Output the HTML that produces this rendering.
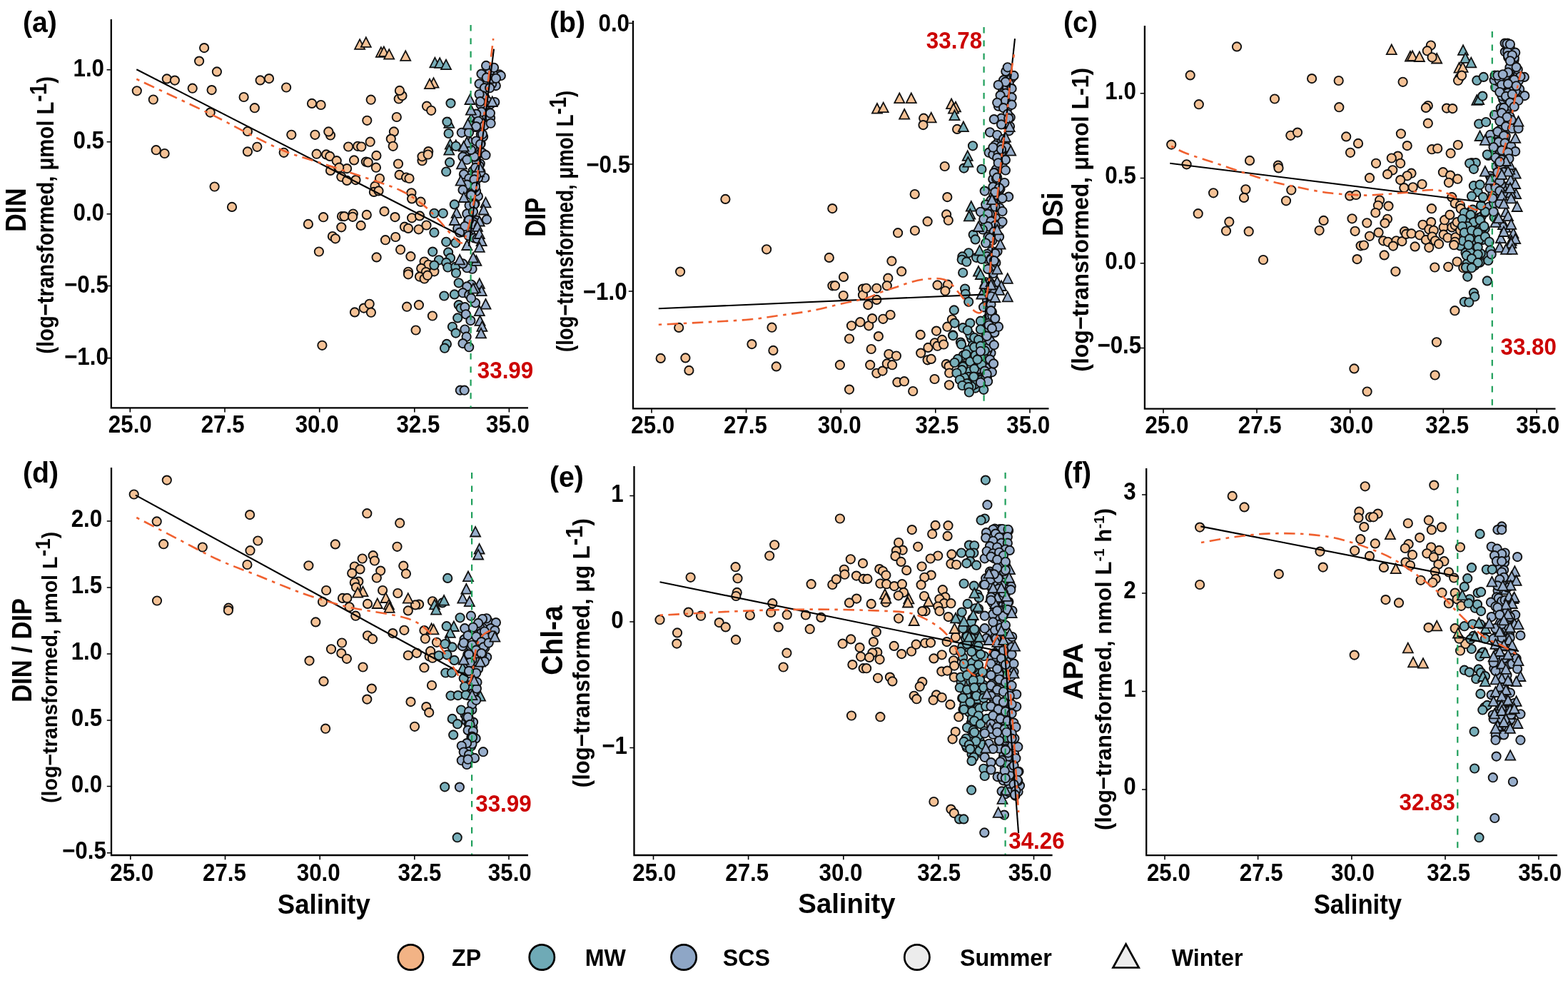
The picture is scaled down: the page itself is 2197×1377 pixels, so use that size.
<!DOCTYPE html>
<html lang="en"><head><meta charset="utf-8"><title>Nutrients versus salinity</title>
<style>
html,body{margin:0;padding:0;background:#fff;}
body{width:2197px;height:1377px;overflow:hidden;}
svg{display:block;font-family:"Liberation Sans", Arial, Helvetica, sans-serif;font-weight:bold;}
</style></head><body>
<svg xmlns="http://www.w3.org/2000/svg" width="2197" height="1377" viewBox="0 0 2197 1377">
<rect width="2197" height="1377" fill="#fff"/>
<g id="panel-a">
<path d="M155.8 27V571.4H740" fill="none" stroke="#000" stroke-width="2.3" stroke-linejoin="miter"/>
<path d="M182.3 571.4v6.2M315 571.4v6.2M447.7 571.4v6.2M580.8 571.4v6.2M713.4 571.4v6.2M155.8 97.7h-6.2M155.8 198.8h-6.2M155.8 299.7h-6.2M155.8 400.5h-6.2M155.8 501.6h-6.2" fill="none" stroke="#000" stroke-width="1.6"/>
<text transform="translate(182.3 606.0) scale(0.908 1)" font-size="34.5" text-anchor="middle" fill="#000">25.0</text>
<text transform="translate(312.1 606.0) scale(0.908 1)" font-size="34.5" text-anchor="middle" fill="#000">27.5</text>
<text transform="translate(444.1 606.0) scale(0.908 1)" font-size="34.5" text-anchor="middle" fill="#000">30.0</text>
<text transform="translate(585.9 606.0) scale(0.908 1)" font-size="34.5" text-anchor="middle" fill="#000">32.5</text>
<text transform="translate(711.5 606.0) scale(0.908 1)" font-size="34.5" text-anchor="middle" fill="#000">35.0</text>
<text transform="translate(146.0 107.0) scale(0.908 1)" font-size="34.5" text-anchor="end" fill="#000">1.0</text>
<text transform="translate(146.0 208.1) scale(0.908 1)" font-size="34.5" text-anchor="end" fill="#000">0.5</text>
<text transform="translate(146.0 309.0) scale(0.908 1)" font-size="34.5" text-anchor="end" fill="#000">0.0</text>
<text transform="translate(151.9 409.8) scale(0.908 1)" font-size="34.5" text-anchor="end" fill="#000">−0.5</text>
<text transform="translate(151.9 510.9) scale(0.908 1)" font-size="34.5" text-anchor="end" fill="#000">−1.0</text>
<text transform="translate(36.0 294.2) rotate(-90) scale(0.8712 1)" font-size="41" text-anchor="middle" fill="#000">DIN</text>
<text transform="translate(75.0 301.4) rotate(-90) scale(0.8596 1)" font-size="34" text-anchor="middle" fill="#000">(log−transformed, μmol L<tspan dy="-10">-1</tspan><tspan dy="10">)</tspan></text>
<text transform="translate(32.0 45.0) scale(0.98 1)" font-size="40" text-anchor="start" fill="#000">(a)</text>
<circle cx="665.4" cy="276.8" r="6.15" fill="#98AECB" stroke="#111" stroke-width="1.9"/>
<circle cx="699.9" cy="104.4" r="6.15" fill="#98AECB" stroke="#111" stroke-width="1.9"/>
<circle cx="679.1" cy="249.0" r="6.15" fill="#98AECB" stroke="#111" stroke-width="1.9"/>
<circle cx="679.3" cy="136.4" r="6.15" fill="#98AECB" stroke="#111" stroke-width="1.9"/>
<circle cx="672.7" cy="229.3" r="6.15" fill="#98AECB" stroke="#111" stroke-width="1.9"/>
<circle cx="669.9" cy="249.4" r="6.15" fill="#98AECB" stroke="#111" stroke-width="1.9"/>
<circle cx="660.5" cy="203.8" r="6.15" fill="#98AECB" stroke="#111" stroke-width="1.9"/>
<circle cx="658.8" cy="324.9" r="6.15" fill="#98AECB" stroke="#111" stroke-width="1.9"/>
<circle cx="677.6" cy="138.5" r="6.15" fill="#98AECB" stroke="#111" stroke-width="1.9"/>
<circle cx="661.7" cy="260.8" r="6.15" fill="#98AECB" stroke="#111" stroke-width="1.9"/>
<circle cx="661.1" cy="214.4" r="6.15" fill="#98AECB" stroke="#111" stroke-width="1.9"/>
<circle cx="669.9" cy="274.9" r="6.15" fill="#98AECB" stroke="#111" stroke-width="1.9"/>
<circle cx="671.3" cy="232.3" r="6.15" fill="#98AECB" stroke="#111" stroke-width="1.9"/>
<polygon points="659.0,190.7 652.0,204.3 666.0,204.3" fill="#98AECB" stroke="#111" stroke-width="1.8" stroke-linejoin="miter"/>
<circle cx="667.6" cy="226.1" r="6.15" fill="#98AECB" stroke="#111" stroke-width="1.9"/>
<circle cx="665.5" cy="219.7" r="6.15" fill="#98AECB" stroke="#111" stroke-width="1.9"/>
<circle cx="662.2" cy="264.8" r="6.15" fill="#98AECB" stroke="#111" stroke-width="1.9"/>
<circle cx="672.1" cy="210.6" r="6.15" fill="#98AECB" stroke="#111" stroke-width="1.9"/>
<circle cx="673.8" cy="188.5" r="6.15" fill="#98AECB" stroke="#111" stroke-width="1.9"/>
<circle cx="661.6" cy="302.9" r="6.15" fill="#98AECB" stroke="#111" stroke-width="1.9"/>
<circle cx="664.3" cy="206.9" r="6.15" fill="#98AECB" stroke="#111" stroke-width="1.9"/>
<circle cx="676.3" cy="174.4" r="6.15" fill="#98AECB" stroke="#111" stroke-width="1.9"/>
<polygon points="670.8,233.8 663.8,247.4 677.8,247.4" fill="#98AECB" stroke="#111" stroke-width="1.8" stroke-linejoin="miter"/>
<circle cx="694.8" cy="120.1" r="6.15" fill="#98AECB" stroke="#111" stroke-width="1.9"/>
<circle cx="687.2" cy="146.1" r="6.15" fill="#98AECB" stroke="#111" stroke-width="1.9"/>
<circle cx="667.9" cy="308.8" r="6.15" fill="#98AECB" stroke="#111" stroke-width="1.9"/>
<circle cx="651.6" cy="325.2" r="6.15" fill="#98AECB" stroke="#111" stroke-width="1.9"/>
<circle cx="662.7" cy="239.3" r="6.15" fill="#98AECB" stroke="#111" stroke-width="1.9"/>
<circle cx="679.1" cy="116.8" r="6.15" fill="#98AECB" stroke="#111" stroke-width="1.9"/>
<circle cx="682.5" cy="117.5" r="6.15" fill="#98AECB" stroke="#111" stroke-width="1.9"/>
<circle cx="667.1" cy="267.8" r="6.15" fill="#98AECB" stroke="#111" stroke-width="1.9"/>
<polygon points="666.3,170.6 659.3,184.2 673.3,184.2" fill="#98AECB" stroke="#111" stroke-width="1.8" stroke-linejoin="miter"/>
<circle cx="656.5" cy="312.3" r="6.15" fill="#98AECB" stroke="#111" stroke-width="1.9"/>
<polygon points="660.9,157.7 653.9,171.3 667.9,171.3" fill="#98AECB" stroke="#111" stroke-width="1.8" stroke-linejoin="miter"/>
<circle cx="673.5" cy="241.1" r="6.15" fill="#98AECB" stroke="#111" stroke-width="1.9"/>
<circle cx="661.3" cy="313.0" r="6.15" fill="#98AECB" stroke="#111" stroke-width="1.9"/>
<polygon points="668.5,157.5 661.5,171.1 675.5,171.1" fill="#98AECB" stroke="#111" stroke-width="1.8" stroke-linejoin="miter"/>
<circle cx="684.6" cy="157.0" r="6.15" fill="#98AECB" stroke="#111" stroke-width="1.9"/>
<circle cx="656.6" cy="330.3" r="6.15" fill="#98AECB" stroke="#111" stroke-width="1.9"/>
<circle cx="682.8" cy="141.4" r="6.15" fill="#98AECB" stroke="#111" stroke-width="1.9"/>
<circle cx="673.7" cy="200.9" r="6.15" fill="#98AECB" stroke="#111" stroke-width="1.9"/>
<circle cx="675.2" cy="140.1" r="6.15" fill="#98AECB" stroke="#111" stroke-width="1.9"/>
<circle cx="654.5" cy="314.6" r="6.15" fill="#98AECB" stroke="#111" stroke-width="1.9"/>
<circle cx="657.0" cy="247.6" r="6.15" fill="#98AECB" stroke="#111" stroke-width="1.9"/>
<circle cx="680.0" cy="146.8" r="6.15" fill="#98AECB" stroke="#111" stroke-width="1.9"/>
<circle cx="679.5" cy="172.0" r="6.15" fill="#98AECB" stroke="#111" stroke-width="1.9"/>
<circle cx="660.8" cy="245.0" r="6.15" fill="#98AECB" stroke="#111" stroke-width="1.9"/>
<circle cx="664.6" cy="333.4" r="6.15" fill="#98AECB" stroke="#111" stroke-width="1.9"/>
<circle cx="666.1" cy="238.1" r="6.15" fill="#98AECB" stroke="#111" stroke-width="1.9"/>
<polygon points="655.9,203.3 648.9,216.9 662.9,216.9" fill="#98AECB" stroke="#111" stroke-width="1.8" stroke-linejoin="miter"/>
<circle cx="682.2" cy="162.8" r="6.15" fill="#98AECB" stroke="#111" stroke-width="1.9"/>
<circle cx="687.1" cy="164.9" r="6.15" fill="#98AECB" stroke="#111" stroke-width="1.9"/>
<circle cx="666.2" cy="234.9" r="6.15" fill="#98AECB" stroke="#111" stroke-width="1.9"/>
<circle cx="691.7" cy="105.2" r="6.15" fill="#98AECB" stroke="#111" stroke-width="1.9"/>
<circle cx="663.7" cy="311.1" r="6.15" fill="#98AECB" stroke="#111" stroke-width="1.9"/>
<circle cx="665.5" cy="285.2" r="6.15" fill="#98AECB" stroke="#111" stroke-width="1.9"/>
<circle cx="665.7" cy="257.7" r="6.15" fill="#98AECB" stroke="#111" stroke-width="1.9"/>
<circle cx="693.3" cy="143.0" r="6.15" fill="#98AECB" stroke="#111" stroke-width="1.9"/>
<circle cx="701.8" cy="106.0" r="6.15" fill="#98AECB" stroke="#111" stroke-width="1.9"/>
<circle cx="677.1" cy="191.4" r="6.15" fill="#98AECB" stroke="#111" stroke-width="1.9"/>
<circle cx="663.5" cy="314.4" r="6.15" fill="#98AECB" stroke="#111" stroke-width="1.9"/>
<circle cx="657.6" cy="287.7" r="6.15" fill="#98AECB" stroke="#111" stroke-width="1.9"/>
<circle cx="673.4" cy="143.4" r="6.15" fill="#98AECB" stroke="#111" stroke-width="1.9"/>
<circle cx="660.8" cy="253.9" r="6.15" fill="#98AECB" stroke="#111" stroke-width="1.9"/>
<circle cx="689.1" cy="117.7" r="6.15" fill="#98AECB" stroke="#111" stroke-width="1.9"/>
<circle cx="673.4" cy="146.3" r="6.15" fill="#98AECB" stroke="#111" stroke-width="1.9"/>
<circle cx="656.1" cy="309.0" r="6.15" fill="#98AECB" stroke="#111" stroke-width="1.9"/>
<circle cx="686.6" cy="99.6" r="6.15" fill="#98AECB" stroke="#111" stroke-width="1.9"/>
<circle cx="665.1" cy="263.2" r="6.15" fill="#98AECB" stroke="#111" stroke-width="1.9"/>
<circle cx="668.6" cy="334.4" r="6.15" fill="#98AECB" stroke="#111" stroke-width="1.9"/>
<circle cx="676.0" cy="214.3" r="6.15" fill="#98AECB" stroke="#111" stroke-width="1.9"/>
<circle cx="661.8" cy="206.5" r="6.15" fill="#98AECB" stroke="#111" stroke-width="1.9"/>
<circle cx="663.0" cy="251.9" r="6.15" fill="#98AECB" stroke="#111" stroke-width="1.9"/>
<circle cx="660.2" cy="271.8" r="6.15" fill="#98AECB" stroke="#111" stroke-width="1.9"/>
<circle cx="666.9" cy="246.0" r="6.15" fill="#98AECB" stroke="#111" stroke-width="1.9"/>
<circle cx="689.4" cy="110.4" r="6.15" fill="#98AECB" stroke="#111" stroke-width="1.9"/>
<circle cx="191.8" cy="127.3" r="6.15" fill="#F5C296" stroke="#111" stroke-width="1.9"/>
<circle cx="214.8" cy="139.5" r="6.15" fill="#F5C296" stroke="#111" stroke-width="1.9"/>
<circle cx="233.8" cy="110.4" r="6.15" fill="#F5C296" stroke="#111" stroke-width="1.9"/>
<circle cx="244.9" cy="112.6" r="6.15" fill="#F5C296" stroke="#111" stroke-width="1.9"/>
<circle cx="286.1" cy="67.1" r="6.15" fill="#F5C296" stroke="#111" stroke-width="1.9"/>
<circle cx="279.1" cy="85.6" r="6.15" fill="#F5C296" stroke="#111" stroke-width="1.9"/>
<circle cx="303.9" cy="100.4" r="6.15" fill="#F5C296" stroke="#111" stroke-width="1.9"/>
<circle cx="269.7" cy="123.7" r="6.15" fill="#F5C296" stroke="#111" stroke-width="1.9"/>
<circle cx="296.6" cy="126.1" r="6.15" fill="#F5C296" stroke="#111" stroke-width="1.9"/>
<circle cx="294.7" cy="157.6" r="6.15" fill="#F5C296" stroke="#111" stroke-width="1.9"/>
<circle cx="341.6" cy="136.0" r="6.15" fill="#F5C296" stroke="#111" stroke-width="1.9"/>
<circle cx="356.8" cy="151.2" r="6.15" fill="#F5C296" stroke="#111" stroke-width="1.9"/>
<circle cx="364.6" cy="112.4" r="6.15" fill="#F5C296" stroke="#111" stroke-width="1.9"/>
<circle cx="377.0" cy="110.1" r="6.15" fill="#F5C296" stroke="#111" stroke-width="1.9"/>
<circle cx="401.1" cy="122.5" r="6.15" fill="#F5C296" stroke="#111" stroke-width="1.9"/>
<circle cx="346.9" cy="184.0" r="6.15" fill="#F5C296" stroke="#111" stroke-width="1.9"/>
<circle cx="360.3" cy="205.8" r="6.15" fill="#F5C296" stroke="#111" stroke-width="1.9"/>
<circle cx="346.9" cy="212.4" r="6.15" fill="#F5C296" stroke="#111" stroke-width="1.9"/>
<circle cx="408.3" cy="188.8" r="6.15" fill="#F5C296" stroke="#111" stroke-width="1.9"/>
<circle cx="397.7" cy="213.8" r="6.15" fill="#F5C296" stroke="#111" stroke-width="1.9"/>
<circle cx="437.0" cy="144.9" r="6.15" fill="#F5C296" stroke="#111" stroke-width="1.9"/>
<circle cx="449.6" cy="147.0" r="6.15" fill="#F5C296" stroke="#111" stroke-width="1.9"/>
<circle cx="441.4" cy="188.8" r="6.15" fill="#F5C296" stroke="#111" stroke-width="1.9"/>
<circle cx="463.0" cy="189.5" r="6.15" fill="#F5C296" stroke="#111" stroke-width="1.9"/>
<circle cx="460.3" cy="184.4" r="6.15" fill="#F5C296" stroke="#111" stroke-width="1.9"/>
<circle cx="443.6" cy="215.7" r="6.15" fill="#F5C296" stroke="#111" stroke-width="1.9"/>
<circle cx="457.1" cy="216.4" r="6.15" fill="#F5C296" stroke="#111" stroke-width="1.9"/>
<circle cx="462.2" cy="218.9" r="6.15" fill="#F5C296" stroke="#111" stroke-width="1.9"/>
<circle cx="471.7" cy="225.2" r="6.15" fill="#F5C296" stroke="#111" stroke-width="1.9"/>
<circle cx="218.7" cy="210.2" r="6.15" fill="#F5C296" stroke="#111" stroke-width="1.9"/>
<circle cx="230.6" cy="215.0" r="6.15" fill="#F5C296" stroke="#111" stroke-width="1.9"/>
<polygon points="504.1,55.2 497.1,68.8 511.1,68.8" fill="#F5C296" stroke="#111" stroke-width="1.8" stroke-linejoin="miter"/>
<polygon points="512.8,52.3 505.8,65.9 519.8,65.9" fill="#F5C296" stroke="#111" stroke-width="1.8" stroke-linejoin="miter"/>
<polygon points="533.9,66.2 526.9,79.8 540.9,79.8" fill="#F5C296" stroke="#111" stroke-width="1.8" stroke-linejoin="miter"/>
<polygon points="537.9,65.4 530.9,79.0 544.9,79.0" fill="#F5C296" stroke="#111" stroke-width="1.8" stroke-linejoin="miter"/>
<polygon points="545.2,69.1 538.2,82.7 552.2,82.7" fill="#F5C296" stroke="#111" stroke-width="1.8" stroke-linejoin="miter"/>
<polygon points="568.2,71.3 561.2,84.9 575.2,84.9" fill="#F5C296" stroke="#111" stroke-width="1.8" stroke-linejoin="miter"/>
<polygon points="607.5,109.1 600.5,122.7 614.5,122.7" fill="#F5C296" stroke="#111" stroke-width="1.8" stroke-linejoin="miter"/>
<polygon points="602.0,110.6 595.0,124.2 609.0,124.2" fill="#F5C296" stroke="#111" stroke-width="1.8" stroke-linejoin="miter"/>
<polygon points="609.4,80.7 602.4,94.3 616.4,94.3" fill="#78AFBA" stroke="#111" stroke-width="1.8" stroke-linejoin="miter"/>
<polygon points="616.2,81.2 609.2,94.8 623.2,94.8" fill="#78AFBA" stroke="#111" stroke-width="1.8" stroke-linejoin="miter"/>
<polygon points="625.0,83.6 618.0,97.2 632.0,97.2" fill="#78AFBA" stroke="#111" stroke-width="1.8" stroke-linejoin="miter"/>
<polygon points="629.3,165.2 622.3,178.8 636.3,178.8" fill="#78AFBA" stroke="#111" stroke-width="1.8" stroke-linejoin="miter"/>
<polygon points="630.8,195.1 623.8,208.7 637.8,208.7" fill="#78AFBA" stroke="#111" stroke-width="1.8" stroke-linejoin="miter"/>
<polygon points="629.3,203.1 622.3,216.7 636.3,216.7" fill="#78AFBA" stroke="#111" stroke-width="1.8" stroke-linejoin="miter"/>
<polygon points="638.8,196.5 631.8,210.1 645.8,210.1" fill="#78AFBA" stroke="#111" stroke-width="1.8" stroke-linejoin="miter"/>
<circle cx="519.7" cy="139.7" r="6.15" fill="#F5C296" stroke="#111" stroke-width="1.9"/>
<circle cx="558.7" cy="138.5" r="6.15" fill="#F5C296" stroke="#111" stroke-width="1.9"/>
<circle cx="563.5" cy="134.1" r="6.15" fill="#F5C296" stroke="#111" stroke-width="1.9"/>
<circle cx="559.9" cy="126.9" r="6.15" fill="#F5C296" stroke="#111" stroke-width="1.9"/>
<circle cx="598.0" cy="148.7" r="6.15" fill="#F5C296" stroke="#111" stroke-width="1.9"/>
<circle cx="604.2" cy="154.8" r="6.15" fill="#F5C296" stroke="#111" stroke-width="1.9"/>
<circle cx="555.8" cy="164.0" r="6.15" fill="#F5C296" stroke="#111" stroke-width="1.9"/>
<circle cx="514.3" cy="168.8" r="6.15" fill="#F5C296" stroke="#111" stroke-width="1.9"/>
<circle cx="551.9" cy="184.4" r="6.15" fill="#F5C296" stroke="#111" stroke-width="1.9"/>
<circle cx="547.8" cy="194.6" r="6.15" fill="#F5C296" stroke="#111" stroke-width="1.9"/>
<circle cx="550.7" cy="204.8" r="6.15" fill="#F5C296" stroke="#111" stroke-width="1.9"/>
<circle cx="518.7" cy="198.7" r="6.15" fill="#F5C296" stroke="#111" stroke-width="1.9"/>
<circle cx="488.1" cy="205.5" r="6.15" fill="#F5C296" stroke="#111" stroke-width="1.9"/>
<circle cx="501.2" cy="204.8" r="6.15" fill="#F5C296" stroke="#111" stroke-width="1.9"/>
<circle cx="506.3" cy="205.5" r="6.15" fill="#F5C296" stroke="#111" stroke-width="1.9"/>
<circle cx="496.1" cy="224.4" r="6.15" fill="#F5C296" stroke="#111" stroke-width="1.9"/>
<circle cx="512.8" cy="226.6" r="6.15" fill="#F5C296" stroke="#111" stroke-width="1.9"/>
<circle cx="515.7" cy="227.4" r="6.15" fill="#F5C296" stroke="#111" stroke-width="1.9"/>
<circle cx="527.4" cy="217.9" r="6.15" fill="#F5C296" stroke="#111" stroke-width="1.9"/>
<circle cx="558.0" cy="229.5" r="6.15" fill="#F5C296" stroke="#111" stroke-width="1.9"/>
<circle cx="591.5" cy="225.2" r="6.15" fill="#F5C296" stroke="#111" stroke-width="1.9"/>
<circle cx="591.5" cy="219.3" r="6.15" fill="#F5C296" stroke="#111" stroke-width="1.9"/>
<circle cx="600.2" cy="212.1" r="6.15" fill="#F5C296" stroke="#111" stroke-width="1.9"/>
<circle cx="631.5" cy="144.6" r="6.15" fill="#78AFBA" stroke="#111" stroke-width="1.9"/>
<circle cx="626.4" cy="170.6" r="6.15" fill="#78AFBA" stroke="#111" stroke-width="1.9"/>
<circle cx="628.6" cy="187.0" r="6.15" fill="#78AFBA" stroke="#111" stroke-width="1.9"/>
<circle cx="638.8" cy="204.8" r="6.15" fill="#78AFBA" stroke="#111" stroke-width="1.9"/>
<circle cx="630.1" cy="227.4" r="6.15" fill="#78AFBA" stroke="#111" stroke-width="1.9"/>
<circle cx="300.6" cy="261.5" r="6.15" fill="#F5C296" stroke="#111" stroke-width="1.9"/>
<circle cx="325.0" cy="289.9" r="6.15" fill="#F5C296" stroke="#111" stroke-width="1.9"/>
<circle cx="431.9" cy="313.9" r="6.15" fill="#F5C296" stroke="#111" stroke-width="1.9"/>
<circle cx="453.1" cy="304.2" r="6.15" fill="#F5C296" stroke="#111" stroke-width="1.9"/>
<circle cx="465.9" cy="331.0" r="6.15" fill="#F5C296" stroke="#111" stroke-width="1.9"/>
<circle cx="469.9" cy="334.3" r="6.15" fill="#F5C296" stroke="#111" stroke-width="1.9"/>
<circle cx="446.9" cy="352.5" r="6.15" fill="#F5C296" stroke="#111" stroke-width="1.9"/>
<circle cx="463.0" cy="238.9" r="6.15" fill="#F5C296" stroke="#111" stroke-width="1.9"/>
<circle cx="478.3" cy="247.7" r="6.15" fill="#F5C296" stroke="#111" stroke-width="1.9"/>
<circle cx="479.0" cy="303.0" r="6.15" fill="#F5C296" stroke="#111" stroke-width="1.9"/>
<circle cx="478.3" cy="318.3" r="6.15" fill="#F5C296" stroke="#111" stroke-width="1.9"/>
<circle cx="526.9" cy="234.7" r="6.15" fill="#F5C296" stroke="#111" stroke-width="1.9"/>
<circle cx="486.1" cy="236.1" r="6.15" fill="#F5C296" stroke="#111" stroke-width="1.9"/>
<circle cx="475.2" cy="234.7" r="6.15" fill="#F5C296" stroke="#111" stroke-width="1.9"/>
<circle cx="486.1" cy="252.9" r="6.15" fill="#F5C296" stroke="#111" stroke-width="1.9"/>
<circle cx="498.5" cy="252.1" r="6.15" fill="#F5C296" stroke="#111" stroke-width="1.9"/>
<circle cx="532.0" cy="250.0" r="6.15" fill="#F5C296" stroke="#111" stroke-width="1.9"/>
<circle cx="525.4" cy="260.9" r="6.15" fill="#F5C296" stroke="#111" stroke-width="1.9"/>
<circle cx="523.9" cy="268.9" r="6.15" fill="#F5C296" stroke="#111" stroke-width="1.9"/>
<circle cx="530.5" cy="267.4" r="6.15" fill="#F5C296" stroke="#111" stroke-width="1.9"/>
<circle cx="559.6" cy="244.9" r="6.15" fill="#F5C296" stroke="#111" stroke-width="1.9"/>
<circle cx="569.1" cy="248.5" r="6.15" fill="#F5C296" stroke="#111" stroke-width="1.9"/>
<circle cx="573.5" cy="250.0" r="6.15" fill="#F5C296" stroke="#111" stroke-width="1.9"/>
<circle cx="599.7" cy="216.5" r="6.15" fill="#F5C296" stroke="#111" stroke-width="1.9"/>
<circle cx="576.4" cy="270.3" r="6.15" fill="#F5C296" stroke="#111" stroke-width="1.9"/>
<circle cx="577.1" cy="278.4" r="6.15" fill="#F5C296" stroke="#111" stroke-width="1.9"/>
<circle cx="589.5" cy="282.7" r="6.15" fill="#F5C296" stroke="#111" stroke-width="1.9"/>
<circle cx="482.4" cy="303.1" r="6.15" fill="#F5C296" stroke="#111" stroke-width="1.9"/>
<circle cx="494.8" cy="299.5" r="6.15" fill="#F5C296" stroke="#111" stroke-width="1.9"/>
<circle cx="494.1" cy="303.8" r="6.15" fill="#F5C296" stroke="#111" stroke-width="1.9"/>
<circle cx="505.7" cy="315.9" r="6.15" fill="#F5C296" stroke="#111" stroke-width="1.9"/>
<circle cx="513.8" cy="300.9" r="6.15" fill="#F5C296" stroke="#111" stroke-width="1.9"/>
<circle cx="538.5" cy="296.1" r="6.15" fill="#F5C296" stroke="#111" stroke-width="1.9"/>
<circle cx="553.5" cy="304.1" r="6.15" fill="#F5C296" stroke="#111" stroke-width="1.9"/>
<circle cx="577.1" cy="305.3" r="6.15" fill="#F5C296" stroke="#111" stroke-width="1.9"/>
<circle cx="588.0" cy="302.4" r="6.15" fill="#F5C296" stroke="#111" stroke-width="1.9"/>
<circle cx="566.9" cy="317.7" r="6.15" fill="#F5C296" stroke="#111" stroke-width="1.9"/>
<circle cx="572.0" cy="319.9" r="6.15" fill="#F5C296" stroke="#111" stroke-width="1.9"/>
<circle cx="586.6" cy="321.3" r="6.15" fill="#F5C296" stroke="#111" stroke-width="1.9"/>
<circle cx="597.5" cy="315.5" r="6.15" fill="#F5C296" stroke="#111" stroke-width="1.9"/>
<circle cx="540.0" cy="336.2" r="6.15" fill="#F5C296" stroke="#111" stroke-width="1.9"/>
<circle cx="554.2" cy="332.0" r="6.15" fill="#F5C296" stroke="#111" stroke-width="1.9"/>
<circle cx="527.6" cy="360.4" r="6.15" fill="#F5C296" stroke="#111" stroke-width="1.9"/>
<circle cx="561.1" cy="349.7" r="6.15" fill="#F5C296" stroke="#111" stroke-width="1.9"/>
<circle cx="575.4" cy="359.2" r="6.15" fill="#F5C296" stroke="#111" stroke-width="1.9"/>
<circle cx="594.6" cy="366.5" r="6.15" fill="#F5C296" stroke="#111" stroke-width="1.9"/>
<circle cx="600.4" cy="370.8" r="6.15" fill="#F5C296" stroke="#111" stroke-width="1.9"/>
<circle cx="590.2" cy="375.9" r="6.15" fill="#F5C296" stroke="#111" stroke-width="1.9"/>
<circle cx="572.0" cy="380.8" r="6.15" fill="#F5C296" stroke="#111" stroke-width="1.9"/>
<circle cx="596.8" cy="381.0" r="6.15" fill="#F5C296" stroke="#111" stroke-width="1.9"/>
<circle cx="608.4" cy="380.3" r="6.15" fill="#F5C296" stroke="#111" stroke-width="1.9"/>
<circle cx="588.0" cy="387.6" r="6.15" fill="#F5C296" stroke="#111" stroke-width="1.9"/>
<circle cx="594.6" cy="390.5" r="6.15" fill="#F5C296" stroke="#111" stroke-width="1.9"/>
<circle cx="625.2" cy="240.5" r="6.15" fill="#78AFBA" stroke="#111" stroke-width="1.9"/>
<circle cx="608.4" cy="298.8" r="6.15" fill="#78AFBA" stroke="#111" stroke-width="1.9"/>
<circle cx="620.8" cy="298.8" r="6.15" fill="#78AFBA" stroke="#111" stroke-width="1.9"/>
<circle cx="608.4" cy="325.7" r="6.15" fill="#78AFBA" stroke="#111" stroke-width="1.9"/>
<circle cx="625.2" cy="338.8" r="6.15" fill="#78AFBA" stroke="#111" stroke-width="1.9"/>
<circle cx="638.3" cy="340.3" r="6.15" fill="#78AFBA" stroke="#111" stroke-width="1.9"/>
<circle cx="606.2" cy="352.6" r="6.15" fill="#78AFBA" stroke="#111" stroke-width="1.9"/>
<circle cx="628.1" cy="353.4" r="6.15" fill="#78AFBA" stroke="#111" stroke-width="1.9"/>
<circle cx="631.0" cy="361.4" r="6.15" fill="#78AFBA" stroke="#111" stroke-width="1.9"/>
<circle cx="615.0" cy="364.3" r="6.15" fill="#78AFBA" stroke="#111" stroke-width="1.9"/>
<circle cx="608.4" cy="371.6" r="6.15" fill="#78AFBA" stroke="#111" stroke-width="1.9"/>
<circle cx="625.2" cy="367.9" r="6.15" fill="#78AFBA" stroke="#111" stroke-width="1.9"/>
<circle cx="627.4" cy="374.5" r="6.15" fill="#78AFBA" stroke="#111" stroke-width="1.9"/>
<circle cx="638.3" cy="373.8" r="6.15" fill="#78AFBA" stroke="#111" stroke-width="1.9"/>
<circle cx="639.0" cy="382.5" r="6.15" fill="#78AFBA" stroke="#111" stroke-width="1.9"/>
<circle cx="642.7" cy="396.3" r="6.15" fill="#78AFBA" stroke="#111" stroke-width="1.9"/>
<circle cx="622.3" cy="414.5" r="6.15" fill="#78AFBA" stroke="#111" stroke-width="1.9"/>
<circle cx="636.8" cy="412.4" r="6.15" fill="#78AFBA" stroke="#111" stroke-width="1.9"/>
<circle cx="636.8" cy="286.4" r="6.15" fill="#78AFBA" stroke="#111" stroke-width="1.9"/>
<circle cx="680.5" cy="217.2" r="6.15" fill="#98AECB" stroke="#111" stroke-width="1.9"/>
<circle cx="664.5" cy="219.4" r="6.15" fill="#98AECB" stroke="#111" stroke-width="1.9"/>
<circle cx="648.5" cy="219.4" r="6.15" fill="#98AECB" stroke="#111" stroke-width="1.9"/>
<circle cx="654.3" cy="223.7" r="6.15" fill="#98AECB" stroke="#111" stroke-width="1.9"/>
<circle cx="649.9" cy="244.1" r="6.15" fill="#98AECB" stroke="#111" stroke-width="1.9"/>
<circle cx="657.2" cy="250.0" r="6.15" fill="#98AECB" stroke="#111" stroke-width="1.9"/>
<circle cx="664.5" cy="251.4" r="6.15" fill="#98AECB" stroke="#111" stroke-width="1.9"/>
<circle cx="654.3" cy="258.7" r="6.15" fill="#98AECB" stroke="#111" stroke-width="1.9"/>
<circle cx="666.0" cy="261.6" r="6.15" fill="#98AECB" stroke="#111" stroke-width="1.9"/>
<circle cx="648.5" cy="266.0" r="6.15" fill="#98AECB" stroke="#111" stroke-width="1.9"/>
<circle cx="660.1" cy="273.3" r="6.15" fill="#98AECB" stroke="#111" stroke-width="1.9"/>
<circle cx="664.5" cy="286.4" r="6.15" fill="#98AECB" stroke="#111" stroke-width="1.9"/>
<circle cx="654.3" cy="299.5" r="6.15" fill="#98AECB" stroke="#111" stroke-width="1.9"/>
<circle cx="663.0" cy="296.6" r="6.15" fill="#98AECB" stroke="#111" stroke-width="1.9"/>
<circle cx="682.0" cy="307.5" r="6.15" fill="#98AECB" stroke="#111" stroke-width="1.9"/>
<circle cx="657.2" cy="308.2" r="6.15" fill="#98AECB" stroke="#111" stroke-width="1.9"/>
<circle cx="641.2" cy="319.9" r="6.15" fill="#98AECB" stroke="#111" stroke-width="1.9"/>
<circle cx="651.4" cy="317.0" r="6.15" fill="#98AECB" stroke="#111" stroke-width="1.9"/>
<circle cx="644.1" cy="325.7" r="6.15" fill="#98AECB" stroke="#111" stroke-width="1.9"/>
<circle cx="661.6" cy="376.7" r="6.15" fill="#98AECB" stroke="#111" stroke-width="1.9"/>
<circle cx="654.3" cy="375.2" r="6.15" fill="#98AECB" stroke="#111" stroke-width="1.9"/>
<circle cx="648.5" cy="369.4" r="6.15" fill="#98AECB" stroke="#111" stroke-width="1.9"/>
<circle cx="660.1" cy="398.5" r="6.15" fill="#98AECB" stroke="#111" stroke-width="1.9"/>
<circle cx="654.3" cy="401.4" r="6.15" fill="#98AECB" stroke="#111" stroke-width="1.9"/>
<circle cx="648.5" cy="410.2" r="6.15" fill="#98AECB" stroke="#111" stroke-width="1.9"/>
<circle cx="657.2" cy="413.1" r="6.15" fill="#98AECB" stroke="#111" stroke-width="1.9"/>
<polygon points="647.0,222.8 640.0,236.4 654.0,236.4" fill="#98AECB" stroke="#111" stroke-width="1.8" stroke-linejoin="miter"/>
<polygon points="671.8,227.1 664.8,240.7 678.8,240.7" fill="#98AECB" stroke="#111" stroke-width="1.8" stroke-linejoin="miter"/>
<polygon points="645.6,246.1 638.6,259.7 652.6,259.7" fill="#98AECB" stroke="#111" stroke-width="1.8" stroke-linejoin="miter"/>
<polygon points="649.9,269.4 642.9,283.0 656.9,283.0" fill="#98AECB" stroke="#111" stroke-width="1.8" stroke-linejoin="miter"/>
<polygon points="680.5,276.7 673.5,290.3 687.5,290.3" fill="#98AECB" stroke="#111" stroke-width="1.8" stroke-linejoin="miter"/>
<polygon points="677.6,286.9 670.6,300.5 684.6,300.5" fill="#98AECB" stroke="#111" stroke-width="1.8" stroke-linejoin="miter"/>
<polygon points="639.7,291.2 632.7,304.8 646.7,304.8" fill="#98AECB" stroke="#111" stroke-width="1.8" stroke-linejoin="miter"/>
<polygon points="671.8,302.9 664.8,316.5 678.8,316.5" fill="#98AECB" stroke="#111" stroke-width="1.8" stroke-linejoin="miter"/>
<polygon points="668.9,310.2 661.9,323.8 675.9,323.8" fill="#98AECB" stroke="#111" stroke-width="1.8" stroke-linejoin="miter"/>
<polygon points="636.8,301.4 629.8,315.0 643.8,315.0" fill="#98AECB" stroke="#111" stroke-width="1.8" stroke-linejoin="miter"/>
<polygon points="671.8,320.4 664.8,334.0 678.8,334.0" fill="#98AECB" stroke="#111" stroke-width="1.8" stroke-linejoin="miter"/>
<polygon points="674.7,330.5 667.7,344.1 681.7,344.1" fill="#98AECB" stroke="#111" stroke-width="1.8" stroke-linejoin="miter"/>
<polygon points="654.3,336.4 647.3,350.0 661.3,350.0" fill="#98AECB" stroke="#111" stroke-width="1.8" stroke-linejoin="miter"/>
<polygon points="671.8,339.3 664.8,352.9 678.8,352.9" fill="#98AECB" stroke="#111" stroke-width="1.8" stroke-linejoin="miter"/>
<polygon points="644.1,356.8 637.1,370.4 651.1,370.4" fill="#98AECB" stroke="#111" stroke-width="1.8" stroke-linejoin="miter"/>
<polygon points="667.4,358.2 660.4,371.8 674.4,371.8" fill="#98AECB" stroke="#111" stroke-width="1.8" stroke-linejoin="miter"/>
<polygon points="663.0,353.9 656.0,367.5 670.0,367.5" fill="#98AECB" stroke="#111" stroke-width="1.8" stroke-linejoin="miter"/>
<polygon points="671.8,390.3 664.8,403.9 678.8,403.9" fill="#98AECB" stroke="#111" stroke-width="1.8" stroke-linejoin="miter"/>
<polygon points="674.7,400.5 667.7,414.1 681.7,414.1" fill="#98AECB" stroke="#111" stroke-width="1.8" stroke-linejoin="miter"/>
<polygon points="666.0,396.1 659.0,409.7 673.0,409.7" fill="#98AECB" stroke="#111" stroke-width="1.8" stroke-linejoin="miter"/>
<circle cx="681.1" cy="91.9" r="6.15" fill="#98AECB" stroke="#111" stroke-width="1.9"/>
<circle cx="692.0" cy="94.8" r="6.15" fill="#98AECB" stroke="#111" stroke-width="1.9"/>
<circle cx="674.5" cy="103.6" r="6.15" fill="#98AECB" stroke="#111" stroke-width="1.9"/>
<circle cx="681.8" cy="108.7" r="6.15" fill="#98AECB" stroke="#111" stroke-width="1.9"/>
<circle cx="694.9" cy="109.8" r="6.15" fill="#98AECB" stroke="#111" stroke-width="1.9"/>
<circle cx="671.6" cy="117.4" r="6.15" fill="#98AECB" stroke="#111" stroke-width="1.9"/>
<circle cx="678.9" cy="123.2" r="6.15" fill="#98AECB" stroke="#111" stroke-width="1.9"/>
<circle cx="686.2" cy="123.2" r="6.15" fill="#98AECB" stroke="#111" stroke-width="1.9"/>
<circle cx="676.0" cy="134.1" r="6.15" fill="#98AECB" stroke="#111" stroke-width="1.9"/>
<circle cx="671.6" cy="132.0" r="6.15" fill="#98AECB" stroke="#111" stroke-width="1.9"/>
<circle cx="673.0" cy="142.2" r="6.15" fill="#98AECB" stroke="#111" stroke-width="1.9"/>
<circle cx="674.5" cy="156.7" r="6.15" fill="#98AECB" stroke="#111" stroke-width="1.9"/>
<circle cx="686.9" cy="158.5" r="6.15" fill="#98AECB" stroke="#111" stroke-width="1.9"/>
<circle cx="667.2" cy="159.6" r="6.15" fill="#98AECB" stroke="#111" stroke-width="1.9"/>
<circle cx="670.1" cy="169.8" r="6.15" fill="#98AECB" stroke="#111" stroke-width="1.9"/>
<circle cx="678.9" cy="175.7" r="6.15" fill="#98AECB" stroke="#111" stroke-width="1.9"/>
<circle cx="687.6" cy="172.7" r="6.15" fill="#98AECB" stroke="#111" stroke-width="1.9"/>
<circle cx="658.5" cy="175.7" r="6.15" fill="#98AECB" stroke="#111" stroke-width="1.9"/>
<circle cx="646.8" cy="185.8" r="6.15" fill="#98AECB" stroke="#111" stroke-width="1.9"/>
<circle cx="657.0" cy="185.8" r="6.15" fill="#98AECB" stroke="#111" stroke-width="1.9"/>
<circle cx="667.2" cy="177.1" r="6.15" fill="#98AECB" stroke="#111" stroke-width="1.9"/>
<circle cx="676.0" cy="188.0" r="6.15" fill="#98AECB" stroke="#111" stroke-width="1.9"/>
<circle cx="667.2" cy="197.5" r="6.15" fill="#98AECB" stroke="#111" stroke-width="1.9"/>
<circle cx="651.2" cy="207.7" r="6.15" fill="#98AECB" stroke="#111" stroke-width="1.9"/>
<circle cx="659.9" cy="209.9" r="6.15" fill="#98AECB" stroke="#111" stroke-width="1.9"/>
<circle cx="673.0" cy="201.9" r="6.15" fill="#98AECB" stroke="#111" stroke-width="1.9"/>
<polygon points="689.8,135.4 682.8,149.0 696.8,149.0" fill="#98AECB" stroke="#111" stroke-width="1.8" stroke-linejoin="miter"/>
<polygon points="658.5,132.4 651.5,146.0 665.5,146.0" fill="#98AECB" stroke="#111" stroke-width="1.8" stroke-linejoin="miter"/>
<polygon points="659.9,147.0 652.9,160.6 666.9,160.6" fill="#98AECB" stroke="#111" stroke-width="1.8" stroke-linejoin="miter"/>
<polygon points="655.6,166.7 648.6,180.3 662.6,180.3" fill="#98AECB" stroke="#111" stroke-width="1.8" stroke-linejoin="miter"/>
<polygon points="654.1,192.2 647.1,205.8 661.1,205.8" fill="#98AECB" stroke="#111" stroke-width="1.8" stroke-linejoin="miter"/>
<polygon points="649.7,198.0 642.7,211.6 656.7,211.6" fill="#98AECB" stroke="#111" stroke-width="1.8" stroke-linejoin="miter"/>
<circle cx="451.4" cy="483.8" r="6.15" fill="#F5C296" stroke="#111" stroke-width="1.9"/>
<circle cx="497.0" cy="437.4" r="6.15" fill="#F5C296" stroke="#111" stroke-width="1.9"/>
<circle cx="509.8" cy="431.6" r="6.15" fill="#F5C296" stroke="#111" stroke-width="1.9"/>
<circle cx="517.7" cy="425.8" r="6.15" fill="#F5C296" stroke="#111" stroke-width="1.9"/>
<circle cx="519.9" cy="437.7" r="6.15" fill="#F5C296" stroke="#111" stroke-width="1.9"/>
<circle cx="570.1" cy="429.7" r="6.15" fill="#F5C296" stroke="#111" stroke-width="1.9"/>
<circle cx="586.9" cy="427.2" r="6.15" fill="#F5C296" stroke="#111" stroke-width="1.9"/>
<circle cx="605.9" cy="442.5" r="6.15" fill="#F5C296" stroke="#111" stroke-width="1.9"/>
<circle cx="582.6" cy="462.5" r="6.15" fill="#F5C296" stroke="#111" stroke-width="1.9"/>
<circle cx="572.0" cy="384.3" r="6.15" fill="#F5C296" stroke="#111" stroke-width="1.9"/>
<circle cx="599.0" cy="385.7" r="6.15" fill="#F5C296" stroke="#111" stroke-width="1.9"/>
<circle cx="642.7" cy="427.2" r="6.15" fill="#78AFBA" stroke="#111" stroke-width="1.9"/>
<circle cx="641.2" cy="445.4" r="6.15" fill="#78AFBA" stroke="#111" stroke-width="1.9"/>
<circle cx="633.9" cy="457.8" r="6.15" fill="#78AFBA" stroke="#111" stroke-width="1.9"/>
<circle cx="638.6" cy="466.6" r="6.15" fill="#78AFBA" stroke="#111" stroke-width="1.9"/>
<circle cx="625.9" cy="481.9" r="6.15" fill="#78AFBA" stroke="#111" stroke-width="1.9"/>
<circle cx="623.0" cy="487.7" r="6.15" fill="#78AFBA" stroke="#111" stroke-width="1.9"/>
<circle cx="645.6" cy="431.6" r="6.15" fill="#78AFBA" stroke="#111" stroke-width="1.9"/>
<circle cx="651.4" cy="430.2" r="6.15" fill="#98AECB" stroke="#111" stroke-width="1.9"/>
<circle cx="652.8" cy="440.3" r="6.15" fill="#98AECB" stroke="#111" stroke-width="1.9"/>
<circle cx="659.4" cy="449.1" r="6.15" fill="#98AECB" stroke="#111" stroke-width="1.9"/>
<circle cx="651.4" cy="461.5" r="6.15" fill="#98AECB" stroke="#111" stroke-width="1.9"/>
<circle cx="653.6" cy="471.7" r="6.15" fill="#98AECB" stroke="#111" stroke-width="1.9"/>
<circle cx="648.5" cy="481.1" r="6.15" fill="#98AECB" stroke="#111" stroke-width="1.9"/>
<circle cx="657.2" cy="486.2" r="6.15" fill="#98AECB" stroke="#111" stroke-width="1.9"/>
<circle cx="644.8" cy="546.7" r="6.15" fill="#98AECB" stroke="#111" stroke-width="1.9"/>
<circle cx="650.7" cy="546.7" r="6.15" fill="#98AECB" stroke="#111" stroke-width="1.9"/>
<circle cx="666.0" cy="424.3" r="6.15" fill="#98AECB" stroke="#111" stroke-width="1.9"/>
<circle cx="660.1" cy="417.8" r="6.15" fill="#98AECB" stroke="#111" stroke-width="1.9"/>
<polygon points="680.5,419.0 673.5,432.6 687.5,432.6" fill="#98AECB" stroke="#111" stroke-width="1.8" stroke-linejoin="miter"/>
<polygon points="671.8,428.5 664.8,442.1 678.8,442.1" fill="#98AECB" stroke="#111" stroke-width="1.8" stroke-linejoin="miter"/>
<polygon points="672.5,442.3 665.5,455.9 679.5,455.9" fill="#98AECB" stroke="#111" stroke-width="1.8" stroke-linejoin="miter"/>
<polygon points="675.4,450.3 668.4,463.9 682.4,463.9" fill="#98AECB" stroke="#111" stroke-width="1.8" stroke-linejoin="miter"/>
<polygon points="674.0,459.8 667.0,473.4 681.0,473.4" fill="#98AECB" stroke="#111" stroke-width="1.8" stroke-linejoin="miter"/>
<polygon points="663.0,397.1 656.0,410.7 670.0,410.7" fill="#98AECB" stroke="#111" stroke-width="1.8" stroke-linejoin="miter"/>
<line x1="659.6" y1="35" x2="659.6" y2="571" stroke="#1E9F5A" stroke-width="2.2" stroke-dasharray="8.6 9.8"/>
<path d="M191.3 97.3 L648.5 331.5" fill="none" stroke="#000" stroke-width="2.1"/>
<path d="M657.0 345.0 L692.0 68.6" fill="none" stroke="#000" stroke-width="2.1"/>
<path d="M191.3 110.8 C208.5 118.9 268.8 147.0 294.7 159.6 C320.6 172.2 329.7 178.0 346.9 186.6 C364.1 195.2 381.5 204.6 397.7 211.3 C413.9 218.0 424.1 220.0 444.0 226.6 C463.9 233.2 497.9 244.0 517.4 250.7 C536.9 257.4 549.0 261.0 561.1 266.7 C573.2 272.4 581.7 278.5 590.2 284.9 C598.7 291.3 604.8 297.8 612.1 305.3 C619.4 312.8 628.1 324.3 633.9 330.1 C639.7 335.9 643.6 341.0 647.0 340.3 C650.4 339.6 651.6 334.4 654.3 325.7 C657.0 316.9 660.6 300.2 663.0 287.8 C665.4 275.4 667.4 263.5 668.9 251.4 C670.4 239.3 668.1 247.9 671.8 215.0 C675.5 182.1 688.0 80.8 691.2 54.0" fill="none" stroke="#F0602F" stroke-width="2.6" stroke-dasharray="4.5 7.5 15.5 7.5"/>
<text transform="translate(668.8 529.8) scale(0.95 1)" font-size="33" text-anchor="start" fill="#CC0000">33.99</text>
</g>
<g id="panel-b">
<path d="M887 29V572.4H1469.5" fill="none" stroke="#000" stroke-width="2.3" stroke-linejoin="miter"/>
<path d="M913 572.4v6.2M1045.5 572.4v6.2M1178.2 572.4v6.2M1310.8 572.4v6.2M1443 572.4v6.2M887 32.5h-6.2M887 230h-6.2M887 408h-6.2" fill="none" stroke="#000" stroke-width="1.6"/>
<text transform="translate(914.7 607.0) scale(0.908 1)" font-size="34.5" text-anchor="middle" fill="#000">25.0</text>
<text transform="translate(1044.5 607.0) scale(0.908 1)" font-size="34.5" text-anchor="middle" fill="#000">27.5</text>
<text transform="translate(1176.2 607.0) scale(0.908 1)" font-size="34.5" text-anchor="middle" fill="#000">30.0</text>
<text transform="translate(1312.9 607.0) scale(0.908 1)" font-size="34.5" text-anchor="middle" fill="#000">32.5</text>
<text transform="translate(1440.8 607.0) scale(0.908 1)" font-size="34.5" text-anchor="middle" fill="#000">35.0</text>
<text transform="translate(882.0 44.1) scale(0.908 1)" font-size="34.5" text-anchor="end" fill="#000">0.0</text>
<text transform="translate(883.1 241.6) scale(0.908 1)" font-size="34.5" text-anchor="end" fill="#000">−0.5</text>
<text transform="translate(878.6 419.6) scale(0.908 1)" font-size="34.5" text-anchor="end" fill="#000">−1.0</text>
<text transform="translate(763.6 304.3) rotate(-90) scale(0.8238 1)" font-size="40" text-anchor="middle" fill="#000">DIP</text>
<text transform="translate(802.6 309.9) rotate(-90) scale(0.8342 1)" font-size="33" text-anchor="middle" fill="#000">(log−transformed, μmol L<tspan dy="-10">-1</tspan><tspan dy="10">)</tspan></text>
<text transform="translate(770.0 45.0) scale(0.98 1)" font-size="40" text-anchor="start" fill="#000">(b)</text>
<circle cx="1401.5" cy="229.6" r="6.15" fill="#98AECB" stroke="#111" stroke-width="1.9"/>
<circle cx="1411.4" cy="102.7" r="6.15" fill="#98AECB" stroke="#111" stroke-width="1.9"/>
<circle cx="1386.5" cy="520.5" r="6.15" fill="#78AFBA" stroke="#111" stroke-width="1.9"/>
<circle cx="1413.9" cy="183.3" r="6.15" fill="#98AECB" stroke="#111" stroke-width="1.9"/>
<circle cx="1392.7" cy="216.8" r="6.15" fill="#98AECB" stroke="#111" stroke-width="1.9"/>
<circle cx="1381.5" cy="395.3" r="6.15" fill="#98AECB" stroke="#111" stroke-width="1.9"/>
<circle cx="1381.9" cy="488.4" r="6.15" fill="#98AECB" stroke="#111" stroke-width="1.9"/>
<circle cx="1380.6" cy="316.0" r="6.15" fill="#98AECB" stroke="#111" stroke-width="1.9"/>
<circle cx="1411.8" cy="166.1" r="6.15" fill="#98AECB" stroke="#111" stroke-width="1.9"/>
<circle cx="1410.6" cy="142.2" r="6.15" fill="#98AECB" stroke="#111" stroke-width="1.9"/>
<circle cx="1407.5" cy="136.5" r="6.15" fill="#98AECB" stroke="#111" stroke-width="1.9"/>
<circle cx="1401.5" cy="216.1" r="6.15" fill="#98AECB" stroke="#111" stroke-width="1.9"/>
<circle cx="1366.0" cy="526.5" r="6.15" fill="#78AFBA" stroke="#111" stroke-width="1.9"/>
<circle cx="1385.5" cy="516.8" r="6.15" fill="#98AECB" stroke="#111" stroke-width="1.9"/>
<circle cx="1382.6" cy="446.8" r="6.15" fill="#98AECB" stroke="#111" stroke-width="1.9"/>
<circle cx="1398.1" cy="222.2" r="6.15" fill="#98AECB" stroke="#111" stroke-width="1.9"/>
<circle cx="1406.3" cy="214.6" r="6.15" fill="#98AECB" stroke="#111" stroke-width="1.9"/>
<circle cx="1404.4" cy="171.4" r="6.15" fill="#98AECB" stroke="#111" stroke-width="1.9"/>
<circle cx="1394.9" cy="305.4" r="6.15" fill="#98AECB" stroke="#111" stroke-width="1.9"/>
<circle cx="1384.6" cy="361.5" r="6.15" fill="#98AECB" stroke="#111" stroke-width="1.9"/>
<circle cx="1387.9" cy="463.1" r="6.15" fill="#98AECB" stroke="#111" stroke-width="1.9"/>
<circle cx="1406.1" cy="112.2" r="6.15" fill="#98AECB" stroke="#111" stroke-width="1.9"/>
<circle cx="1412.0" cy="97.8" r="6.15" fill="#98AECB" stroke="#111" stroke-width="1.9"/>
<circle cx="1384.3" cy="407.0" r="6.15" fill="#98AECB" stroke="#111" stroke-width="1.9"/>
<circle cx="1357.7" cy="520.5" r="6.15" fill="#78AFBA" stroke="#111" stroke-width="1.9"/>
<circle cx="1403.6" cy="167.4" r="6.15" fill="#98AECB" stroke="#111" stroke-width="1.9"/>
<circle cx="1357.4" cy="527.9" r="6.15" fill="#78AFBA" stroke="#111" stroke-width="1.9"/>
<circle cx="1389.2" cy="351.7" r="6.15" fill="#98AECB" stroke="#111" stroke-width="1.9"/>
<circle cx="1403.4" cy="218.2" r="6.15" fill="#98AECB" stroke="#111" stroke-width="1.9"/>
<circle cx="1389.4" cy="289.4" r="6.15" fill="#98AECB" stroke="#111" stroke-width="1.9"/>
<circle cx="1390.4" cy="319.8" r="6.15" fill="#98AECB" stroke="#111" stroke-width="1.9"/>
<circle cx="1351.2" cy="529.0" r="6.15" fill="#78AFBA" stroke="#111" stroke-width="1.9"/>
<circle cx="1419.3" cy="106.8" r="6.15" fill="#98AECB" stroke="#111" stroke-width="1.9"/>
<circle cx="1408.0" cy="198.6" r="6.15" fill="#98AECB" stroke="#111" stroke-width="1.9"/>
<circle cx="1395.7" cy="237.4" r="6.15" fill="#98AECB" stroke="#111" stroke-width="1.9"/>
<circle cx="1361.3" cy="474.4" r="6.15" fill="#78AFBA" stroke="#111" stroke-width="1.9"/>
<circle cx="1415.7" cy="164.4" r="6.15" fill="#98AECB" stroke="#111" stroke-width="1.9"/>
<circle cx="1383.6" cy="414.9" r="6.15" fill="#98AECB" stroke="#111" stroke-width="1.9"/>
<circle cx="1375.6" cy="521.1" r="6.15" fill="#78AFBA" stroke="#111" stroke-width="1.9"/>
<circle cx="1374.5" cy="518.0" r="6.15" fill="#98AECB" stroke="#111" stroke-width="1.9"/>
<circle cx="1353.8" cy="496.5" r="6.15" fill="#78AFBA" stroke="#111" stroke-width="1.9"/>
<circle cx="1391.8" cy="407.4" r="6.15" fill="#98AECB" stroke="#111" stroke-width="1.9"/>
<circle cx="1391.3" cy="250.9" r="6.15" fill="#98AECB" stroke="#111" stroke-width="1.9"/>
<circle cx="1382.1" cy="362.5" r="6.15" fill="#98AECB" stroke="#111" stroke-width="1.9"/>
<circle cx="1400.2" cy="266.8" r="6.15" fill="#98AECB" stroke="#111" stroke-width="1.9"/>
<circle cx="1377.2" cy="531.8" r="6.15" fill="#98AECB" stroke="#111" stroke-width="1.9"/>
<circle cx="1383.0" cy="527.7" r="6.15" fill="#98AECB" stroke="#111" stroke-width="1.9"/>
<circle cx="1405.0" cy="125.5" r="6.15" fill="#98AECB" stroke="#111" stroke-width="1.9"/>
<circle cx="1416.4" cy="123.0" r="6.15" fill="#98AECB" stroke="#111" stroke-width="1.9"/>
<circle cx="1387.3" cy="396.2" r="6.15" fill="#98AECB" stroke="#111" stroke-width="1.9"/>
<circle cx="1378.7" cy="450.2" r="6.15" fill="#98AECB" stroke="#111" stroke-width="1.9"/>
<circle cx="1396.1" cy="271.3" r="6.15" fill="#98AECB" stroke="#111" stroke-width="1.9"/>
<circle cx="1406.3" cy="129.9" r="6.15" fill="#98AECB" stroke="#111" stroke-width="1.9"/>
<circle cx="1349.5" cy="511.9" r="6.15" fill="#78AFBA" stroke="#111" stroke-width="1.9"/>
<circle cx="1390.5" cy="336.8" r="6.15" fill="#98AECB" stroke="#111" stroke-width="1.9"/>
<circle cx="1391.6" cy="383.0" r="6.15" fill="#98AECB" stroke="#111" stroke-width="1.9"/>
<circle cx="1398.8" cy="198.8" r="6.15" fill="#98AECB" stroke="#111" stroke-width="1.9"/>
<circle cx="1409.3" cy="99.9" r="6.15" fill="#98AECB" stroke="#111" stroke-width="1.9"/>
<circle cx="1385.5" cy="449.1" r="6.15" fill="#98AECB" stroke="#111" stroke-width="1.9"/>
<circle cx="1391.7" cy="404.7" r="6.15" fill="#98AECB" stroke="#111" stroke-width="1.9"/>
<circle cx="1397.5" cy="352.2" r="6.15" fill="#98AECB" stroke="#111" stroke-width="1.9"/>
<circle cx="1394.9" cy="285.5" r="6.15" fill="#98AECB" stroke="#111" stroke-width="1.9"/>
<circle cx="1395.9" cy="250.0" r="6.15" fill="#98AECB" stroke="#111" stroke-width="1.9"/>
<circle cx="1404.5" cy="138.2" r="6.15" fill="#98AECB" stroke="#111" stroke-width="1.9"/>
<circle cx="1383.1" cy="355.8" r="6.15" fill="#98AECB" stroke="#111" stroke-width="1.9"/>
<circle cx="1383.1" cy="421.3" r="6.15" fill="#98AECB" stroke="#111" stroke-width="1.9"/>
<circle cx="1393.4" cy="465.9" r="6.15" fill="#98AECB" stroke="#111" stroke-width="1.9"/>
<circle cx="1413.0" cy="149.8" r="6.15" fill="#98AECB" stroke="#111" stroke-width="1.9"/>
<circle cx="1387.1" cy="300.1" r="6.15" fill="#98AECB" stroke="#111" stroke-width="1.9"/>
<circle cx="1387.5" cy="443.1" r="6.15" fill="#98AECB" stroke="#111" stroke-width="1.9"/>
<circle cx="1384.8" cy="480.3" r="6.15" fill="#98AECB" stroke="#111" stroke-width="1.9"/>
<circle cx="1335.2" cy="469.4" r="6.15" fill="#78AFBA" stroke="#111" stroke-width="1.9"/>
<circle cx="1410.4" cy="136.6" r="6.15" fill="#98AECB" stroke="#111" stroke-width="1.9"/>
<circle cx="1389.7" cy="417.9" r="6.15" fill="#98AECB" stroke="#111" stroke-width="1.9"/>
<circle cx="1379.6" cy="402.4" r="6.15" fill="#98AECB" stroke="#111" stroke-width="1.9"/>
<circle cx="1381.8" cy="468.5" r="6.15" fill="#98AECB" stroke="#111" stroke-width="1.9"/>
<circle cx="1373.9" cy="506.5" r="6.15" fill="#78AFBA" stroke="#111" stroke-width="1.9"/>
<circle cx="1390.0" cy="372.6" r="6.15" fill="#98AECB" stroke="#111" stroke-width="1.9"/>
<circle cx="1395.4" cy="368.0" r="6.15" fill="#98AECB" stroke="#111" stroke-width="1.9"/>
<circle cx="1385.3" cy="452.8" r="6.15" fill="#98AECB" stroke="#111" stroke-width="1.9"/>
<circle cx="1382.3" cy="515.6" r="6.15" fill="#98AECB" stroke="#111" stroke-width="1.9"/>
<circle cx="1388.5" cy="494.6" r="6.15" fill="#98AECB" stroke="#111" stroke-width="1.9"/>
<circle cx="1366.8" cy="543.6" r="6.15" fill="#78AFBA" stroke="#111" stroke-width="1.9"/>
<circle cx="1367.9" cy="515.4" r="6.15" fill="#78AFBA" stroke="#111" stroke-width="1.9"/>
<circle cx="1363.6" cy="532.1" r="6.15" fill="#78AFBA" stroke="#111" stroke-width="1.9"/>
<circle cx="1345.9" cy="479.6" r="6.15" fill="#78AFBA" stroke="#111" stroke-width="1.9"/>
<circle cx="1400.6" cy="291.2" r="6.15" fill="#98AECB" stroke="#111" stroke-width="1.9"/>
<circle cx="1349.8" cy="497.7" r="6.15" fill="#78AFBA" stroke="#111" stroke-width="1.9"/>
<circle cx="1406.3" cy="209.5" r="6.15" fill="#98AECB" stroke="#111" stroke-width="1.9"/>
<circle cx="1383.5" cy="490.7" r="6.15" fill="#98AECB" stroke="#111" stroke-width="1.9"/>
<circle cx="1382.1" cy="493.7" r="6.15" fill="#98AECB" stroke="#111" stroke-width="1.9"/>
<circle cx="1389.8" cy="521.2" r="6.15" fill="#98AECB" stroke="#111" stroke-width="1.9"/>
<circle cx="1407.8" cy="174.3" r="6.15" fill="#98AECB" stroke="#111" stroke-width="1.9"/>
<circle cx="1416.7" cy="110.1" r="6.15" fill="#98AECB" stroke="#111" stroke-width="1.9"/>
<circle cx="1384.5" cy="331.6" r="6.15" fill="#98AECB" stroke="#111" stroke-width="1.9"/>
<circle cx="1383.0" cy="359.2" r="6.15" fill="#98AECB" stroke="#111" stroke-width="1.9"/>
<circle cx="1390.0" cy="436.9" r="6.15" fill="#98AECB" stroke="#111" stroke-width="1.9"/>
<circle cx="1365.9" cy="538.4" r="6.15" fill="#78AFBA" stroke="#111" stroke-width="1.9"/>
<circle cx="1385.1" cy="305.7" r="6.15" fill="#98AECB" stroke="#111" stroke-width="1.9"/>
<circle cx="1374.7" cy="532.1" r="6.15" fill="#78AFBA" stroke="#111" stroke-width="1.9"/>
<circle cx="1357.2" cy="498.6" r="6.15" fill="#78AFBA" stroke="#111" stroke-width="1.9"/>
<circle cx="1408.3" cy="205.7" r="6.15" fill="#98AECB" stroke="#111" stroke-width="1.9"/>
<circle cx="1392.0" cy="274.8" r="6.15" fill="#98AECB" stroke="#111" stroke-width="1.9"/>
<circle cx="1380.3" cy="428.5" r="6.15" fill="#98AECB" stroke="#111" stroke-width="1.9"/>
<circle cx="1403.5" cy="196.9" r="6.15" fill="#98AECB" stroke="#111" stroke-width="1.9"/>
<circle cx="1388.5" cy="482.8" r="6.15" fill="#98AECB" stroke="#111" stroke-width="1.9"/>
<circle cx="1382.3" cy="533.9" r="6.15" fill="#98AECB" stroke="#111" stroke-width="1.9"/>
<circle cx="1408.2" cy="167.9" r="6.15" fill="#98AECB" stroke="#111" stroke-width="1.9"/>
<circle cx="1391.6" cy="509.3" r="6.15" fill="#98AECB" stroke="#111" stroke-width="1.9"/>
<circle cx="1378.4" cy="498.2" r="6.15" fill="#98AECB" stroke="#111" stroke-width="1.9"/>
<circle cx="1362.9" cy="484.0" r="6.15" fill="#78AFBA" stroke="#111" stroke-width="1.9"/>
<circle cx="1399.0" cy="457.7" r="6.15" fill="#98AECB" stroke="#111" stroke-width="1.9"/>
<circle cx="1389.0" cy="361.8" r="6.15" fill="#98AECB" stroke="#111" stroke-width="1.9"/>
<circle cx="1394.0" cy="242.2" r="6.15" fill="#98AECB" stroke="#111" stroke-width="1.9"/>
<circle cx="1370.7" cy="516.6" r="6.15" fill="#98AECB" stroke="#111" stroke-width="1.9"/>
<circle cx="1398.9" cy="148.7" r="6.15" fill="#98AECB" stroke="#111" stroke-width="1.9"/>
<circle cx="1384.4" cy="402.2" r="6.15" fill="#98AECB" stroke="#111" stroke-width="1.9"/>
<circle cx="1384.6" cy="458.8" r="6.15" fill="#98AECB" stroke="#111" stroke-width="1.9"/>
<circle cx="1392.8" cy="365.6" r="6.15" fill="#98AECB" stroke="#111" stroke-width="1.9"/>
<circle cx="1361.2" cy="541.3" r="6.15" fill="#78AFBA" stroke="#111" stroke-width="1.9"/>
<circle cx="1385.0" cy="486.7" r="6.15" fill="#98AECB" stroke="#111" stroke-width="1.9"/>
<circle cx="1359.3" cy="469.1" r="6.15" fill="#78AFBA" stroke="#111" stroke-width="1.9"/>
<circle cx="1389.9" cy="310.6" r="6.15" fill="#98AECB" stroke="#111" stroke-width="1.9"/>
<circle cx="1401.6" cy="313.5" r="6.15" fill="#98AECB" stroke="#111" stroke-width="1.9"/>
<circle cx="1390.4" cy="442.7" r="6.15" fill="#98AECB" stroke="#111" stroke-width="1.9"/>
<circle cx="1404.5" cy="232.7" r="6.15" fill="#98AECB" stroke="#111" stroke-width="1.9"/>
<circle cx="1387.3" cy="337.5" r="6.15" fill="#98AECB" stroke="#111" stroke-width="1.9"/>
<circle cx="1402.5" cy="256.8" r="6.15" fill="#98AECB" stroke="#111" stroke-width="1.9"/>
<circle cx="1411.2" cy="122.9" r="6.15" fill="#98AECB" stroke="#111" stroke-width="1.9"/>
<circle cx="1378.1" cy="430.3" r="6.15" fill="#98AECB" stroke="#111" stroke-width="1.9"/>
<circle cx="1413.6" cy="116.6" r="6.15" fill="#98AECB" stroke="#111" stroke-width="1.9"/>
<circle cx="1379.6" cy="502.8" r="6.15" fill="#98AECB" stroke="#111" stroke-width="1.9"/>
<circle cx="1401.5" cy="264.4" r="6.15" fill="#98AECB" stroke="#111" stroke-width="1.9"/>
<circle cx="1415.0" cy="177.0" r="6.15" fill="#98AECB" stroke="#111" stroke-width="1.9"/>
<circle cx="1402.9" cy="213.5" r="6.15" fill="#98AECB" stroke="#111" stroke-width="1.9"/>
<circle cx="1389.0" cy="415.3" r="6.15" fill="#98AECB" stroke="#111" stroke-width="1.9"/>
<circle cx="1404.0" cy="206.6" r="6.15" fill="#98AECB" stroke="#111" stroke-width="1.9"/>
<circle cx="1016.4" cy="278.9" r="6.15" fill="#F5C296" stroke="#111" stroke-width="1.9"/>
<circle cx="1166.3" cy="292.1" r="6.15" fill="#F5C296" stroke="#111" stroke-width="1.9"/>
<circle cx="1074.1" cy="349.3" r="6.15" fill="#F5C296" stroke="#111" stroke-width="1.9"/>
<circle cx="1161.8" cy="360.9" r="6.15" fill="#F5C296" stroke="#111" stroke-width="1.9"/>
<circle cx="953.1" cy="380.6" r="6.15" fill="#F5C296" stroke="#111" stroke-width="1.9"/>
<circle cx="1182.0" cy="387.9" r="6.15" fill="#F5C296" stroke="#111" stroke-width="1.9"/>
<circle cx="1166.4" cy="400.3" r="6.15" fill="#F5C296" stroke="#111" stroke-width="1.9"/>
<circle cx="951.2" cy="458.9" r="6.15" fill="#F5C296" stroke="#111" stroke-width="1.9"/>
<circle cx="925.7" cy="501.9" r="6.15" fill="#F5C296" stroke="#111" stroke-width="1.9"/>
<circle cx="960.4" cy="501.4" r="6.15" fill="#F5C296" stroke="#111" stroke-width="1.9"/>
<circle cx="965.4" cy="518.9" r="6.15" fill="#F5C296" stroke="#111" stroke-width="1.9"/>
<circle cx="1053.4" cy="482.1" r="6.15" fill="#F5C296" stroke="#111" stroke-width="1.9"/>
<circle cx="1081.5" cy="458.7" r="6.15" fill="#F5C296" stroke="#111" stroke-width="1.9"/>
<circle cx="1083.4" cy="490.9" r="6.15" fill="#F5C296" stroke="#111" stroke-width="1.9"/>
<circle cx="1087.7" cy="513.4" r="6.15" fill="#F5C296" stroke="#111" stroke-width="1.9"/>
<circle cx="1181.7" cy="414.0" r="6.15" fill="#F5C296" stroke="#111" stroke-width="1.9"/>
<circle cx="1193.0" cy="456.3" r="6.15" fill="#F5C296" stroke="#111" stroke-width="1.9"/>
<circle cx="1205.3" cy="451.2" r="6.15" fill="#F5C296" stroke="#111" stroke-width="1.9"/>
<circle cx="1190.0" cy="474.5" r="6.15" fill="#F5C296" stroke="#111" stroke-width="1.9"/>
<circle cx="1176.9" cy="511.2" r="6.15" fill="#F5C296" stroke="#111" stroke-width="1.9"/>
<circle cx="1190.0" cy="545.6" r="6.15" fill="#F5C296" stroke="#111" stroke-width="1.9"/>
<circle cx="1209.0" cy="404.6" r="6.15" fill="#F5C296" stroke="#111" stroke-width="1.9"/>
<circle cx="1209.0" cy="413.3" r="6.15" fill="#F5C296" stroke="#111" stroke-width="1.9"/>
<polygon points="1229.0,145.0 1222.0,158.6 1236.0,158.6" fill="#F5C296" stroke="#111" stroke-width="1.8" stroke-linejoin="miter"/>
<polygon points="1237.7,143.6 1230.7,157.2 1244.7,157.2" fill="#F5C296" stroke="#111" stroke-width="1.8" stroke-linejoin="miter"/>
<polygon points="1260.3,130.5 1253.3,144.1 1267.3,144.1" fill="#F5C296" stroke="#111" stroke-width="1.8" stroke-linejoin="miter"/>
<polygon points="1276.8,130.5 1269.8,144.1 1283.8,144.1" fill="#F5C296" stroke="#111" stroke-width="1.8" stroke-linejoin="miter"/>
<polygon points="1267.2,153.0 1260.2,166.6 1274.2,166.6" fill="#F5C296" stroke="#111" stroke-width="1.8" stroke-linejoin="miter"/>
<polygon points="1304.7,157.8 1297.7,171.4 1311.7,171.4" fill="#F5C296" stroke="#111" stroke-width="1.8" stroke-linejoin="miter"/>
<polygon points="1333.1,138.5 1326.1,152.1 1340.1,152.1" fill="#F5C296" stroke="#111" stroke-width="1.8" stroke-linejoin="miter"/>
<polygon points="1339.0,142.8 1332.0,156.4 1346.0,156.4" fill="#F5C296" stroke="#111" stroke-width="1.8" stroke-linejoin="miter"/>
<polygon points="1336.0,145.0 1329.0,158.6 1343.0,158.6" fill="#F5C296" stroke="#111" stroke-width="1.8" stroke-linejoin="miter"/>
<circle cx="1294.2" cy="165.7" r="6.15" fill="#F5C296" stroke="#111" stroke-width="1.9"/>
<circle cx="1293.5" cy="175.1" r="6.15" fill="#F5C296" stroke="#111" stroke-width="1.9"/>
<circle cx="1341.1" cy="180.9" r="6.15" fill="#F5C296" stroke="#111" stroke-width="1.9"/>
<polygon points="1337.5,154.5 1330.5,168.1 1344.5,168.1" fill="#78AFBA" stroke="#111" stroke-width="1.8" stroke-linejoin="miter"/>
<polygon points="1349.9,170.5 1342.9,184.1 1356.9,184.1" fill="#78AFBA" stroke="#111" stroke-width="1.8" stroke-linejoin="miter"/>
<polygon points="1355.7,211.3 1348.7,224.9 1362.7,224.9" fill="#78AFBA" stroke="#111" stroke-width="1.8" stroke-linejoin="miter"/>
<circle cx="1363.0" cy="204.3" r="6.15" fill="#78AFBA" stroke="#111" stroke-width="1.9"/>
<circle cx="1411.8" cy="94.3" r="6.15" fill="#98AECB" stroke="#111" stroke-width="1.9"/>
<circle cx="1420.5" cy="105.9" r="6.15" fill="#98AECB" stroke="#111" stroke-width="1.9"/>
<circle cx="1408.9" cy="114.7" r="6.15" fill="#98AECB" stroke="#111" stroke-width="1.9"/>
<circle cx="1398.7" cy="119.0" r="6.15" fill="#98AECB" stroke="#111" stroke-width="1.9"/>
<circle cx="1417.6" cy="124.1" r="6.15" fill="#98AECB" stroke="#111" stroke-width="1.9"/>
<circle cx="1408.9" cy="130.7" r="6.15" fill="#98AECB" stroke="#111" stroke-width="1.9"/>
<circle cx="1401.6" cy="133.6" r="6.15" fill="#98AECB" stroke="#111" stroke-width="1.9"/>
<circle cx="1417.6" cy="136.5" r="6.15" fill="#98AECB" stroke="#111" stroke-width="1.9"/>
<circle cx="1408.9" cy="140.9" r="6.15" fill="#98AECB" stroke="#111" stroke-width="1.9"/>
<circle cx="1397.2" cy="143.8" r="6.15" fill="#98AECB" stroke="#111" stroke-width="1.9"/>
<circle cx="1417.6" cy="146.7" r="6.15" fill="#98AECB" stroke="#111" stroke-width="1.9"/>
<circle cx="1406.0" cy="151.1" r="6.15" fill="#98AECB" stroke="#111" stroke-width="1.9"/>
<circle cx="1411.8" cy="159.8" r="6.15" fill="#98AECB" stroke="#111" stroke-width="1.9"/>
<circle cx="1403.0" cy="165.7" r="6.15" fill="#98AECB" stroke="#111" stroke-width="1.9"/>
<circle cx="1392.8" cy="167.1" r="6.15" fill="#98AECB" stroke="#111" stroke-width="1.9"/>
<circle cx="1413.2" cy="165.7" r="6.15" fill="#98AECB" stroke="#111" stroke-width="1.9"/>
<circle cx="1403.0" cy="174.4" r="6.15" fill="#98AECB" stroke="#111" stroke-width="1.9"/>
<circle cx="1387.0" cy="185.3" r="6.15" fill="#98AECB" stroke="#111" stroke-width="1.9"/>
<circle cx="1397.2" cy="189.0" r="6.15" fill="#98AECB" stroke="#111" stroke-width="1.9"/>
<circle cx="1406.0" cy="194.8" r="6.15" fill="#98AECB" stroke="#111" stroke-width="1.9"/>
<circle cx="1394.3" cy="203.5" r="6.15" fill="#98AECB" stroke="#111" stroke-width="1.9"/>
<circle cx="1403.0" cy="205.0" r="6.15" fill="#98AECB" stroke="#111" stroke-width="1.9"/>
<circle cx="1410.3" cy="206.4" r="6.15" fill="#98AECB" stroke="#111" stroke-width="1.9"/>
<circle cx="1385.6" cy="213.7" r="6.15" fill="#98AECB" stroke="#111" stroke-width="1.9"/>
<circle cx="1391.4" cy="216.6" r="6.15" fill="#98AECB" stroke="#111" stroke-width="1.9"/>
<circle cx="1398.7" cy="215.2" r="6.15" fill="#98AECB" stroke="#111" stroke-width="1.9"/>
<polygon points="1414.7,170.5 1407.7,184.1 1421.7,184.1" fill="#98AECB" stroke="#111" stroke-width="1.8" stroke-linejoin="miter"/>
<polygon points="1416.2,204.0 1409.2,217.6 1423.2,217.6" fill="#98AECB" stroke="#111" stroke-width="1.8" stroke-linejoin="miter"/>
<polygon points="1408.9,185.1 1401.9,198.7 1415.9,198.7" fill="#98AECB" stroke="#111" stroke-width="1.8" stroke-linejoin="miter"/>
<circle cx="1323.7" cy="233.0" r="6.15" fill="#F5C296" stroke="#111" stroke-width="1.9"/>
<circle cx="1281.7" cy="272.0" r="6.15" fill="#F5C296" stroke="#111" stroke-width="1.9"/>
<circle cx="1327.3" cy="276.1" r="6.15" fill="#F5C296" stroke="#111" stroke-width="1.9"/>
<circle cx="1326.1" cy="300.4" r="6.15" fill="#F5C296" stroke="#111" stroke-width="1.9"/>
<circle cx="1328.8" cy="308.7" r="6.15" fill="#F5C296" stroke="#111" stroke-width="1.9"/>
<circle cx="1299.6" cy="310.2" r="6.15" fill="#F5C296" stroke="#111" stroke-width="1.9"/>
<circle cx="1281.9" cy="323.0" r="6.15" fill="#F5C296" stroke="#111" stroke-width="1.9"/>
<circle cx="1258.1" cy="326.2" r="6.15" fill="#F5C296" stroke="#111" stroke-width="1.9"/>
<circle cx="1249.4" cy="365.7" r="6.15" fill="#F5C296" stroke="#111" stroke-width="1.9"/>
<circle cx="1263.2" cy="380.2" r="6.15" fill="#F5C296" stroke="#111" stroke-width="1.9"/>
<circle cx="1244.3" cy="389.7" r="6.15" fill="#F5C296" stroke="#111" stroke-width="1.9"/>
<circle cx="1242.8" cy="400.2" r="6.15" fill="#F5C296" stroke="#111" stroke-width="1.9"/>
<circle cx="1213.7" cy="403.8" r="6.15" fill="#F5C296" stroke="#111" stroke-width="1.9"/>
<circle cx="1228.3" cy="403.8" r="6.15" fill="#F5C296" stroke="#111" stroke-width="1.9"/>
<circle cx="1313.5" cy="399.4" r="6.15" fill="#F5C296" stroke="#111" stroke-width="1.9"/>
<circle cx="1328.0" cy="398.7" r="6.15" fill="#F5C296" stroke="#111" stroke-width="1.9"/>
<circle cx="1170.0" cy="400.2" r="6.15" fill="#F5C296" stroke="#111" stroke-width="1.9"/>
<circle cx="1350.6" cy="235.6" r="6.15" fill="#78AFBA" stroke="#111" stroke-width="1.9"/>
<circle cx="1375.4" cy="237.0" r="6.15" fill="#78AFBA" stroke="#111" stroke-width="1.9"/>
<circle cx="1363.7" cy="328.8" r="6.15" fill="#78AFBA" stroke="#111" stroke-width="1.9"/>
<circle cx="1366.6" cy="335.4" r="6.15" fill="#78AFBA" stroke="#111" stroke-width="1.9"/>
<circle cx="1357.2" cy="354.3" r="6.15" fill="#78AFBA" stroke="#111" stroke-width="1.9"/>
<circle cx="1348.4" cy="359.4" r="6.15" fill="#78AFBA" stroke="#111" stroke-width="1.9"/>
<circle cx="1347.7" cy="363.8" r="6.15" fill="#78AFBA" stroke="#111" stroke-width="1.9"/>
<circle cx="1354.3" cy="366.7" r="6.15" fill="#78AFBA" stroke="#111" stroke-width="1.9"/>
<circle cx="1349.2" cy="382.0" r="6.15" fill="#78AFBA" stroke="#111" stroke-width="1.9"/>
<circle cx="1368.1" cy="360.8" r="6.15" fill="#78AFBA" stroke="#111" stroke-width="1.9"/>
<circle cx="1375.4" cy="363.0" r="6.15" fill="#78AFBA" stroke="#111" stroke-width="1.9"/>
<circle cx="1352.1" cy="404.5" r="6.15" fill="#78AFBA" stroke="#111" stroke-width="1.9"/>
<polygon points="1356.4,220.0 1349.4,233.6 1363.4,233.6" fill="#78AFBA" stroke="#111" stroke-width="1.8" stroke-linejoin="miter"/>
<polygon points="1360.8,282.0 1353.8,295.6 1367.8,295.6" fill="#78AFBA" stroke="#111" stroke-width="1.8" stroke-linejoin="miter"/>
<polygon points="1359.3,292.9 1352.3,306.5 1366.3,306.5" fill="#78AFBA" stroke="#111" stroke-width="1.8" stroke-linejoin="miter"/>
<polygon points="1357.9,295.8 1350.9,309.4 1364.9,309.4" fill="#78AFBA" stroke="#111" stroke-width="1.8" stroke-linejoin="miter"/>
<polygon points="1372.5,343.9 1365.5,357.5 1379.5,357.5" fill="#78AFBA" stroke="#111" stroke-width="1.8" stroke-linejoin="miter"/>
<polygon points="1371.0,373.0 1364.0,386.6 1378.0,386.6" fill="#78AFBA" stroke="#111" stroke-width="1.8" stroke-linejoin="miter"/>
<polygon points="1373.9,377.4 1366.9,391.0 1380.9,391.0" fill="#78AFBA" stroke="#111" stroke-width="1.8" stroke-linejoin="miter"/>
<circle cx="1397.2" cy="221.0" r="6.15" fill="#98AECB" stroke="#111" stroke-width="1.9"/>
<circle cx="1408.9" cy="223.9" r="6.15" fill="#98AECB" stroke="#111" stroke-width="1.9"/>
<circle cx="1398.7" cy="228.3" r="6.15" fill="#98AECB" stroke="#111" stroke-width="1.9"/>
<circle cx="1408.9" cy="238.5" r="6.15" fill="#98AECB" stroke="#111" stroke-width="1.9"/>
<circle cx="1392.8" cy="242.1" r="6.15" fill="#98AECB" stroke="#111" stroke-width="1.9"/>
<circle cx="1397.2" cy="248.7" r="6.15" fill="#98AECB" stroke="#111" stroke-width="1.9"/>
<circle cx="1407.4" cy="256.0" r="6.15" fill="#98AECB" stroke="#111" stroke-width="1.9"/>
<circle cx="1391.4" cy="261.8" r="6.15" fill="#98AECB" stroke="#111" stroke-width="1.9"/>
<circle cx="1400.1" cy="263.3" r="6.15" fill="#98AECB" stroke="#111" stroke-width="1.9"/>
<circle cx="1379.7" cy="267.6" r="6.15" fill="#98AECB" stroke="#111" stroke-width="1.9"/>
<circle cx="1394.3" cy="269.1" r="6.15" fill="#98AECB" stroke="#111" stroke-width="1.9"/>
<circle cx="1413.2" cy="275.6" r="6.15" fill="#98AECB" stroke="#111" stroke-width="1.9"/>
<circle cx="1404.5" cy="277.8" r="6.15" fill="#98AECB" stroke="#111" stroke-width="1.9"/>
<circle cx="1388.5" cy="280.7" r="6.15" fill="#98AECB" stroke="#111" stroke-width="1.9"/>
<circle cx="1381.2" cy="286.6" r="6.15" fill="#98AECB" stroke="#111" stroke-width="1.9"/>
<circle cx="1394.3" cy="289.5" r="6.15" fill="#98AECB" stroke="#111" stroke-width="1.9"/>
<circle cx="1404.5" cy="296.0" r="6.15" fill="#98AECB" stroke="#111" stroke-width="1.9"/>
<circle cx="1373.9" cy="296.8" r="6.15" fill="#98AECB" stroke="#111" stroke-width="1.9"/>
<circle cx="1384.1" cy="299.7" r="6.15" fill="#98AECB" stroke="#111" stroke-width="1.9"/>
<circle cx="1378.3" cy="307.0" r="6.15" fill="#98AECB" stroke="#111" stroke-width="1.9"/>
<circle cx="1388.5" cy="309.9" r="6.15" fill="#98AECB" stroke="#111" stroke-width="1.9"/>
<circle cx="1404.5" cy="310.6" r="6.15" fill="#98AECB" stroke="#111" stroke-width="1.9"/>
<circle cx="1394.3" cy="315.7" r="6.15" fill="#98AECB" stroke="#111" stroke-width="1.9"/>
<circle cx="1384.1" cy="317.2" r="6.15" fill="#98AECB" stroke="#111" stroke-width="1.9"/>
<circle cx="1376.8" cy="321.5" r="6.15" fill="#98AECB" stroke="#111" stroke-width="1.9"/>
<circle cx="1392.8" cy="324.4" r="6.15" fill="#98AECB" stroke="#111" stroke-width="1.9"/>
<circle cx="1400.1" cy="331.7" r="6.15" fill="#98AECB" stroke="#111" stroke-width="1.9"/>
<circle cx="1387.0" cy="333.2" r="6.15" fill="#98AECB" stroke="#111" stroke-width="1.9"/>
<circle cx="1381.2" cy="340.5" r="6.15" fill="#98AECB" stroke="#111" stroke-width="1.9"/>
<circle cx="1394.3" cy="355.0" r="6.15" fill="#98AECB" stroke="#111" stroke-width="1.9"/>
<circle cx="1388.5" cy="363.8" r="6.15" fill="#98AECB" stroke="#111" stroke-width="1.9"/>
<circle cx="1384.1" cy="376.9" r="6.15" fill="#98AECB" stroke="#111" stroke-width="1.9"/>
<circle cx="1392.8" cy="365.2" r="6.15" fill="#98AECB" stroke="#111" stroke-width="1.9"/>
<circle cx="1391.4" cy="206.5" r="6.15" fill="#98AECB" stroke="#111" stroke-width="1.9"/>
<circle cx="1403.0" cy="209.4" r="6.15" fill="#98AECB" stroke="#111" stroke-width="1.9"/>
<polygon points="1389.9,272.5 1382.9,286.1 1396.9,286.1" fill="#98AECB" stroke="#111" stroke-width="1.8" stroke-linejoin="miter"/>
<polygon points="1371.0,310.4 1364.0,324.0 1378.0,324.0" fill="#98AECB" stroke="#111" stroke-width="1.8" stroke-linejoin="miter"/>
<polygon points="1401.6,335.1 1394.6,348.7 1408.6,348.7" fill="#98AECB" stroke="#111" stroke-width="1.8" stroke-linejoin="miter"/>
<polygon points="1397.2,370.1 1390.2,383.7 1404.2,383.7" fill="#98AECB" stroke="#111" stroke-width="1.8" stroke-linejoin="miter"/>
<polygon points="1411.8,383.2 1404.8,396.8 1418.8,396.8" fill="#98AECB" stroke="#111" stroke-width="1.8" stroke-linejoin="miter"/>
<polygon points="1397.2,387.5 1390.2,401.1 1404.2,401.1" fill="#98AECB" stroke="#111" stroke-width="1.8" stroke-linejoin="miter"/>
<polygon points="1379.7,390.5 1372.7,404.1 1386.7,404.1" fill="#98AECB" stroke="#111" stroke-width="1.8" stroke-linejoin="miter"/>
<polygon points="1403.0,393.4 1396.0,407.0 1410.0,407.0" fill="#98AECB" stroke="#111" stroke-width="1.8" stroke-linejoin="miter"/>
<polygon points="1388.5,387.5 1381.5,401.1 1395.5,401.1" fill="#98AECB" stroke="#111" stroke-width="1.8" stroke-linejoin="miter"/>
<polygon points="1397.2,314.7 1390.2,328.3 1404.2,328.3" fill="#98AECB" stroke="#111" stroke-width="1.8" stroke-linejoin="miter"/>
<circle cx="1228.3" cy="419.9" r="6.15" fill="#F5C296" stroke="#111" stroke-width="1.9"/>
<circle cx="1216.3" cy="427.1" r="6.15" fill="#F5C296" stroke="#111" stroke-width="1.9"/>
<circle cx="1217.3" cy="456.3" r="6.15" fill="#F5C296" stroke="#111" stroke-width="1.9"/>
<circle cx="1222.1" cy="446.1" r="6.15" fill="#F5C296" stroke="#111" stroke-width="1.9"/>
<circle cx="1237.3" cy="446.8" r="6.15" fill="#F5C296" stroke="#111" stroke-width="1.9"/>
<circle cx="1247.6" cy="441.0" r="6.15" fill="#F5C296" stroke="#111" stroke-width="1.9"/>
<circle cx="1230.9" cy="471.1" r="6.15" fill="#F5C296" stroke="#111" stroke-width="1.9"/>
<circle cx="1220.7" cy="489.0" r="6.15" fill="#F5C296" stroke="#111" stroke-width="1.9"/>
<circle cx="1219.2" cy="511.2" r="6.15" fill="#F5C296" stroke="#111" stroke-width="1.9"/>
<circle cx="1228.3" cy="522.8" r="6.15" fill="#F5C296" stroke="#111" stroke-width="1.9"/>
<circle cx="1236.6" cy="519.6" r="6.15" fill="#F5C296" stroke="#111" stroke-width="1.9"/>
<circle cx="1242.8" cy="509.4" r="6.15" fill="#F5C296" stroke="#111" stroke-width="1.9"/>
<circle cx="1250.1" cy="511.2" r="6.15" fill="#F5C296" stroke="#111" stroke-width="1.9"/>
<circle cx="1245.3" cy="496.0" r="6.15" fill="#F5C296" stroke="#111" stroke-width="1.9"/>
<circle cx="1255.9" cy="498.5" r="6.15" fill="#F5C296" stroke="#111" stroke-width="1.9"/>
<circle cx="1257.4" cy="535.4" r="6.15" fill="#F5C296" stroke="#111" stroke-width="1.9"/>
<circle cx="1266.9" cy="534.2" r="6.15" fill="#F5C296" stroke="#111" stroke-width="1.9"/>
<circle cx="1279.2" cy="548.0" r="6.15" fill="#F5C296" stroke="#111" stroke-width="1.9"/>
<circle cx="1289.7" cy="468.9" r="6.15" fill="#F5C296" stroke="#111" stroke-width="1.9"/>
<circle cx="1290.2" cy="494.6" r="6.15" fill="#F5C296" stroke="#111" stroke-width="1.9"/>
<circle cx="1300.4" cy="486.9" r="6.15" fill="#F5C296" stroke="#111" stroke-width="1.9"/>
<circle cx="1312.0" cy="463.6" r="6.15" fill="#F5C296" stroke="#111" stroke-width="1.9"/>
<circle cx="1309.8" cy="480.3" r="6.15" fill="#F5C296" stroke="#111" stroke-width="1.9"/>
<circle cx="1313.5" cy="484.7" r="6.15" fill="#F5C296" stroke="#111" stroke-width="1.9"/>
<circle cx="1320.0" cy="475.9" r="6.15" fill="#F5C296" stroke="#111" stroke-width="1.9"/>
<circle cx="1322.2" cy="482.5" r="6.15" fill="#F5C296" stroke="#111" stroke-width="1.9"/>
<circle cx="1299.6" cy="504.3" r="6.15" fill="#F5C296" stroke="#111" stroke-width="1.9"/>
<circle cx="1304.7" cy="502.9" r="6.15" fill="#F5C296" stroke="#111" stroke-width="1.9"/>
<circle cx="1309.5" cy="531.0" r="6.15" fill="#F5C296" stroke="#111" stroke-width="1.9"/>
<circle cx="1327.3" cy="457.7" r="6.15" fill="#F5C296" stroke="#111" stroke-width="1.9"/>
<circle cx="1333.9" cy="447.5" r="6.15" fill="#F5C296" stroke="#111" stroke-width="1.9"/>
<circle cx="1325.8" cy="510.2" r="6.15" fill="#F5C296" stroke="#111" stroke-width="1.9"/>
<circle cx="1329.5" cy="513.1" r="6.15" fill="#F5C296" stroke="#111" stroke-width="1.9"/>
<circle cx="1330.2" cy="522.5" r="6.15" fill="#F5C296" stroke="#111" stroke-width="1.9"/>
<circle cx="1329.9" cy="539.3" r="6.15" fill="#F5C296" stroke="#111" stroke-width="1.9"/>
<circle cx="1324.4" cy="407.5" r="6.15" fill="#F5C296" stroke="#111" stroke-width="1.9"/>
<circle cx="1352.8" cy="411.8" r="6.15" fill="#78AFBA" stroke="#111" stroke-width="1.9"/>
<circle cx="1357.2" cy="422.8" r="6.15" fill="#78AFBA" stroke="#111" stroke-width="1.9"/>
<circle cx="1336.8" cy="434.4" r="6.15" fill="#78AFBA" stroke="#111" stroke-width="1.9"/>
<circle cx="1337.5" cy="452.6" r="6.15" fill="#78AFBA" stroke="#111" stroke-width="1.9"/>
<circle cx="1349.2" cy="459.2" r="6.15" fill="#78AFBA" stroke="#111" stroke-width="1.9"/>
<circle cx="1359.3" cy="452.6" r="6.15" fill="#78AFBA" stroke="#111" stroke-width="1.9"/>
<circle cx="1355.7" cy="462.8" r="6.15" fill="#78AFBA" stroke="#111" stroke-width="1.9"/>
<circle cx="1335.3" cy="470.1" r="6.15" fill="#78AFBA" stroke="#111" stroke-width="1.9"/>
<circle cx="1373.9" cy="449.7" r="6.15" fill="#78AFBA" stroke="#111" stroke-width="1.9"/>
<circle cx="1373.9" cy="461.4" r="6.15" fill="#78AFBA" stroke="#111" stroke-width="1.9"/>
<circle cx="1347.0" cy="482.5" r="6.15" fill="#78AFBA" stroke="#111" stroke-width="1.9"/>
<circle cx="1365.2" cy="473.0" r="6.15" fill="#78AFBA" stroke="#111" stroke-width="1.9"/>
<circle cx="1371.0" cy="475.9" r="6.15" fill="#78AFBA" stroke="#111" stroke-width="1.9"/>
<circle cx="1356.4" cy="490.5" r="6.15" fill="#78AFBA" stroke="#111" stroke-width="1.9"/>
<circle cx="1365.2" cy="486.1" r="6.15" fill="#78AFBA" stroke="#111" stroke-width="1.9"/>
<circle cx="1353.5" cy="496.3" r="6.15" fill="#78AFBA" stroke="#111" stroke-width="1.9"/>
<circle cx="1341.9" cy="502.9" r="6.15" fill="#78AFBA" stroke="#111" stroke-width="1.9"/>
<circle cx="1337.5" cy="508.0" r="6.15" fill="#78AFBA" stroke="#111" stroke-width="1.9"/>
<circle cx="1359.3" cy="506.5" r="6.15" fill="#78AFBA" stroke="#111" stroke-width="1.9"/>
<circle cx="1366.6" cy="497.8" r="6.15" fill="#78AFBA" stroke="#111" stroke-width="1.9"/>
<circle cx="1373.9" cy="499.2" r="6.15" fill="#78AFBA" stroke="#111" stroke-width="1.9"/>
<circle cx="1349.2" cy="513.8" r="6.15" fill="#78AFBA" stroke="#111" stroke-width="1.9"/>
<circle cx="1347.7" cy="518.2" r="6.15" fill="#78AFBA" stroke="#111" stroke-width="1.9"/>
<circle cx="1340.4" cy="522.5" r="6.15" fill="#78AFBA" stroke="#111" stroke-width="1.9"/>
<circle cx="1365.2" cy="516.7" r="6.15" fill="#78AFBA" stroke="#111" stroke-width="1.9"/>
<circle cx="1375.4" cy="510.9" r="6.15" fill="#78AFBA" stroke="#111" stroke-width="1.9"/>
<circle cx="1344.8" cy="532.0" r="6.15" fill="#78AFBA" stroke="#111" stroke-width="1.9"/>
<circle cx="1364.4" cy="527.6" r="6.15" fill="#78AFBA" stroke="#111" stroke-width="1.9"/>
<circle cx="1355.0" cy="537.1" r="6.15" fill="#78AFBA" stroke="#111" stroke-width="1.9"/>
<circle cx="1348.4" cy="540.0" r="6.15" fill="#78AFBA" stroke="#111" stroke-width="1.9"/>
<circle cx="1357.2" cy="542.2" r="6.15" fill="#78AFBA" stroke="#111" stroke-width="1.9"/>
<circle cx="1357.9" cy="549.5" r="6.15" fill="#78AFBA" stroke="#111" stroke-width="1.9"/>
<circle cx="1378.3" cy="545.8" r="6.15" fill="#78AFBA" stroke="#111" stroke-width="1.9"/>
<circle cx="1379.7" cy="491.2" r="6.15" fill="#78AFBA" stroke="#111" stroke-width="1.9"/>
<circle cx="1373.9" cy="484.7" r="6.15" fill="#78AFBA" stroke="#111" stroke-width="1.9"/>
<circle cx="1381.2" cy="529.8" r="6.15" fill="#78AFBA" stroke="#111" stroke-width="1.9"/>
<circle cx="1369.5" cy="503.6" r="6.15" fill="#78AFBA" stroke="#111" stroke-width="1.9"/>
<circle cx="1388.5" cy="426.4" r="6.15" fill="#98AECB" stroke="#111" stroke-width="1.9"/>
<circle cx="1388.5" cy="435.2" r="6.15" fill="#98AECB" stroke="#111" stroke-width="1.9"/>
<circle cx="1394.3" cy="446.1" r="6.15" fill="#98AECB" stroke="#111" stroke-width="1.9"/>
<circle cx="1385.6" cy="455.5" r="6.15" fill="#98AECB" stroke="#111" stroke-width="1.9"/>
<circle cx="1389.9" cy="459.9" r="6.15" fill="#98AECB" stroke="#111" stroke-width="1.9"/>
<circle cx="1387.0" cy="477.4" r="6.15" fill="#98AECB" stroke="#111" stroke-width="1.9"/>
<circle cx="1392.8" cy="483.2" r="6.15" fill="#98AECB" stroke="#111" stroke-width="1.9"/>
<circle cx="1387.0" cy="503.6" r="6.15" fill="#98AECB" stroke="#111" stroke-width="1.9"/>
<circle cx="1392.1" cy="509.4" r="6.15" fill="#98AECB" stroke="#111" stroke-width="1.9"/>
<circle cx="1379.7" cy="519.6" r="6.15" fill="#98AECB" stroke="#111" stroke-width="1.9"/>
<circle cx="1382.7" cy="524.0" r="6.15" fill="#98AECB" stroke="#111" stroke-width="1.9"/>
<circle cx="1384.1" cy="534.2" r="6.15" fill="#98AECB" stroke="#111" stroke-width="1.9"/>
<circle cx="1373.9" cy="535.7" r="6.15" fill="#98AECB" stroke="#111" stroke-width="1.9"/>
<circle cx="1373.9" cy="492.0" r="6.15" fill="#98AECB" stroke="#111" stroke-width="1.9"/>
<circle cx="1382.7" cy="470.8" r="6.15" fill="#98AECB" stroke="#111" stroke-width="1.9"/>
<polygon points="1400.1,399.2 1393.1,412.8 1407.1,412.8" fill="#98AECB" stroke="#111" stroke-width="1.8" stroke-linejoin="miter"/>
<polygon points="1394.3,409.4 1387.3,423.0 1401.3,423.0" fill="#98AECB" stroke="#111" stroke-width="1.8" stroke-linejoin="miter"/>
<polygon points="1411.8,408.7 1404.8,422.3 1418.8,422.3" fill="#98AECB" stroke="#111" stroke-width="1.8" stroke-linejoin="miter"/>
<polygon points="1388.5,391.9 1381.5,405.5 1395.5,405.5" fill="#98AECB" stroke="#111" stroke-width="1.8" stroke-linejoin="miter"/>
<polygon points="1375.4,405.0 1368.4,418.6 1382.4,418.6" fill="#98AECB" stroke="#111" stroke-width="1.8" stroke-linejoin="miter"/>
<line x1="1378.6" y1="38" x2="1378.6" y2="571" stroke="#1E9F5A" stroke-width="2.2" stroke-dasharray="8.6 9.8"/>
<path d="M922.8 432.2 L1378.0 412.6" fill="none" stroke="#000" stroke-width="2.1"/>
<path d="M1380.0 445.0 L1422.0 54.2" fill="none" stroke="#000" stroke-width="2.1"/>
<path d="M922.8 454.8 C934.3 454.2 970.8 452.4 992.0 451.2 C1013.2 450.0 1033.2 449.1 1050.2 447.5 C1067.2 445.9 1079.3 443.8 1093.9 441.7 C1108.5 439.6 1123.0 437.9 1137.6 435.1 C1152.2 432.3 1168.6 427.9 1181.3 425.0 C1194.0 422.1 1204.7 420.4 1213.7 417.7 C1222.7 415.0 1228.2 411.6 1235.5 408.9 C1242.8 406.2 1250.1 404.1 1257.4 401.7 C1264.7 399.3 1271.9 396.3 1279.2 394.4 C1286.5 392.5 1294.5 391.1 1301.0 390.5 C1307.5 389.9 1313.1 389.7 1318.0 390.5 C1322.9 391.3 1325.7 391.8 1330.2 395.4 C1334.7 398.9 1340.4 406.6 1344.8 411.8 C1349.2 417.0 1352.8 422.3 1356.4 426.4 C1360.0 430.5 1363.5 434.8 1366.6 436.6 C1369.7 438.4 1372.6 439.8 1375.0 437.0 C1377.4 434.2 1379.2 427.1 1381.0 420.0 C1382.8 412.9 1384.1 405.9 1385.6 394.3 C1387.1 382.7 1388.5 365.2 1389.9 350.6 C1391.4 336.1 1392.8 321.6 1394.3 307.0 C1395.8 292.4 1397.0 279.6 1398.7 263.3 C1400.4 247.0 1402.6 225.6 1404.5 209.3 C1406.4 193.0 1408.4 182.6 1410.3 165.6 C1412.2 148.6 1414.3 122.7 1416.1 107.4 C1417.9 92.1 1420.3 79.5 1421.2 73.9" fill="none" stroke="#F0602F" stroke-width="2.6" stroke-dasharray="4.5 7.5 15.5 7.5"/>
<text transform="translate(1376.2 67.8) scale(0.95 1)" font-size="33" text-anchor="end" fill="#CC0000">33.78</text>
</g>
<g id="panel-c">
<path d="M1603.9 36V572.6H2179.5" fill="none" stroke="#000" stroke-width="2.3" stroke-linejoin="miter"/>
<path d="M1630 572.6v6.2M1761 572.6v6.2M1891.7 572.6v6.2M2022.3 572.6v6.2M2153.2 572.6v6.2M1603.9 130.8h-6.2M1603.9 249.5h-6.2M1603.9 368.7h-6.2M1603.9 487.5h-6.2" fill="none" stroke="#000" stroke-width="1.6"/>
<text transform="translate(1634.9 607.2) scale(0.908 1)" font-size="34.5" text-anchor="middle" fill="#000">25.0</text>
<text transform="translate(1765.2 607.2) scale(0.908 1)" font-size="34.5" text-anchor="middle" fill="#000">27.5</text>
<text transform="translate(1893.8 607.2) scale(0.908 1)" font-size="34.5" text-anchor="middle" fill="#000">30.0</text>
<text transform="translate(2027.8 607.2) scale(0.908 1)" font-size="34.5" text-anchor="middle" fill="#000">32.5</text>
<text transform="translate(2154.8 607.2) scale(0.908 1)" font-size="34.5" text-anchor="middle" fill="#000">35.0</text>
<text transform="translate(1591.9 138.7) scale(0.908 1)" font-size="34.5" text-anchor="end" fill="#000">1.0</text>
<text transform="translate(1591.9 257.4) scale(0.908 1)" font-size="34.5" text-anchor="end" fill="#000">0.5</text>
<text transform="translate(1591.9 376.6) scale(0.908 1)" font-size="34.5" text-anchor="end" fill="#000">0.0</text>
<text transform="translate(1599.2 495.4) scale(0.908 1)" font-size="34.5" text-anchor="end" fill="#000">−0.5</text>
<text transform="translate(1488.8 300.2) rotate(-90) scale(0.9032 1)" font-size="41" text-anchor="middle" fill="#000">DSi</text>
<text transform="translate(1524.5 307.8) rotate(-90) scale(0.9706 1)" font-size="33" text-anchor="middle" fill="#000">(log−transformed, μmol L-1)</text>
<text transform="translate(1490.0 45.0) scale(0.98 1)" font-size="40" text-anchor="start" fill="#000">(c)</text>
<circle cx="2129.3" cy="110.3" r="6.15" fill="#98AECB" stroke="#111" stroke-width="1.9"/>
<circle cx="2104.5" cy="112.4" r="6.15" fill="#98AECB" stroke="#111" stroke-width="1.9"/>
<circle cx="2072.7" cy="304.9" r="6.15" fill="#78AFBA" stroke="#111" stroke-width="1.9"/>
<polygon points="2124.1,264.6 2117.1,278.2 2131.1,278.2" fill="#98AECB" stroke="#111" stroke-width="1.8" stroke-linejoin="miter"/>
<circle cx="2112.5" cy="108.5" r="6.15" fill="#98AECB" stroke="#111" stroke-width="1.9"/>
<circle cx="2107.0" cy="170.3" r="6.15" fill="#98AECB" stroke="#111" stroke-width="1.9"/>
<circle cx="2108.7" cy="195.5" r="6.15" fill="#98AECB" stroke="#111" stroke-width="1.9"/>
<circle cx="2122.3" cy="139.3" r="6.15" fill="#98AECB" stroke="#111" stroke-width="1.9"/>
<circle cx="2103.3" cy="220.4" r="6.15" fill="#98AECB" stroke="#111" stroke-width="1.9"/>
<circle cx="2081.6" cy="334.7" r="6.15" fill="#78AFBA" stroke="#111" stroke-width="1.9"/>
<circle cx="2122.9" cy="113.4" r="6.15" fill="#98AECB" stroke="#111" stroke-width="1.9"/>
<circle cx="2102.9" cy="122.1" r="6.15" fill="#98AECB" stroke="#111" stroke-width="1.9"/>
<circle cx="2108.8" cy="72.6" r="6.15" fill="#98AECB" stroke="#111" stroke-width="1.9"/>
<circle cx="2103.0" cy="248.2" r="6.15" fill="#98AECB" stroke="#111" stroke-width="1.9"/>
<polygon points="2109.3,311.3 2102.3,324.9 2116.3,324.9" fill="#98AECB" stroke="#111" stroke-width="1.8" stroke-linejoin="miter"/>
<polygon points="2125.7,282.4 2118.7,296.0 2132.7,296.0" fill="#98AECB" stroke="#111" stroke-width="1.8" stroke-linejoin="miter"/>
<circle cx="2109.4" cy="114.8" r="6.15" fill="#98AECB" stroke="#111" stroke-width="1.9"/>
<circle cx="2086.3" cy="289.8" r="6.15" fill="#98AECB" stroke="#111" stroke-width="1.9"/>
<circle cx="2075.6" cy="303.5" r="6.15" fill="#78AFBA" stroke="#111" stroke-width="1.9"/>
<circle cx="2112.4" cy="60.5" r="6.15" fill="#98AECB" stroke="#111" stroke-width="1.9"/>
<circle cx="2094.8" cy="216.4" r="6.15" fill="#98AECB" stroke="#111" stroke-width="1.9"/>
<circle cx="2071.8" cy="309.8" r="6.15" fill="#78AFBA" stroke="#111" stroke-width="1.9"/>
<polygon points="2123.7,236.0 2116.7,249.6 2130.7,249.6" fill="#98AECB" stroke="#111" stroke-width="1.8" stroke-linejoin="miter"/>
<circle cx="2114.1" cy="110.9" r="6.15" fill="#98AECB" stroke="#111" stroke-width="1.9"/>
<circle cx="2135.8" cy="107.9" r="6.15" fill="#98AECB" stroke="#111" stroke-width="1.9"/>
<circle cx="2112.7" cy="68.8" r="6.15" fill="#98AECB" stroke="#111" stroke-width="1.9"/>
<circle cx="2122.5" cy="97.9" r="6.15" fill="#98AECB" stroke="#111" stroke-width="1.9"/>
<circle cx="2109.0" cy="129.4" r="6.15" fill="#98AECB" stroke="#111" stroke-width="1.9"/>
<circle cx="2067.0" cy="345.9" r="6.15" fill="#78AFBA" stroke="#111" stroke-width="1.9"/>
<circle cx="2095.3" cy="122.3" r="6.15" fill="#98AECB" stroke="#111" stroke-width="1.9"/>
<circle cx="2110.4" cy="173.1" r="6.15" fill="#98AECB" stroke="#111" stroke-width="1.9"/>
<circle cx="2113.6" cy="151.6" r="6.15" fill="#98AECB" stroke="#111" stroke-width="1.9"/>
<circle cx="2095.8" cy="196.9" r="6.15" fill="#98AECB" stroke="#111" stroke-width="1.9"/>
<circle cx="2108.7" cy="261.7" r="6.15" fill="#98AECB" stroke="#111" stroke-width="1.9"/>
<circle cx="2119.2" cy="111.4" r="6.15" fill="#98AECB" stroke="#111" stroke-width="1.9"/>
<circle cx="2094.5" cy="271.5" r="6.15" fill="#98AECB" stroke="#111" stroke-width="1.9"/>
<circle cx="2085.6" cy="355.9" r="6.15" fill="#78AFBA" stroke="#111" stroke-width="1.9"/>
<circle cx="2098.6" cy="113.8" r="6.15" fill="#98AECB" stroke="#111" stroke-width="1.9"/>
<circle cx="2100.7" cy="201.8" r="6.15" fill="#98AECB" stroke="#111" stroke-width="1.9"/>
<circle cx="2105.7" cy="132.1" r="6.15" fill="#98AECB" stroke="#111" stroke-width="1.9"/>
<circle cx="2104.7" cy="263.9" r="6.15" fill="#98AECB" stroke="#111" stroke-width="1.9"/>
<circle cx="2112.3" cy="166.7" r="6.15" fill="#98AECB" stroke="#111" stroke-width="1.9"/>
<circle cx="2120.8" cy="125.6" r="6.15" fill="#98AECB" stroke="#111" stroke-width="1.9"/>
<circle cx="2092.0" cy="266.2" r="6.15" fill="#98AECB" stroke="#111" stroke-width="1.9"/>
<circle cx="2104.2" cy="109.8" r="6.15" fill="#98AECB" stroke="#111" stroke-width="1.9"/>
<circle cx="2109.1" cy="162.5" r="6.15" fill="#98AECB" stroke="#111" stroke-width="1.9"/>
<circle cx="2106.7" cy="201.0" r="6.15" fill="#98AECB" stroke="#111" stroke-width="1.9"/>
<circle cx="2055.5" cy="369.2" r="6.15" fill="#78AFBA" stroke="#111" stroke-width="1.9"/>
<circle cx="2121.5" cy="84.6" r="6.15" fill="#98AECB" stroke="#111" stroke-width="1.9"/>
<circle cx="2113.2" cy="80.4" r="6.15" fill="#98AECB" stroke="#111" stroke-width="1.9"/>
<circle cx="2104.1" cy="223.0" r="6.15" fill="#98AECB" stroke="#111" stroke-width="1.9"/>
<circle cx="2105.9" cy="225.5" r="6.15" fill="#98AECB" stroke="#111" stroke-width="1.9"/>
<circle cx="2092.6" cy="280.1" r="6.15" fill="#98AECB" stroke="#111" stroke-width="1.9"/>
<circle cx="2107.0" cy="272.7" r="6.15" fill="#98AECB" stroke="#111" stroke-width="1.9"/>
<circle cx="2059.0" cy="317.2" r="6.15" fill="#78AFBA" stroke="#111" stroke-width="1.9"/>
<circle cx="2117.7" cy="115.0" r="6.15" fill="#98AECB" stroke="#111" stroke-width="1.9"/>
<circle cx="2119.0" cy="86.0" r="6.15" fill="#98AECB" stroke="#111" stroke-width="1.9"/>
<polygon points="2115.2,230.3 2108.2,243.9 2122.2,243.9" fill="#98AECB" stroke="#111" stroke-width="1.8" stroke-linejoin="miter"/>
<circle cx="2124.8" cy="116.0" r="6.15" fill="#98AECB" stroke="#111" stroke-width="1.9"/>
<circle cx="2071.5" cy="338.1" r="6.15" fill="#78AFBA" stroke="#111" stroke-width="1.9"/>
<circle cx="2053.5" cy="353.9" r="6.15" fill="#78AFBA" stroke="#111" stroke-width="1.9"/>
<circle cx="2108.4" cy="119.5" r="6.15" fill="#98AECB" stroke="#111" stroke-width="1.9"/>
<polygon points="2115.6,223.6 2108.6,237.2 2122.6,237.2" fill="#98AECB" stroke="#111" stroke-width="1.8" stroke-linejoin="miter"/>
<circle cx="2046.1" cy="344.4" r="6.15" fill="#78AFBA" stroke="#111" stroke-width="1.9"/>
<circle cx="2093.6" cy="112.2" r="6.15" fill="#98AECB" stroke="#111" stroke-width="1.9"/>
<circle cx="2058.5" cy="340.6" r="6.15" fill="#78AFBA" stroke="#111" stroke-width="1.9"/>
<circle cx="2049.6" cy="337.3" r="6.15" fill="#78AFBA" stroke="#111" stroke-width="1.9"/>
<circle cx="2106.2" cy="139.6" r="6.15" fill="#98AECB" stroke="#111" stroke-width="1.9"/>
<circle cx="2074.6" cy="311.2" r="6.15" fill="#78AFBA" stroke="#111" stroke-width="1.9"/>
<circle cx="2061.6" cy="331.6" r="6.15" fill="#78AFBA" stroke="#111" stroke-width="1.9"/>
<circle cx="2073.4" cy="367.7" r="6.15" fill="#78AFBA" stroke="#111" stroke-width="1.9"/>
<circle cx="2096.7" cy="233.2" r="6.15" fill="#98AECB" stroke="#111" stroke-width="1.9"/>
<polygon points="2120.4,319.8 2113.4,333.4 2127.4,333.4" fill="#98AECB" stroke="#111" stroke-width="1.8" stroke-linejoin="miter"/>
<circle cx="2109.5" cy="134.7" r="6.15" fill="#98AECB" stroke="#111" stroke-width="1.9"/>
<circle cx="2102.7" cy="151.5" r="6.15" fill="#98AECB" stroke="#111" stroke-width="1.9"/>
<circle cx="2059.9" cy="353.4" r="6.15" fill="#78AFBA" stroke="#111" stroke-width="1.9"/>
<circle cx="2087.8" cy="246.5" r="6.15" fill="#98AECB" stroke="#111" stroke-width="1.9"/>
<circle cx="2122.0" cy="172.5" r="6.15" fill="#98AECB" stroke="#111" stroke-width="1.9"/>
<circle cx="2103.3" cy="258.7" r="6.15" fill="#98AECB" stroke="#111" stroke-width="1.9"/>
<circle cx="2119.6" cy="95.7" r="6.15" fill="#98AECB" stroke="#111" stroke-width="1.9"/>
<circle cx="2097.0" cy="204.5" r="6.15" fill="#98AECB" stroke="#111" stroke-width="1.9"/>
<circle cx="2091.4" cy="271.1" r="6.15" fill="#98AECB" stroke="#111" stroke-width="1.9"/>
<circle cx="2109.8" cy="105.6" r="6.15" fill="#98AECB" stroke="#111" stroke-width="1.9"/>
<circle cx="2087.4" cy="263.3" r="6.15" fill="#98AECB" stroke="#111" stroke-width="1.9"/>
<circle cx="2119.4" cy="130.6" r="6.15" fill="#98AECB" stroke="#111" stroke-width="1.9"/>
<circle cx="2127.7" cy="113.3" r="6.15" fill="#98AECB" stroke="#111" stroke-width="1.9"/>
<circle cx="2089.3" cy="250.4" r="6.15" fill="#98AECB" stroke="#111" stroke-width="1.9"/>
<circle cx="2060.6" cy="296.2" r="6.15" fill="#78AFBA" stroke="#111" stroke-width="1.9"/>
<polygon points="2102.9,326.5 2095.9,340.1 2109.9,340.1" fill="#98AECB" stroke="#111" stroke-width="1.8" stroke-linejoin="miter"/>
<circle cx="2103.4" cy="163.7" r="6.15" fill="#98AECB" stroke="#111" stroke-width="1.9"/>
<circle cx="2068.3" cy="364.8" r="6.15" fill="#78AFBA" stroke="#111" stroke-width="1.9"/>
<circle cx="2080.7" cy="320.2" r="6.15" fill="#78AFBA" stroke="#111" stroke-width="1.9"/>
<circle cx="2115.8" cy="132.2" r="6.15" fill="#98AECB" stroke="#111" stroke-width="1.9"/>
<circle cx="2093.7" cy="256.4" r="6.15" fill="#98AECB" stroke="#111" stroke-width="1.9"/>
<circle cx="2096.9" cy="251.0" r="6.15" fill="#98AECB" stroke="#111" stroke-width="1.9"/>
<circle cx="2096.4" cy="211.7" r="6.15" fill="#98AECB" stroke="#111" stroke-width="1.9"/>
<circle cx="2093.6" cy="304.4" r="6.15" fill="#78AFBA" stroke="#111" stroke-width="1.9"/>
<circle cx="2119.1" cy="93.0" r="6.15" fill="#98AECB" stroke="#111" stroke-width="1.9"/>
<circle cx="2105.3" cy="205.6" r="6.15" fill="#98AECB" stroke="#111" stroke-width="1.9"/>
<circle cx="2097.3" cy="199.1" r="6.15" fill="#98AECB" stroke="#111" stroke-width="1.9"/>
<circle cx="2072.6" cy="326.8" r="6.15" fill="#78AFBA" stroke="#111" stroke-width="1.9"/>
<circle cx="2082.9" cy="357.5" r="6.15" fill="#78AFBA" stroke="#111" stroke-width="1.9"/>
<circle cx="2066.3" cy="371.9" r="6.15" fill="#78AFBA" stroke="#111" stroke-width="1.9"/>
<polygon points="2106.0,307.6 2099.0,321.2 2113.0,321.2" fill="#98AECB" stroke="#111" stroke-width="1.8" stroke-linejoin="miter"/>
<circle cx="2069.9" cy="314.4" r="6.15" fill="#78AFBA" stroke="#111" stroke-width="1.9"/>
<circle cx="2094.5" cy="105.7" r="6.15" fill="#98AECB" stroke="#111" stroke-width="1.9"/>
<circle cx="2074.4" cy="317.8" r="6.15" fill="#78AFBA" stroke="#111" stroke-width="1.9"/>
<circle cx="2118.0" cy="139.7" r="6.15" fill="#98AECB" stroke="#111" stroke-width="1.9"/>
<circle cx="2104.5" cy="134.6" r="6.15" fill="#98AECB" stroke="#111" stroke-width="1.9"/>
<circle cx="2093.2" cy="284.8" r="6.15" fill="#98AECB" stroke="#111" stroke-width="1.9"/>
<polygon points="2102.5,232.9 2095.5,246.5 2109.5,246.5" fill="#98AECB" stroke="#111" stroke-width="1.8" stroke-linejoin="miter"/>
<circle cx="2103.0" cy="244.5" r="6.15" fill="#98AECB" stroke="#111" stroke-width="1.9"/>
<circle cx="2109.7" cy="190.6" r="6.15" fill="#98AECB" stroke="#111" stroke-width="1.9"/>
<circle cx="2101.1" cy="229.3" r="6.15" fill="#98AECB" stroke="#111" stroke-width="1.9"/>
<circle cx="2074.7" cy="355.0" r="6.15" fill="#78AFBA" stroke="#111" stroke-width="1.9"/>
<circle cx="2103.0" cy="231.6" r="6.15" fill="#98AECB" stroke="#111" stroke-width="1.9"/>
<circle cx="2121.8" cy="80.9" r="6.15" fill="#98AECB" stroke="#111" stroke-width="1.9"/>
<circle cx="2108.9" cy="226.4" r="6.15" fill="#98AECB" stroke="#111" stroke-width="1.9"/>
<circle cx="2115.7" cy="73.6" r="6.15" fill="#98AECB" stroke="#111" stroke-width="1.9"/>
<circle cx="2106.8" cy="241.2" r="6.15" fill="#98AECB" stroke="#111" stroke-width="1.9"/>
<circle cx="2113.8" cy="160.3" r="6.15" fill="#98AECB" stroke="#111" stroke-width="1.9"/>
<polygon points="2114.8,335.6 2107.8,349.2 2121.8,349.2" fill="#98AECB" stroke="#111" stroke-width="1.8" stroke-linejoin="miter"/>
<circle cx="2122.0" cy="117.1" r="6.15" fill="#98AECB" stroke="#111" stroke-width="1.9"/>
<polygon points="2116.7,244.8 2109.7,258.4 2123.7,258.4" fill="#98AECB" stroke="#111" stroke-width="1.8" stroke-linejoin="miter"/>
<circle cx="2115.4" cy="163.2" r="6.15" fill="#98AECB" stroke="#111" stroke-width="1.9"/>
<circle cx="2098.2" cy="219.3" r="6.15" fill="#98AECB" stroke="#111" stroke-width="1.9"/>
<circle cx="2076.8" cy="320.3" r="6.15" fill="#78AFBA" stroke="#111" stroke-width="1.9"/>
<circle cx="2109.8" cy="123.8" r="6.15" fill="#98AECB" stroke="#111" stroke-width="1.9"/>
<circle cx="2112.5" cy="120.7" r="6.15" fill="#98AECB" stroke="#111" stroke-width="1.9"/>
<circle cx="2102.1" cy="211.9" r="6.15" fill="#98AECB" stroke="#111" stroke-width="1.9"/>
<circle cx="2125.3" cy="130.2" r="6.15" fill="#98AECB" stroke="#111" stroke-width="1.9"/>
<circle cx="2129.4" cy="135.1" r="6.15" fill="#98AECB" stroke="#111" stroke-width="1.9"/>
<circle cx="2077.5" cy="329.7" r="6.15" fill="#78AFBA" stroke="#111" stroke-width="1.9"/>
<circle cx="2095.1" cy="187.0" r="6.15" fill="#98AECB" stroke="#111" stroke-width="1.9"/>
<circle cx="2118.3" cy="117.4" r="6.15" fill="#98AECB" stroke="#111" stroke-width="1.9"/>
<circle cx="2119.2" cy="90.3" r="6.15" fill="#98AECB" stroke="#111" stroke-width="1.9"/>
<circle cx="2127.2" cy="104.4" r="6.15" fill="#98AECB" stroke="#111" stroke-width="1.9"/>
<polygon points="2116.7,262.5 2109.7,276.1 2123.7,276.1" fill="#98AECB" stroke="#111" stroke-width="1.8" stroke-linejoin="miter"/>
<polygon points="2117.8,329.9 2110.8,343.5 2124.8,343.5" fill="#98AECB" stroke="#111" stroke-width="1.8" stroke-linejoin="miter"/>
<circle cx="2080.4" cy="297.7" r="6.15" fill="#78AFBA" stroke="#111" stroke-width="1.9"/>
<circle cx="2129.2" cy="124.9" r="6.15" fill="#98AECB" stroke="#111" stroke-width="1.9"/>
<circle cx="2120.2" cy="119.6" r="6.15" fill="#98AECB" stroke="#111" stroke-width="1.9"/>
<circle cx="2115.4" cy="94.6" r="6.15" fill="#98AECB" stroke="#111" stroke-width="1.9"/>
<circle cx="2103.4" cy="166.9" r="6.15" fill="#98AECB" stroke="#111" stroke-width="1.9"/>
<circle cx="2057.6" cy="308.1" r="6.15" fill="#78AFBA" stroke="#111" stroke-width="1.9"/>
<circle cx="2127.0" cy="132.4" r="6.15" fill="#98AECB" stroke="#111" stroke-width="1.9"/>
<circle cx="2101.7" cy="226.8" r="6.15" fill="#98AECB" stroke="#111" stroke-width="1.9"/>
<circle cx="2123.2" cy="136.1" r="6.15" fill="#98AECB" stroke="#111" stroke-width="1.9"/>
<circle cx="2104.5" cy="157.2" r="6.15" fill="#98AECB" stroke="#111" stroke-width="1.9"/>
<circle cx="2110.7" cy="215.2" r="6.15" fill="#98AECB" stroke="#111" stroke-width="1.9"/>
<circle cx="2100.5" cy="111.7" r="6.15" fill="#98AECB" stroke="#111" stroke-width="1.9"/>
<circle cx="2126.7" cy="97.6" r="6.15" fill="#98AECB" stroke="#111" stroke-width="1.9"/>
<circle cx="2123.4" cy="127.9" r="6.15" fill="#98AECB" stroke="#111" stroke-width="1.9"/>
<circle cx="2066.9" cy="337.0" r="6.15" fill="#78AFBA" stroke="#111" stroke-width="1.9"/>
<circle cx="2115.8" cy="67.4" r="6.15" fill="#98AECB" stroke="#111" stroke-width="1.9"/>
<circle cx="2077.4" cy="335.9" r="6.15" fill="#78AFBA" stroke="#111" stroke-width="1.9"/>
<circle cx="2106.1" cy="172.7" r="6.15" fill="#98AECB" stroke="#111" stroke-width="1.9"/>
<circle cx="2114.7" cy="126.2" r="6.15" fill="#98AECB" stroke="#111" stroke-width="1.9"/>
<circle cx="2061.3" cy="300.6" r="6.15" fill="#78AFBA" stroke="#111" stroke-width="1.9"/>
<circle cx="2111.7" cy="138.1" r="6.15" fill="#98AECB" stroke="#111" stroke-width="1.9"/>
<circle cx="2112.3" cy="72.8" r="6.15" fill="#98AECB" stroke="#111" stroke-width="1.9"/>
<circle cx="2102.0" cy="182.1" r="6.15" fill="#98AECB" stroke="#111" stroke-width="1.9"/>
<circle cx="2112.8" cy="130.2" r="6.15" fill="#98AECB" stroke="#111" stroke-width="1.9"/>
<circle cx="2117.6" cy="168.0" r="6.15" fill="#98AECB" stroke="#111" stroke-width="1.9"/>
<circle cx="1733.0" cy="65.4" r="6.15" fill="#F5C296" stroke="#111" stroke-width="1.9"/>
<circle cx="1667.7" cy="105.4" r="6.15" fill="#F5C296" stroke="#111" stroke-width="1.9"/>
<circle cx="1679.8" cy="146.2" r="6.15" fill="#F5C296" stroke="#111" stroke-width="1.9"/>
<circle cx="1786.0" cy="138.5" r="6.15" fill="#F5C296" stroke="#111" stroke-width="1.9"/>
<circle cx="1838.1" cy="110.1" r="6.15" fill="#F5C296" stroke="#111" stroke-width="1.9"/>
<circle cx="1875.7" cy="113.0" r="6.15" fill="#F5C296" stroke="#111" stroke-width="1.9"/>
<circle cx="1876.3" cy="150.2" r="6.15" fill="#F5C296" stroke="#111" stroke-width="1.9"/>
<circle cx="1808.3" cy="189.8" r="6.15" fill="#F5C296" stroke="#111" stroke-width="1.9"/>
<circle cx="1818.0" cy="185.6" r="6.15" fill="#F5C296" stroke="#111" stroke-width="1.9"/>
<circle cx="1886.2" cy="191.4" r="6.15" fill="#F5C296" stroke="#111" stroke-width="1.9"/>
<circle cx="1903.0" cy="200.9" r="6.15" fill="#F5C296" stroke="#111" stroke-width="1.9"/>
<circle cx="1892.0" cy="213.8" r="6.15" fill="#F5C296" stroke="#111" stroke-width="1.9"/>
<circle cx="1641.2" cy="202.6" r="6.15" fill="#F5C296" stroke="#111" stroke-width="1.9"/>
<circle cx="1751.0" cy="224.9" r="6.15" fill="#F5C296" stroke="#111" stroke-width="1.9"/>
<circle cx="1662.6" cy="230.3" r="6.15" fill="#F5C296" stroke="#111" stroke-width="1.9"/>
<circle cx="1790.8" cy="231.7" r="6.15" fill="#F5C296" stroke="#111" stroke-width="1.9"/>
<circle cx="1791.5" cy="235.4" r="6.15" fill="#F5C296" stroke="#111" stroke-width="1.9"/>
<circle cx="1919.0" cy="249.2" r="6.15" fill="#F5C296" stroke="#111" stroke-width="1.9"/>
<circle cx="1700.1" cy="270.3" r="6.15" fill="#F5C296" stroke="#111" stroke-width="1.9"/>
<circle cx="1745.4" cy="265.3" r="6.15" fill="#F5C296" stroke="#111" stroke-width="1.9"/>
<circle cx="1743.0" cy="276.9" r="6.15" fill="#F5C296" stroke="#111" stroke-width="1.9"/>
<circle cx="1809.3" cy="266.3" r="6.15" fill="#F5C296" stroke="#111" stroke-width="1.9"/>
<circle cx="1802.0" cy="281.3" r="6.15" fill="#F5C296" stroke="#111" stroke-width="1.9"/>
<circle cx="1891.3" cy="274.4" r="6.15" fill="#F5C296" stroke="#111" stroke-width="1.9"/>
<circle cx="1900.0" cy="273.0" r="6.15" fill="#F5C296" stroke="#111" stroke-width="1.9"/>
<circle cx="1678.7" cy="299.2" r="6.15" fill="#F5C296" stroke="#111" stroke-width="1.9"/>
<circle cx="1722.3" cy="310.7" r="6.15" fill="#F5C296" stroke="#111" stroke-width="1.9"/>
<circle cx="1718.0" cy="323.5" r="6.15" fill="#F5C296" stroke="#111" stroke-width="1.9"/>
<circle cx="1749.7" cy="324.2" r="6.15" fill="#F5C296" stroke="#111" stroke-width="1.9"/>
<circle cx="1854.6" cy="308.9" r="6.15" fill="#F5C296" stroke="#111" stroke-width="1.9"/>
<circle cx="1848.6" cy="322.8" r="6.15" fill="#F5C296" stroke="#111" stroke-width="1.9"/>
<circle cx="1894.5" cy="306.3" r="6.15" fill="#F5C296" stroke="#111" stroke-width="1.9"/>
<circle cx="1898.6" cy="323.8" r="6.15" fill="#F5C296" stroke="#111" stroke-width="1.9"/>
<circle cx="1915.3" cy="312.3" r="6.15" fill="#F5C296" stroke="#111" stroke-width="1.9"/>
<circle cx="1919.0" cy="330.8" r="6.15" fill="#F5C296" stroke="#111" stroke-width="1.9"/>
<circle cx="1906.6" cy="344.3" r="6.15" fill="#F5C296" stroke="#111" stroke-width="1.9"/>
<circle cx="1911.0" cy="343.5" r="6.15" fill="#F5C296" stroke="#111" stroke-width="1.9"/>
<circle cx="1901.5" cy="363.1" r="6.15" fill="#F5C296" stroke="#111" stroke-width="1.9"/>
<circle cx="1770.0" cy="364.0" r="6.15" fill="#F5C296" stroke="#111" stroke-width="1.9"/>
<polygon points="1949.8,62.5 1942.8,76.1 1956.8,76.1" fill="#F5C296" stroke="#111" stroke-width="1.8" stroke-linejoin="miter"/>
<polygon points="1976.0,72.0 1969.0,85.6 1983.0,85.6" fill="#F5C296" stroke="#111" stroke-width="1.8" stroke-linejoin="miter"/>
<polygon points="1979.0,71.3 1972.0,84.9 1986.0,84.9" fill="#F5C296" stroke="#111" stroke-width="1.8" stroke-linejoin="miter"/>
<polygon points="1988.9,72.4 1981.9,86.0 1995.9,86.0" fill="#F5C296" stroke="#111" stroke-width="1.8" stroke-linejoin="miter"/>
<polygon points="2013.2,74.9 2006.2,88.5 2020.2,88.5" fill="#F5C296" stroke="#111" stroke-width="1.8" stroke-linejoin="miter"/>
<polygon points="2044.5,88.0 2037.5,101.6 2051.5,101.6" fill="#F5C296" stroke="#111" stroke-width="1.8" stroke-linejoin="miter"/>
<polygon points="2049.6,87.3 2042.6,100.9 2056.6,100.9" fill="#F5C296" stroke="#111" stroke-width="1.8" stroke-linejoin="miter"/>
<circle cx="2004.9" cy="63.5" r="6.15" fill="#F5C296" stroke="#111" stroke-width="1.9"/>
<circle cx="1999.8" cy="71.2" r="6.15" fill="#F5C296" stroke="#111" stroke-width="1.9"/>
<circle cx="2006.6" cy="80.3" r="6.15" fill="#F5C296" stroke="#111" stroke-width="1.9"/>
<circle cx="1965.6" cy="114.8" r="6.15" fill="#F5C296" stroke="#111" stroke-width="1.9"/>
<circle cx="2045.2" cy="108.7" r="6.15" fill="#F5C296" stroke="#111" stroke-width="1.9"/>
<circle cx="2043.0" cy="112.7" r="6.15" fill="#F5C296" stroke="#111" stroke-width="1.9"/>
<circle cx="2048.1" cy="105.7" r="6.15" fill="#F5C296" stroke="#111" stroke-width="1.9"/>
<circle cx="2000.8" cy="148.0" r="6.15" fill="#F5C296" stroke="#111" stroke-width="1.9"/>
<circle cx="1997.9" cy="150.9" r="6.15" fill="#F5C296" stroke="#111" stroke-width="1.9"/>
<circle cx="2027.0" cy="151.6" r="6.15" fill="#F5C296" stroke="#111" stroke-width="1.9"/>
<circle cx="2035.3" cy="152.1" r="6.15" fill="#F5C296" stroke="#111" stroke-width="1.9"/>
<circle cx="2000.8" cy="172.7" r="6.15" fill="#F5C296" stroke="#111" stroke-width="1.9"/>
<circle cx="1962.9" cy="187.3" r="6.15" fill="#F5C296" stroke="#111" stroke-width="1.9"/>
<circle cx="1971.7" cy="204.1" r="6.15" fill="#F5C296" stroke="#111" stroke-width="1.9"/>
<circle cx="2006.3" cy="209.2" r="6.15" fill="#F5C296" stroke="#111" stroke-width="1.9"/>
<circle cx="2014.2" cy="208.0" r="6.15" fill="#F5C296" stroke="#111" stroke-width="1.9"/>
<circle cx="2032.6" cy="214.7" r="6.15" fill="#F5C296" stroke="#111" stroke-width="1.9"/>
<circle cx="2042.8" cy="203.0" r="6.15" fill="#F5C296" stroke="#111" stroke-width="1.9"/>
<circle cx="1958.6" cy="218.6" r="6.15" fill="#F5C296" stroke="#111" stroke-width="1.9"/>
<circle cx="1949.8" cy="221.5" r="6.15" fill="#F5C296" stroke="#111" stroke-width="1.9"/>
<circle cx="1928.0" cy="228.8" r="6.15" fill="#F5C296" stroke="#111" stroke-width="1.9"/>
<circle cx="1962.2" cy="228.8" r="6.15" fill="#F5C296" stroke="#111" stroke-width="1.9"/>
<polygon points="2050.0,63.3 2043.0,76.9 2057.0,76.9" fill="#78AFBA" stroke="#111" stroke-width="1.8" stroke-linejoin="miter"/>
<polygon points="2053.2,74.2 2046.2,87.8 2060.2,87.8" fill="#78AFBA" stroke="#111" stroke-width="1.8" stroke-linejoin="miter"/>
<polygon points="2061.3,80.7 2054.3,94.3 2068.3,94.3" fill="#78AFBA" stroke="#111" stroke-width="1.8" stroke-linejoin="miter"/>
<polygon points="2069.3,133.2 2062.3,146.8 2076.3,146.8" fill="#78AFBA" stroke="#111" stroke-width="1.8" stroke-linejoin="miter"/>
<polygon points="2072.2,132.4 2065.2,146.0 2079.2,146.0" fill="#78AFBA" stroke="#111" stroke-width="1.8" stroke-linejoin="miter"/>
<polygon points="2073.6,183.4 2066.6,197.0 2080.6,197.0" fill="#78AFBA" stroke="#111" stroke-width="1.8" stroke-linejoin="miter"/>
<circle cx="2069.3" cy="112.7" r="6.15" fill="#78AFBA" stroke="#111" stroke-width="1.9"/>
<circle cx="2078.7" cy="107.9" r="6.15" fill="#78AFBA" stroke="#111" stroke-width="1.9"/>
<circle cx="2077.3" cy="134.6" r="6.15" fill="#78AFBA" stroke="#111" stroke-width="1.9"/>
<circle cx="2072.2" cy="173.5" r="6.15" fill="#78AFBA" stroke="#111" stroke-width="1.9"/>
<circle cx="2082.1" cy="171.0" r="6.15" fill="#78AFBA" stroke="#111" stroke-width="1.9"/>
<circle cx="2062.0" cy="228.1" r="6.15" fill="#78AFBA" stroke="#111" stroke-width="1.9"/>
<circle cx="2067.8" cy="228.1" r="6.15" fill="#78AFBA" stroke="#111" stroke-width="1.9"/>
<circle cx="2108.6" cy="60.6" r="6.15" fill="#98AECB" stroke="#111" stroke-width="1.9"/>
<circle cx="2111.5" cy="61.3" r="6.15" fill="#98AECB" stroke="#111" stroke-width="1.9"/>
<circle cx="2115.9" cy="62.0" r="6.15" fill="#98AECB" stroke="#111" stroke-width="1.9"/>
<circle cx="2123.2" cy="73.7" r="6.15" fill="#98AECB" stroke="#111" stroke-width="1.9"/>
<circle cx="2113.0" cy="78.1" r="6.15" fill="#98AECB" stroke="#111" stroke-width="1.9"/>
<circle cx="2118.8" cy="77.3" r="6.15" fill="#98AECB" stroke="#111" stroke-width="1.9"/>
<circle cx="2115.9" cy="85.3" r="6.15" fill="#98AECB" stroke="#111" stroke-width="1.9"/>
<circle cx="2124.6" cy="94.1" r="6.15" fill="#98AECB" stroke="#111" stroke-width="1.9"/>
<circle cx="2113.0" cy="101.4" r="6.15" fill="#98AECB" stroke="#111" stroke-width="1.9"/>
<circle cx="2098.4" cy="105.7" r="6.15" fill="#98AECB" stroke="#111" stroke-width="1.9"/>
<circle cx="2105.7" cy="104.3" r="6.15" fill="#98AECB" stroke="#111" stroke-width="1.9"/>
<circle cx="2130.4" cy="107.2" r="6.15" fill="#98AECB" stroke="#111" stroke-width="1.9"/>
<circle cx="2121.7" cy="111.6" r="6.15" fill="#98AECB" stroke="#111" stroke-width="1.9"/>
<circle cx="2104.2" cy="118.8" r="6.15" fill="#98AECB" stroke="#111" stroke-width="1.9"/>
<circle cx="2113.0" cy="117.4" r="6.15" fill="#98AECB" stroke="#111" stroke-width="1.9"/>
<circle cx="2124.6" cy="120.3" r="6.15" fill="#98AECB" stroke="#111" stroke-width="1.9"/>
<circle cx="2101.3" cy="129.0" r="6.15" fill="#98AECB" stroke="#111" stroke-width="1.9"/>
<circle cx="2110.0" cy="134.9" r="6.15" fill="#98AECB" stroke="#111" stroke-width="1.9"/>
<circle cx="2118.8" cy="132.0" r="6.15" fill="#98AECB" stroke="#111" stroke-width="1.9"/>
<circle cx="2136.3" cy="134.1" r="6.15" fill="#98AECB" stroke="#111" stroke-width="1.9"/>
<circle cx="2127.5" cy="140.7" r="6.15" fill="#98AECB" stroke="#111" stroke-width="1.9"/>
<circle cx="2115.9" cy="143.6" r="6.15" fill="#98AECB" stroke="#111" stroke-width="1.9"/>
<circle cx="2107.1" cy="150.9" r="6.15" fill="#98AECB" stroke="#111" stroke-width="1.9"/>
<circle cx="2121.7" cy="149.4" r="6.15" fill="#98AECB" stroke="#111" stroke-width="1.9"/>
<circle cx="2094.0" cy="161.1" r="6.15" fill="#98AECB" stroke="#111" stroke-width="1.9"/>
<circle cx="2104.2" cy="158.2" r="6.15" fill="#98AECB" stroke="#111" stroke-width="1.9"/>
<circle cx="2111.5" cy="164.0" r="6.15" fill="#98AECB" stroke="#111" stroke-width="1.9"/>
<circle cx="2101.3" cy="169.8" r="6.15" fill="#98AECB" stroke="#111" stroke-width="1.9"/>
<circle cx="2110.0" cy="177.1" r="6.15" fill="#98AECB" stroke="#111" stroke-width="1.9"/>
<circle cx="2118.8" cy="180.0" r="6.15" fill="#98AECB" stroke="#111" stroke-width="1.9"/>
<circle cx="2127.5" cy="180.0" r="6.15" fill="#98AECB" stroke="#111" stroke-width="1.9"/>
<circle cx="2088.2" cy="188.8" r="6.15" fill="#98AECB" stroke="#111" stroke-width="1.9"/>
<circle cx="2098.4" cy="184.4" r="6.15" fill="#98AECB" stroke="#111" stroke-width="1.9"/>
<circle cx="2107.1" cy="190.2" r="6.15" fill="#98AECB" stroke="#111" stroke-width="1.9"/>
<circle cx="2088.2" cy="197.5" r="6.15" fill="#98AECB" stroke="#111" stroke-width="1.9"/>
<circle cx="2099.8" cy="199.0" r="6.15" fill="#98AECB" stroke="#111" stroke-width="1.9"/>
<circle cx="2108.6" cy="200.4" r="6.15" fill="#98AECB" stroke="#111" stroke-width="1.9"/>
<circle cx="2117.3" cy="204.8" r="6.15" fill="#98AECB" stroke="#111" stroke-width="1.9"/>
<circle cx="2092.6" cy="206.2" r="6.15" fill="#98AECB" stroke="#111" stroke-width="1.9"/>
<circle cx="2104.2" cy="210.6" r="6.15" fill="#98AECB" stroke="#111" stroke-width="1.9"/>
<circle cx="2123.2" cy="212.1" r="6.15" fill="#98AECB" stroke="#111" stroke-width="1.9"/>
<circle cx="2113.0" cy="213.5" r="6.15" fill="#98AECB" stroke="#111" stroke-width="1.9"/>
<circle cx="2085.3" cy="217.9" r="6.15" fill="#98AECB" stroke="#111" stroke-width="1.9"/>
<circle cx="2095.5" cy="220.8" r="6.15" fill="#98AECB" stroke="#111" stroke-width="1.9"/>
<circle cx="2104.2" cy="223.7" r="6.15" fill="#98AECB" stroke="#111" stroke-width="1.9"/>
<circle cx="2114.4" cy="222.3" r="6.15" fill="#98AECB" stroke="#111" stroke-width="1.9"/>
<polygon points="2127.5,163.0 2120.5,176.6 2134.5,176.6" fill="#98AECB" stroke="#111" stroke-width="1.8" stroke-linejoin="miter"/>
<polygon points="2123.2,186.3 2116.2,199.9 2130.2,199.9" fill="#98AECB" stroke="#111" stroke-width="1.8" stroke-linejoin="miter"/>
<polygon points="2110.0,218.4 2103.0,232.0 2117.0,232.0" fill="#98AECB" stroke="#111" stroke-width="1.8" stroke-linejoin="miter"/>
<polygon points="2080.9,189.2 2073.9,202.8 2087.9,202.8" fill="#98AECB" stroke="#111" stroke-width="1.8" stroke-linejoin="miter"/>
<circle cx="1951.3" cy="238.3" r="6.15" fill="#F5C296" stroke="#111" stroke-width="1.9"/>
<circle cx="1944.0" cy="244.1" r="6.15" fill="#F5C296" stroke="#111" stroke-width="1.9"/>
<circle cx="1977.5" cy="242.7" r="6.15" fill="#F5C296" stroke="#111" stroke-width="1.9"/>
<circle cx="1971.7" cy="246.3" r="6.15" fill="#F5C296" stroke="#111" stroke-width="1.9"/>
<circle cx="1962.2" cy="252.1" r="6.15" fill="#F5C296" stroke="#111" stroke-width="1.9"/>
<circle cx="1967.3" cy="263.1" r="6.15" fill="#F5C296" stroke="#111" stroke-width="1.9"/>
<circle cx="1979.7" cy="262.3" r="6.15" fill="#F5C296" stroke="#111" stroke-width="1.9"/>
<circle cx="1992.5" cy="258.0" r="6.15" fill="#F5C296" stroke="#111" stroke-width="1.9"/>
<circle cx="2021.9" cy="241.2" r="6.15" fill="#F5C296" stroke="#111" stroke-width="1.9"/>
<circle cx="2032.1" cy="245.6" r="6.15" fill="#F5C296" stroke="#111" stroke-width="1.9"/>
<circle cx="2042.3" cy="250.7" r="6.15" fill="#F5C296" stroke="#111" stroke-width="1.9"/>
<circle cx="2029.9" cy="255.8" r="6.15" fill="#F5C296" stroke="#111" stroke-width="1.9"/>
<circle cx="1933.1" cy="280.5" r="6.15" fill="#F5C296" stroke="#111" stroke-width="1.9"/>
<circle cx="1930.9" cy="287.8" r="6.15" fill="#F5C296" stroke="#111" stroke-width="1.9"/>
<circle cx="1945.5" cy="288.6" r="6.15" fill="#F5C296" stroke="#111" stroke-width="1.9"/>
<circle cx="1927.3" cy="298.0" r="6.15" fill="#F5C296" stroke="#111" stroke-width="1.9"/>
<circle cx="1944.0" cy="306.8" r="6.15" fill="#F5C296" stroke="#111" stroke-width="1.9"/>
<circle cx="1940.4" cy="312.6" r="6.15" fill="#F5C296" stroke="#111" stroke-width="1.9"/>
<circle cx="1931.6" cy="325.7" r="6.15" fill="#F5C296" stroke="#111" stroke-width="1.9"/>
<circle cx="1939.6" cy="357.4" r="6.15" fill="#F5C296" stroke="#111" stroke-width="1.9"/>
<circle cx="1955.4" cy="380.3" r="6.15" fill="#F5C296" stroke="#111" stroke-width="1.9"/>
<circle cx="1938.2" cy="337.3" r="6.15" fill="#F5C296" stroke="#111" stroke-width="1.9"/>
<circle cx="1944.7" cy="338.8" r="6.15" fill="#F5C296" stroke="#111" stroke-width="1.9"/>
<circle cx="1956.4" cy="337.3" r="6.15" fill="#F5C296" stroke="#111" stroke-width="1.9"/>
<circle cx="1964.4" cy="338.1" r="6.15" fill="#F5C296" stroke="#111" stroke-width="1.9"/>
<circle cx="1952.0" cy="344.6" r="6.15" fill="#F5C296" stroke="#111" stroke-width="1.9"/>
<circle cx="1968.0" cy="324.2" r="6.15" fill="#F5C296" stroke="#111" stroke-width="1.9"/>
<circle cx="1970.2" cy="327.9" r="6.15" fill="#F5C296" stroke="#111" stroke-width="1.9"/>
<circle cx="1977.5" cy="327.2" r="6.15" fill="#F5C296" stroke="#111" stroke-width="1.9"/>
<circle cx="1982.6" cy="345.4" r="6.15" fill="#F5C296" stroke="#111" stroke-width="1.9"/>
<circle cx="1989.2" cy="329.3" r="6.15" fill="#F5C296" stroke="#111" stroke-width="1.9"/>
<circle cx="1993.5" cy="314.8" r="6.15" fill="#F5C296" stroke="#111" stroke-width="1.9"/>
<circle cx="2005.2" cy="311.1" r="6.15" fill="#F5C296" stroke="#111" stroke-width="1.9"/>
<circle cx="2005.9" cy="292.2" r="6.15" fill="#F5C296" stroke="#111" stroke-width="1.9"/>
<circle cx="2002.3" cy="321.3" r="6.15" fill="#F5C296" stroke="#111" stroke-width="1.9"/>
<circle cx="2008.8" cy="322.8" r="6.15" fill="#F5C296" stroke="#111" stroke-width="1.9"/>
<circle cx="1997.9" cy="335.9" r="6.15" fill="#F5C296" stroke="#111" stroke-width="1.9"/>
<circle cx="2006.6" cy="331.5" r="6.15" fill="#F5C296" stroke="#111" stroke-width="1.9"/>
<circle cx="2011.0" cy="337.3" r="6.15" fill="#F5C296" stroke="#111" stroke-width="1.9"/>
<circle cx="2002.3" cy="346.8" r="6.15" fill="#F5C296" stroke="#111" stroke-width="1.9"/>
<circle cx="2016.1" cy="341.7" r="6.15" fill="#F5C296" stroke="#111" stroke-width="1.9"/>
<circle cx="2022.7" cy="318.4" r="6.15" fill="#F5C296" stroke="#111" stroke-width="1.9"/>
<circle cx="2024.1" cy="308.2" r="6.15" fill="#F5C296" stroke="#111" stroke-width="1.9"/>
<circle cx="2031.4" cy="300.9" r="6.15" fill="#F5C296" stroke="#111" stroke-width="1.9"/>
<circle cx="2022.7" cy="328.6" r="6.15" fill="#F5C296" stroke="#111" stroke-width="1.9"/>
<circle cx="2028.5" cy="333.0" r="6.15" fill="#F5C296" stroke="#111" stroke-width="1.9"/>
<circle cx="2034.3" cy="318.4" r="6.15" fill="#F5C296" stroke="#111" stroke-width="1.9"/>
<circle cx="2038.7" cy="315.5" r="6.15" fill="#F5C296" stroke="#111" stroke-width="1.9"/>
<circle cx="2041.6" cy="311.1" r="6.15" fill="#F5C296" stroke="#111" stroke-width="1.9"/>
<circle cx="2039.4" cy="332.3" r="6.15" fill="#F5C296" stroke="#111" stroke-width="1.9"/>
<circle cx="2038.7" cy="338.8" r="6.15" fill="#F5C296" stroke="#111" stroke-width="1.9"/>
<circle cx="2037.2" cy="343.2" r="6.15" fill="#F5C296" stroke="#111" stroke-width="1.9"/>
<circle cx="2034.3" cy="276.2" r="6.15" fill="#F5C296" stroke="#111" stroke-width="1.9"/>
<circle cx="2038.7" cy="284.9" r="6.15" fill="#F5C296" stroke="#111" stroke-width="1.9"/>
<circle cx="2046.0" cy="287.8" r="6.15" fill="#F5C296" stroke="#111" stroke-width="1.9"/>
<circle cx="2046.7" cy="292.2" r="6.15" fill="#F5C296" stroke="#111" stroke-width="1.9"/>
<circle cx="2010.3" cy="374.5" r="6.15" fill="#F5C296" stroke="#111" stroke-width="1.9"/>
<circle cx="2029.2" cy="373.8" r="6.15" fill="#F5C296" stroke="#111" stroke-width="1.9"/>
<circle cx="2041.6" cy="366.5" r="6.15" fill="#F5C296" stroke="#111" stroke-width="1.9"/>
<circle cx="2050.3" cy="375.2" r="6.15" fill="#F5C296" stroke="#111" stroke-width="1.9"/>
<circle cx="2046.0" cy="322.8" r="6.15" fill="#F5C296" stroke="#111" stroke-width="1.9"/>
<circle cx="2059.1" cy="228.8" r="6.15" fill="#78AFBA" stroke="#111" stroke-width="1.9"/>
<circle cx="2064.9" cy="236.8" r="6.15" fill="#78AFBA" stroke="#111" stroke-width="1.9"/>
<circle cx="2064.9" cy="260.2" r="6.15" fill="#78AFBA" stroke="#111" stroke-width="1.9"/>
<circle cx="2070.7" cy="268.9" r="6.15" fill="#78AFBA" stroke="#111" stroke-width="1.9"/>
<circle cx="2062.0" cy="274.7" r="6.15" fill="#78AFBA" stroke="#111" stroke-width="1.9"/>
<circle cx="2073.6" cy="258.7" r="6.15" fill="#78AFBA" stroke="#111" stroke-width="1.9"/>
<circle cx="2078.0" cy="276.2" r="6.15" fill="#78AFBA" stroke="#111" stroke-width="1.9"/>
<circle cx="2063.4" cy="293.7" r="6.15" fill="#78AFBA" stroke="#111" stroke-width="1.9"/>
<circle cx="2051.8" cy="298.0" r="6.15" fill="#78AFBA" stroke="#111" stroke-width="1.9"/>
<circle cx="2060.5" cy="300.9" r="6.15" fill="#78AFBA" stroke="#111" stroke-width="1.9"/>
<circle cx="2048.9" cy="306.8" r="6.15" fill="#78AFBA" stroke="#111" stroke-width="1.9"/>
<circle cx="2064.9" cy="311.1" r="6.15" fill="#78AFBA" stroke="#111" stroke-width="1.9"/>
<circle cx="2056.2" cy="317.0" r="6.15" fill="#78AFBA" stroke="#111" stroke-width="1.9"/>
<circle cx="2048.9" cy="317.0" r="6.15" fill="#78AFBA" stroke="#111" stroke-width="1.9"/>
<circle cx="2073.6" cy="308.2" r="6.15" fill="#78AFBA" stroke="#111" stroke-width="1.9"/>
<circle cx="2051.8" cy="325.7" r="6.15" fill="#78AFBA" stroke="#111" stroke-width="1.9"/>
<circle cx="2062.0" cy="322.8" r="6.15" fill="#78AFBA" stroke="#111" stroke-width="1.9"/>
<circle cx="2070.7" cy="325.7" r="6.15" fill="#78AFBA" stroke="#111" stroke-width="1.9"/>
<circle cx="2059.1" cy="334.4" r="6.15" fill="#78AFBA" stroke="#111" stroke-width="1.9"/>
<circle cx="2072.2" cy="335.9" r="6.15" fill="#78AFBA" stroke="#111" stroke-width="1.9"/>
<circle cx="2080.9" cy="331.5" r="6.15" fill="#78AFBA" stroke="#111" stroke-width="1.9"/>
<circle cx="2057.6" cy="343.2" r="6.15" fill="#78AFBA" stroke="#111" stroke-width="1.9"/>
<circle cx="2070.7" cy="346.1" r="6.15" fill="#78AFBA" stroke="#111" stroke-width="1.9"/>
<circle cx="2086.7" cy="338.8" r="6.15" fill="#78AFBA" stroke="#111" stroke-width="1.9"/>
<circle cx="2054.7" cy="357.7" r="6.15" fill="#78AFBA" stroke="#111" stroke-width="1.9"/>
<circle cx="2070.7" cy="356.3" r="6.15" fill="#78AFBA" stroke="#111" stroke-width="1.9"/>
<circle cx="2062.0" cy="362.1" r="6.15" fill="#78AFBA" stroke="#111" stroke-width="1.9"/>
<circle cx="2070.7" cy="367.9" r="6.15" fill="#78AFBA" stroke="#111" stroke-width="1.9"/>
<circle cx="2085.3" cy="365.0" r="6.15" fill="#78AFBA" stroke="#111" stroke-width="1.9"/>
<circle cx="2054.0" cy="374.5" r="6.15" fill="#78AFBA" stroke="#111" stroke-width="1.9"/>
<circle cx="2062.0" cy="375.2" r="6.15" fill="#78AFBA" stroke="#111" stroke-width="1.9"/>
<circle cx="2056.2" cy="387.6" r="6.15" fill="#78AFBA" stroke="#111" stroke-width="1.9"/>
<circle cx="2083.8" cy="393.4" r="6.15" fill="#78AFBA" stroke="#111" stroke-width="1.9"/>
<circle cx="2064.9" cy="410.2" r="6.15" fill="#78AFBA" stroke="#111" stroke-width="1.9"/>
<circle cx="2088.2" cy="350.5" r="6.15" fill="#78AFBA" stroke="#111" stroke-width="1.9"/>
<circle cx="2079.5" cy="317.0" r="6.15" fill="#78AFBA" stroke="#111" stroke-width="1.9"/>
<circle cx="2080.9" cy="296.6" r="6.15" fill="#78AFBA" stroke="#111" stroke-width="1.9"/>
<circle cx="2075.1" cy="287.8" r="6.15" fill="#78AFBA" stroke="#111" stroke-width="1.9"/>
<circle cx="2083.8" cy="216.5" r="6.15" fill="#78AFBA" stroke="#111" stroke-width="1.9"/>
<circle cx="2101.3" cy="226.7" r="6.15" fill="#98AECB" stroke="#111" stroke-width="1.9"/>
<circle cx="2098.4" cy="241.2" r="6.15" fill="#98AECB" stroke="#111" stroke-width="1.9"/>
<circle cx="2101.3" cy="254.3" r="6.15" fill="#98AECB" stroke="#111" stroke-width="1.9"/>
<circle cx="2095.5" cy="263.1" r="6.15" fill="#98AECB" stroke="#111" stroke-width="1.9"/>
<circle cx="2101.3" cy="267.4" r="6.15" fill="#98AECB" stroke="#111" stroke-width="1.9"/>
<circle cx="2091.1" cy="277.6" r="6.15" fill="#98AECB" stroke="#111" stroke-width="1.9"/>
<circle cx="2101.3" cy="284.9" r="6.15" fill="#98AECB" stroke="#111" stroke-width="1.9"/>
<circle cx="2092.6" cy="296.6" r="6.15" fill="#98AECB" stroke="#111" stroke-width="1.9"/>
<circle cx="2089.7" cy="356.3" r="6.15" fill="#98AECB" stroke="#111" stroke-width="1.9"/>
<polygon points="2113.0,233.0 2106.0,246.6 2120.0,246.6" fill="#98AECB" stroke="#111" stroke-width="1.8" stroke-linejoin="miter"/>
<polygon points="2123.2,250.4 2116.2,264.0 2130.2,264.0" fill="#98AECB" stroke="#111" stroke-width="1.8" stroke-linejoin="miter"/>
<polygon points="2115.9,256.3 2108.9,269.9 2122.9,269.9" fill="#98AECB" stroke="#111" stroke-width="1.8" stroke-linejoin="miter"/>
<polygon points="2117.3,270.8 2110.3,284.4 2124.3,284.4" fill="#98AECB" stroke="#111" stroke-width="1.8" stroke-linejoin="miter"/>
<polygon points="2104.2,266.5 2097.2,280.1 2111.2,280.1" fill="#98AECB" stroke="#111" stroke-width="1.8" stroke-linejoin="miter"/>
<polygon points="2110.0,289.8 2103.0,303.4 2117.0,303.4" fill="#98AECB" stroke="#111" stroke-width="1.8" stroke-linejoin="miter"/>
<polygon points="2113.0,295.6 2106.0,309.2 2120.0,309.2" fill="#98AECB" stroke="#111" stroke-width="1.8" stroke-linejoin="miter"/>
<polygon points="2095.5,304.3 2088.5,317.9 2102.5,317.9" fill="#98AECB" stroke="#111" stroke-width="1.8" stroke-linejoin="miter"/>
<polygon points="2117.3,307.2 2110.3,320.8 2124.3,320.8" fill="#98AECB" stroke="#111" stroke-width="1.8" stroke-linejoin="miter"/>
<polygon points="2107.1,317.4 2100.1,331.0 2114.1,331.0" fill="#98AECB" stroke="#111" stroke-width="1.8" stroke-linejoin="miter"/>
<polygon points="2123.2,327.6 2116.2,341.2 2130.2,341.2" fill="#98AECB" stroke="#111" stroke-width="1.8" stroke-linejoin="miter"/>
<polygon points="2117.3,333.5 2110.3,347.1 2124.3,347.1" fill="#98AECB" stroke="#111" stroke-width="1.8" stroke-linejoin="miter"/>
<polygon points="2101.3,339.3 2094.3,352.9 2108.3,352.9" fill="#98AECB" stroke="#111" stroke-width="1.8" stroke-linejoin="miter"/>
<polygon points="2110.0,342.2 2103.0,355.8 2117.0,355.8" fill="#98AECB" stroke="#111" stroke-width="1.8" stroke-linejoin="miter"/>
<polygon points="2118.8,342.2 2111.8,355.8 2125.8,355.8" fill="#98AECB" stroke="#111" stroke-width="1.8" stroke-linejoin="miter"/>
<polygon points="2107.1,278.1 2100.1,291.7 2114.1,291.7" fill="#98AECB" stroke="#111" stroke-width="1.8" stroke-linejoin="miter"/>
<polygon points="2080.9,233.0 2073.9,246.6 2087.9,246.6" fill="#98AECB" stroke="#111" stroke-width="1.8" stroke-linejoin="miter"/>
<polygon points="2088.2,244.6 2081.2,258.2 2095.2,258.2" fill="#98AECB" stroke="#111" stroke-width="1.8" stroke-linejoin="miter"/>
<polygon points="2104.2,237.3 2097.2,250.9 2111.2,250.9" fill="#98AECB" stroke="#111" stroke-width="1.8" stroke-linejoin="miter"/>
<polygon points="2099.8,298.5 2092.8,312.1 2106.8,312.1" fill="#98AECB" stroke="#111" stroke-width="1.8" stroke-linejoin="miter"/>
<circle cx="2038.4" cy="435.2" r="6.15" fill="#F5C296" stroke="#111" stroke-width="1.9"/>
<circle cx="2012.9" cy="479.3" r="6.15" fill="#F5C296" stroke="#111" stroke-width="1.9"/>
<circle cx="2010.6" cy="525.5" r="6.15" fill="#F5C296" stroke="#111" stroke-width="1.9"/>
<circle cx="1897.4" cy="516.4" r="6.15" fill="#F5C296" stroke="#111" stroke-width="1.9"/>
<circle cx="1915.6" cy="548.5" r="6.15" fill="#F5C296" stroke="#111" stroke-width="1.9"/>
<circle cx="2066.3" cy="415.5" r="6.15" fill="#78AFBA" stroke="#111" stroke-width="1.9"/>
<circle cx="2051.8" cy="422.8" r="6.15" fill="#78AFBA" stroke="#111" stroke-width="1.9"/>
<circle cx="2058.3" cy="423.5" r="6.15" fill="#78AFBA" stroke="#111" stroke-width="1.9"/>
<line x1="2090.8" y1="44" x2="2090.8" y2="571" stroke="#1E9F5A" stroke-width="2.2" stroke-dasharray="8.6 9.8"/>
<path d="M1639.3 228.8 L2080.9 283.5" fill="none" stroke="#000" stroke-width="2.1"/>
<path d="M1641.2 204.8 C1644.8 206.5 1652.5 211.1 1662.6 215.0 C1672.7 218.9 1688.7 223.6 1702.0 228.1 C1715.3 232.6 1729.4 237.5 1742.7 241.9 C1756.0 246.3 1769.4 250.9 1782.0 254.3 C1794.6 257.7 1805.1 259.6 1818.5 262.3 C1831.9 265.0 1847.6 268.5 1862.2 270.3 C1876.8 272.1 1896.2 272.8 1905.9 273.3 C1915.7 273.8 1911.0 273.8 1920.7 273.3 C1930.5 272.8 1949.8 271.5 1964.4 270.3 C1979.0 269.1 1997.2 265.8 2008.1 266.0 C2019.0 266.2 2022.6 268.7 2029.9 271.8 C2037.2 274.9 2045.7 281.3 2051.8 284.9 C2057.9 288.5 2061.9 292.6 2066.3 293.6 C2070.7 294.6 2074.6 293.4 2078.0 290.7 C2081.4 288.0 2083.8 284.2 2086.7 277.6 C2089.6 271.1 2092.3 261.8 2095.5 251.4 C2098.7 241.0 2102.9 225.3 2105.7 215.0 C2108.5 204.7 2110.4 198.9 2112.5 189.8 C2114.6 180.8 2116.4 170.4 2118.3 160.7 C2120.2 151.0 2121.9 141.7 2124.1 131.6 C2126.2 121.5 2130.0 105.2 2131.2 99.9" fill="none" stroke="#F0602F" stroke-width="2.6" stroke-dasharray="4.5 7.5 15.5 7.5"/>
<text transform="translate(2102.5 496.5) scale(0.95 1)" font-size="33" text-anchor="start" fill="#CC0000">33.80</text>
</g>
<g id="panel-d">
<path d="M156 655V1198H740" fill="none" stroke="#000" stroke-width="2.3" stroke-linejoin="miter"/>
<path d="M182.8 1198v6.2M315.5 1198v6.2M448.2 1198v6.2M580.8 1198v6.2M713 1198v6.2M156 730h-6.2M156 823h-6.2M156 916h-6.2M156 1009h-6.2M156 1101.5h-6.2M156 1194.8h-6.2" fill="none" stroke="#000" stroke-width="1.6"/>
<text transform="translate(184.7 1233.6) scale(0.908 1)" font-size="34.5" text-anchor="middle" fill="#000">25.0</text>
<text transform="translate(314.5 1233.6) scale(0.908 1)" font-size="34.5" text-anchor="middle" fill="#000">27.5</text>
<text transform="translate(446.2 1233.6) scale(0.908 1)" font-size="34.5" text-anchor="middle" fill="#000">30.0</text>
<text transform="translate(588.0 1233.6) scale(0.908 1)" font-size="34.5" text-anchor="middle" fill="#000">32.5</text>
<text transform="translate(714.3 1233.6) scale(0.908 1)" font-size="34.5" text-anchor="middle" fill="#000">35.0</text>
<text transform="translate(143.2 738.2) scale(0.908 1)" font-size="34.5" text-anchor="end" fill="#000">2.0</text>
<text transform="translate(143.2 831.2) scale(0.908 1)" font-size="34.5" text-anchor="end" fill="#000">1.5</text>
<text transform="translate(143.2 924.2) scale(0.908 1)" font-size="34.5" text-anchor="end" fill="#000">1.0</text>
<text transform="translate(143.2 1017.2) scale(0.908 1)" font-size="34.5" text-anchor="end" fill="#000">0.5</text>
<text transform="translate(143.2 1109.7) scale(0.908 1)" font-size="34.5" text-anchor="end" fill="#000">0.0</text>
<text transform="translate(148.8 1203.0) scale(0.908 1)" font-size="34.5" text-anchor="end" fill="#000">−0.5</text>
<text transform="translate(44.2 910.9) rotate(-90) scale(0.9096 1)" font-size="38" text-anchor="middle" fill="#000">DIN / DIP</text>
<text transform="translate(80.1 934.8) rotate(-90) scale(0.9528 1)" font-size="30" text-anchor="middle" fill="#000">(log−transformed, μmol L<tspan dy="-10">-1</tspan><tspan dy="10">)</tspan></text>
<text transform="translate(32.0 676.0) scale(0.98 1)" font-size="40" text-anchor="start" fill="#000">(d)</text>
<circle cx="664.4" cy="909.6" r="6.15" fill="#98AECB" stroke="#111" stroke-width="1.9"/>
<circle cx="653.4" cy="1009.7" r="6.15" fill="#98AECB" stroke="#111" stroke-width="1.9"/>
<circle cx="683.4" cy="876.3" r="6.15" fill="#98AECB" stroke="#111" stroke-width="1.9"/>
<circle cx="651.5" cy="1001.0" r="6.15" fill="#98AECB" stroke="#111" stroke-width="1.9"/>
<circle cx="654.3" cy="961.1" r="6.15" fill="#98AECB" stroke="#111" stroke-width="1.9"/>
<circle cx="666.1" cy="927.9" r="6.15" fill="#98AECB" stroke="#111" stroke-width="1.9"/>
<circle cx="673.2" cy="912.7" r="6.15" fill="#98AECB" stroke="#111" stroke-width="1.9"/>
<circle cx="679.7" cy="869.5" r="6.15" fill="#98AECB" stroke="#111" stroke-width="1.9"/>
<circle cx="671.4" cy="893.6" r="6.15" fill="#98AECB" stroke="#111" stroke-width="1.9"/>
<circle cx="673.2" cy="889.6" r="6.15" fill="#98AECB" stroke="#111" stroke-width="1.9"/>
<circle cx="650.6" cy="895.6" r="6.15" fill="#98AECB" stroke="#111" stroke-width="1.9"/>
<circle cx="670.8" cy="933.7" r="6.15" fill="#98AECB" stroke="#111" stroke-width="1.9"/>
<circle cx="668.6" cy="924.4" r="6.15" fill="#98AECB" stroke="#111" stroke-width="1.9"/>
<circle cx="677.6" cy="879.0" r="6.15" fill="#98AECB" stroke="#111" stroke-width="1.9"/>
<circle cx="660.2" cy="1045.3" r="6.15" fill="#98AECB" stroke="#111" stroke-width="1.9"/>
<circle cx="653.8" cy="1056.1" r="6.15" fill="#98AECB" stroke="#111" stroke-width="1.9"/>
<circle cx="660.4" cy="918.3" r="6.15" fill="#98AECB" stroke="#111" stroke-width="1.9"/>
<circle cx="656.2" cy="1003.4" r="6.15" fill="#98AECB" stroke="#111" stroke-width="1.9"/>
<circle cx="671.5" cy="924.9" r="6.15" fill="#98AECB" stroke="#111" stroke-width="1.9"/>
<circle cx="653.7" cy="934.8" r="6.15" fill="#98AECB" stroke="#111" stroke-width="1.9"/>
<circle cx="677.8" cy="904.3" r="6.15" fill="#98AECB" stroke="#111" stroke-width="1.9"/>
<circle cx="653.9" cy="1049.0" r="6.15" fill="#98AECB" stroke="#111" stroke-width="1.9"/>
<circle cx="659.0" cy="954.5" r="6.15" fill="#98AECB" stroke="#111" stroke-width="1.9"/>
<circle cx="666.6" cy="1034.4" r="6.15" fill="#98AECB" stroke="#111" stroke-width="1.9"/>
<circle cx="668.5" cy="955.8" r="6.15" fill="#98AECB" stroke="#111" stroke-width="1.9"/>
<circle cx="658.2" cy="960.2" r="6.15" fill="#98AECB" stroke="#111" stroke-width="1.9"/>
<circle cx="656.9" cy="1014.5" r="6.15" fill="#98AECB" stroke="#111" stroke-width="1.9"/>
<circle cx="655.3" cy="916.8" r="6.15" fill="#98AECB" stroke="#111" stroke-width="1.9"/>
<circle cx="670.3" cy="883.4" r="6.15" fill="#98AECB" stroke="#111" stroke-width="1.9"/>
<circle cx="660.4" cy="1032.7" r="6.15" fill="#98AECB" stroke="#111" stroke-width="1.9"/>
<circle cx="654.2" cy="929.2" r="6.15" fill="#98AECB" stroke="#111" stroke-width="1.9"/>
<circle cx="658.5" cy="1021.0" r="6.15" fill="#98AECB" stroke="#111" stroke-width="1.9"/>
<circle cx="662.2" cy="1018.9" r="6.15" fill="#98AECB" stroke="#111" stroke-width="1.9"/>
<circle cx="668.7" cy="877.8" r="6.15" fill="#98AECB" stroke="#111" stroke-width="1.9"/>
<circle cx="682.2" cy="920.6" r="6.15" fill="#98AECB" stroke="#111" stroke-width="1.9"/>
<circle cx="663.1" cy="1011.6" r="6.15" fill="#98AECB" stroke="#111" stroke-width="1.9"/>
<circle cx="661.3" cy="994.3" r="6.15" fill="#98AECB" stroke="#111" stroke-width="1.9"/>
<circle cx="666.6" cy="902.5" r="6.15" fill="#98AECB" stroke="#111" stroke-width="1.9"/>
<circle cx="657.6" cy="1008.5" r="6.15" fill="#98AECB" stroke="#111" stroke-width="1.9"/>
<circle cx="659.8" cy="912.5" r="6.15" fill="#98AECB" stroke="#111" stroke-width="1.9"/>
<circle cx="661.5" cy="1042.1" r="6.15" fill="#98AECB" stroke="#111" stroke-width="1.9"/>
<circle cx="677.4" cy="886.6" r="6.15" fill="#98AECB" stroke="#111" stroke-width="1.9"/>
<circle cx="666.2" cy="918.4" r="6.15" fill="#98AECB" stroke="#111" stroke-width="1.9"/>
<circle cx="671.9" cy="878.1" r="6.15" fill="#98AECB" stroke="#111" stroke-width="1.9"/>
<circle cx="659.5" cy="905.2" r="6.15" fill="#98AECB" stroke="#111" stroke-width="1.9"/>
<circle cx="669.1" cy="927.5" r="6.15" fill="#98AECB" stroke="#111" stroke-width="1.9"/>
<circle cx="647.9" cy="905.1" r="6.15" fill="#98AECB" stroke="#111" stroke-width="1.9"/>
<circle cx="654.2" cy="1064.4" r="6.15" fill="#98AECB" stroke="#111" stroke-width="1.9"/>
<circle cx="653.6" cy="1004.5" r="6.15" fill="#98AECB" stroke="#111" stroke-width="1.9"/>
<circle cx="669.1" cy="897.4" r="6.15" fill="#98AECB" stroke="#111" stroke-width="1.9"/>
<circle cx="665.9" cy="911.9" r="6.15" fill="#98AECB" stroke="#111" stroke-width="1.9"/>
<circle cx="679.4" cy="907.6" r="6.15" fill="#98AECB" stroke="#111" stroke-width="1.9"/>
<circle cx="661.5" cy="924.3" r="6.15" fill="#98AECB" stroke="#111" stroke-width="1.9"/>
<circle cx="671.1" cy="906.7" r="6.15" fill="#98AECB" stroke="#111" stroke-width="1.9"/>
<circle cx="663.1" cy="970.8" r="6.15" fill="#98AECB" stroke="#111" stroke-width="1.9"/>
<circle cx="674.6" cy="886.6" r="6.15" fill="#98AECB" stroke="#111" stroke-width="1.9"/>
<circle cx="675.5" cy="917.1" r="6.15" fill="#98AECB" stroke="#111" stroke-width="1.9"/>
<circle cx="684.3" cy="870.7" r="6.15" fill="#98AECB" stroke="#111" stroke-width="1.9"/>
<circle cx="187.7" cy="692.5" r="6.15" fill="#F5C296" stroke="#111" stroke-width="1.9"/>
<circle cx="233.8" cy="672.6" r="6.15" fill="#F5C296" stroke="#111" stroke-width="1.9"/>
<circle cx="219.7" cy="730.4" r="6.15" fill="#F5C296" stroke="#111" stroke-width="1.9"/>
<circle cx="229.2" cy="762.2" r="6.15" fill="#F5C296" stroke="#111" stroke-width="1.9"/>
<circle cx="283.8" cy="766.5" r="6.15" fill="#F5C296" stroke="#111" stroke-width="1.9"/>
<circle cx="350.1" cy="721.1" r="6.15" fill="#F5C296" stroke="#111" stroke-width="1.9"/>
<circle cx="361.3" cy="757.5" r="6.15" fill="#F5C296" stroke="#111" stroke-width="1.9"/>
<circle cx="350.5" cy="771.2" r="6.15" fill="#F5C296" stroke="#111" stroke-width="1.9"/>
<circle cx="346.4" cy="791.0" r="6.15" fill="#F5C296" stroke="#111" stroke-width="1.9"/>
<circle cx="432.4" cy="792.3" r="6.15" fill="#F5C296" stroke="#111" stroke-width="1.9"/>
<circle cx="469.8" cy="762.4" r="6.15" fill="#F5C296" stroke="#111" stroke-width="1.9"/>
<circle cx="457.1" cy="827.0" r="6.15" fill="#F5C296" stroke="#111" stroke-width="1.9"/>
<circle cx="452.0" cy="843.0" r="6.15" fill="#F5C296" stroke="#111" stroke-width="1.9"/>
<circle cx="220.0" cy="841.5" r="6.15" fill="#F5C296" stroke="#111" stroke-width="1.9"/>
<circle cx="320.2" cy="851.7" r="6.15" fill="#F5C296" stroke="#111" stroke-width="1.9"/>
<circle cx="480.0" cy="837.9" r="6.15" fill="#F5C296" stroke="#111" stroke-width="1.9"/>
<circle cx="319.9" cy="855.1" r="6.15" fill="#F5C296" stroke="#111" stroke-width="1.9"/>
<circle cx="442.3" cy="871.4" r="6.15" fill="#F5C296" stroke="#111" stroke-width="1.9"/>
<circle cx="464.0" cy="909.3" r="6.15" fill="#F5C296" stroke="#111" stroke-width="1.9"/>
<circle cx="433.5" cy="925.6" r="6.15" fill="#F5C296" stroke="#111" stroke-width="1.9"/>
<circle cx="453.5" cy="954.4" r="6.15" fill="#F5C296" stroke="#111" stroke-width="1.9"/>
<circle cx="456.1" cy="1020.7" r="6.15" fill="#F5C296" stroke="#111" stroke-width="1.9"/>
<circle cx="479.0" cy="900.5" r="6.15" fill="#F5C296" stroke="#111" stroke-width="1.9"/>
<circle cx="478.3" cy="915.1" r="6.15" fill="#F5C296" stroke="#111" stroke-width="1.9"/>
<circle cx="514.3" cy="719.2" r="6.15" fill="#F5C296" stroke="#111" stroke-width="1.9"/>
<circle cx="560.2" cy="732.7" r="6.15" fill="#F5C296" stroke="#111" stroke-width="1.9"/>
<circle cx="556.5" cy="765.8" r="6.15" fill="#F5C296" stroke="#111" stroke-width="1.9"/>
<circle cx="522.7" cy="778.2" r="6.15" fill="#F5C296" stroke="#111" stroke-width="1.9"/>
<circle cx="524.9" cy="785.5" r="6.15" fill="#F5C296" stroke="#111" stroke-width="1.9"/>
<circle cx="507.7" cy="782.5" r="6.15" fill="#F5C296" stroke="#111" stroke-width="1.9"/>
<circle cx="496.8" cy="793.5" r="6.15" fill="#F5C296" stroke="#111" stroke-width="1.9"/>
<circle cx="504.5" cy="797.4" r="6.15" fill="#F5C296" stroke="#111" stroke-width="1.9"/>
<circle cx="493.2" cy="802.9" r="6.15" fill="#F5C296" stroke="#111" stroke-width="1.9"/>
<circle cx="533.2" cy="799.6" r="6.15" fill="#F5C296" stroke="#111" stroke-width="1.9"/>
<circle cx="527.8" cy="809.5" r="6.15" fill="#F5C296" stroke="#111" stroke-width="1.9"/>
<circle cx="565.3" cy="792.7" r="6.15" fill="#F5C296" stroke="#111" stroke-width="1.9"/>
<circle cx="568.9" cy="803.7" r="6.15" fill="#F5C296" stroke="#111" stroke-width="1.9"/>
<circle cx="502.3" cy="814.6" r="6.15" fill="#F5C296" stroke="#111" stroke-width="1.9"/>
<circle cx="496.8" cy="816.0" r="6.15" fill="#F5C296" stroke="#111" stroke-width="1.9"/>
<circle cx="499.0" cy="822.6" r="6.15" fill="#F5C296" stroke="#111" stroke-width="1.9"/>
<circle cx="536.1" cy="827.0" r="6.15" fill="#F5C296" stroke="#111" stroke-width="1.9"/>
<circle cx="557.3" cy="831.0" r="6.15" fill="#F5C296" stroke="#111" stroke-width="1.9"/>
<circle cx="486.3" cy="837.9" r="6.15" fill="#F5C296" stroke="#111" stroke-width="1.9"/>
<circle cx="489.5" cy="850.3" r="6.15" fill="#F5C296" stroke="#111" stroke-width="1.9"/>
<circle cx="515.0" cy="845.9" r="6.15" fill="#F5C296" stroke="#111" stroke-width="1.9"/>
<circle cx="587.1" cy="846.6" r="6.15" fill="#F5C296" stroke="#111" stroke-width="1.9"/>
<circle cx="582.0" cy="847.4" r="6.15" fill="#F5C296" stroke="#111" stroke-width="1.9"/>
<circle cx="606.0" cy="842.3" r="6.15" fill="#F5C296" stroke="#111" stroke-width="1.9"/>
<polygon points="508.5,821.6 501.5,835.2 515.5,835.2" fill="#F5C296" stroke="#111" stroke-width="1.8" stroke-linejoin="miter"/>
<polygon points="501.2,823.1 494.2,836.7 508.2,836.7" fill="#F5C296" stroke="#111" stroke-width="1.8" stroke-linejoin="miter"/>
<polygon points="540.5,830.4 533.5,844.0 547.5,844.0" fill="#F5C296" stroke="#111" stroke-width="1.8" stroke-linejoin="miter"/>
<polygon points="528.8,838.4 521.8,852.0 535.8,852.0" fill="#F5C296" stroke="#111" stroke-width="1.8" stroke-linejoin="miter"/>
<polygon points="544.9,839.8 537.9,853.4 551.9,853.4" fill="#F5C296" stroke="#111" stroke-width="1.8" stroke-linejoin="miter"/>
<polygon points="571.8,831.1 564.8,844.7 578.8,844.7" fill="#F5C296" stroke="#111" stroke-width="1.8" stroke-linejoin="miter"/>
<circle cx="627.2" cy="809.9" r="6.15" fill="#78AFBA" stroke="#111" stroke-width="1.9"/>
<circle cx="619.9" cy="844.4" r="6.15" fill="#78AFBA" stroke="#111" stroke-width="1.9"/>
<polygon points="622.1,834.0 615.1,847.6 629.1,847.6" fill="#78AFBA" stroke="#111" stroke-width="1.8" stroke-linejoin="miter"/>
<polygon points="609.0,839.8 602.0,853.4 616.0,853.4" fill="#78AFBA" stroke="#111" stroke-width="1.8" stroke-linejoin="miter"/>
<polygon points="666.1,737.9 659.1,751.5 673.1,751.5" fill="#98AECB" stroke="#111" stroke-width="1.8" stroke-linejoin="miter"/>
<polygon points="671.6,761.9 664.6,775.5 678.6,775.5" fill="#98AECB" stroke="#111" stroke-width="1.8" stroke-linejoin="miter"/>
<polygon points="670.1,769.9 663.1,783.5 677.1,783.5" fill="#98AECB" stroke="#111" stroke-width="1.8" stroke-linejoin="miter"/>
<polygon points="656.0,800.5 649.0,814.1 663.0,814.1" fill="#98AECB" stroke="#111" stroke-width="1.8" stroke-linejoin="miter"/>
<polygon points="653.4,818.0 646.4,831.6 660.4,831.6" fill="#98AECB" stroke="#111" stroke-width="1.8" stroke-linejoin="miter"/>
<polygon points="648.3,831.1 641.3,844.7 655.3,844.7" fill="#98AECB" stroke="#111" stroke-width="1.8" stroke-linejoin="miter"/>
<polygon points="657.8,835.5 650.8,849.1 664.8,849.1" fill="#98AECB" stroke="#111" stroke-width="1.8" stroke-linejoin="miter"/>
<circle cx="498.3" cy="862.7" r="6.15" fill="#F5C296" stroke="#111" stroke-width="1.9"/>
<circle cx="571.8" cy="855.4" r="6.15" fill="#F5C296" stroke="#111" stroke-width="1.9"/>
<circle cx="566.4" cy="882.8" r="6.15" fill="#F5C296" stroke="#111" stroke-width="1.9"/>
<circle cx="550.3" cy="887.1" r="6.15" fill="#F5C296" stroke="#111" stroke-width="1.9"/>
<circle cx="515.0" cy="890.3" r="6.15" fill="#F5C296" stroke="#111" stroke-width="1.9"/>
<circle cx="522.0" cy="895.2" r="6.15" fill="#F5C296" stroke="#111" stroke-width="1.9"/>
<circle cx="485.9" cy="922.8" r="6.15" fill="#F5C296" stroke="#111" stroke-width="1.9"/>
<circle cx="508.5" cy="934.5" r="6.15" fill="#F5C296" stroke="#111" stroke-width="1.9"/>
<circle cx="520.8" cy="964.6" r="6.15" fill="#F5C296" stroke="#111" stroke-width="1.9"/>
<circle cx="514.3" cy="979.6" r="6.15" fill="#F5C296" stroke="#111" stroke-width="1.9"/>
<circle cx="571.8" cy="918.0" r="6.15" fill="#F5C296" stroke="#111" stroke-width="1.9"/>
<circle cx="583.9" cy="914.8" r="6.15" fill="#F5C296" stroke="#111" stroke-width="1.9"/>
<circle cx="601.7" cy="919.5" r="6.15" fill="#F5C296" stroke="#111" stroke-width="1.9"/>
<circle cx="603.1" cy="912.2" r="6.15" fill="#F5C296" stroke="#111" stroke-width="1.9"/>
<circle cx="606.0" cy="921.7" r="6.15" fill="#F5C296" stroke="#111" stroke-width="1.9"/>
<circle cx="594.4" cy="935.2" r="6.15" fill="#F5C296" stroke="#111" stroke-width="1.9"/>
<circle cx="594.4" cy="883.1" r="6.15" fill="#F5C296" stroke="#111" stroke-width="1.9"/>
<circle cx="595.8" cy="894.7" r="6.15" fill="#F5C296" stroke="#111" stroke-width="1.9"/>
<circle cx="611.9" cy="899.8" r="6.15" fill="#F5C296" stroke="#111" stroke-width="1.9"/>
<circle cx="605.0" cy="960.0" r="6.15" fill="#F5C296" stroke="#111" stroke-width="1.9"/>
<circle cx="575.5" cy="983.1" r="6.15" fill="#F5C296" stroke="#111" stroke-width="1.9"/>
<circle cx="597.3" cy="990.1" r="6.15" fill="#F5C296" stroke="#111" stroke-width="1.9"/>
<circle cx="601.2" cy="998.1" r="6.15" fill="#F5C296" stroke="#111" stroke-width="1.9"/>
<circle cx="581.0" cy="1017.8" r="6.15" fill="#F5C296" stroke="#111" stroke-width="1.9"/>
<polygon points="545.6,844.2 538.6,857.8 552.6,857.8" fill="#F5C296" stroke="#111" stroke-width="1.8" stroke-linejoin="miter"/>
<polygon points="604.6,873.4 597.6,887.0 611.6,887.0" fill="#F5C296" stroke="#111" stroke-width="1.8" stroke-linejoin="miter"/>
<polygon points="607.5,874.8 600.5,888.4 614.5,888.4" fill="#F5C296" stroke="#111" stroke-width="1.8" stroke-linejoin="miter"/>
<polygon points="611.1,847.1 604.1,860.7 618.1,860.7" fill="#78AFBA" stroke="#111" stroke-width="1.8" stroke-linejoin="miter"/>
<polygon points="635.9,870.4 628.9,884.0 642.9,884.0" fill="#78AFBA" stroke="#111" stroke-width="1.8" stroke-linejoin="miter"/>
<polygon points="630.8,879.2 623.8,892.8 637.8,892.8" fill="#78AFBA" stroke="#111" stroke-width="1.8" stroke-linejoin="miter"/>
<polygon points="626.4,890.8 619.4,904.4 633.4,904.4" fill="#78AFBA" stroke="#111" stroke-width="1.8" stroke-linejoin="miter"/>
<polygon points="648.3,928.7 641.3,942.3 655.3,942.3" fill="#78AFBA" stroke="#111" stroke-width="1.8" stroke-linejoin="miter"/>
<polygon points="673.0,968.0 666.0,981.6 680.0,981.6" fill="#78AFBA" stroke="#111" stroke-width="1.8" stroke-linejoin="miter"/>
<circle cx="644.6" cy="865.3" r="6.15" fill="#78AFBA" stroke="#111" stroke-width="1.9"/>
<circle cx="625.7" cy="877.2" r="6.15" fill="#78AFBA" stroke="#111" stroke-width="1.9"/>
<circle cx="633.7" cy="906.4" r="6.15" fill="#78AFBA" stroke="#111" stroke-width="1.9"/>
<circle cx="623.5" cy="902.0" r="6.15" fill="#78AFBA" stroke="#111" stroke-width="1.9"/>
<circle cx="614.8" cy="918.3" r="6.15" fill="#78AFBA" stroke="#111" stroke-width="1.9"/>
<circle cx="626.4" cy="917.3" r="6.15" fill="#78AFBA" stroke="#111" stroke-width="1.9"/>
<circle cx="636.6" cy="924.9" r="6.15" fill="#78AFBA" stroke="#111" stroke-width="1.9"/>
<circle cx="624.3" cy="942.5" r="6.15" fill="#78AFBA" stroke="#111" stroke-width="1.9"/>
<circle cx="633.0" cy="942.5" r="6.15" fill="#78AFBA" stroke="#111" stroke-width="1.9"/>
<circle cx="649.7" cy="950.1" r="6.15" fill="#78AFBA" stroke="#111" stroke-width="1.9"/>
<circle cx="631.5" cy="974.5" r="6.15" fill="#78AFBA" stroke="#111" stroke-width="1.9"/>
<circle cx="641.7" cy="974.1" r="6.15" fill="#78AFBA" stroke="#111" stroke-width="1.9"/>
<circle cx="652.7" cy="973.4" r="6.15" fill="#78AFBA" stroke="#111" stroke-width="1.9"/>
<circle cx="646.1" cy="994.5" r="6.15" fill="#78AFBA" stroke="#111" stroke-width="1.9"/>
<circle cx="633.7" cy="1006.9" r="6.15" fill="#78AFBA" stroke="#111" stroke-width="1.9"/>
<circle cx="641.0" cy="1014.2" r="6.15" fill="#78AFBA" stroke="#111" stroke-width="1.9"/>
<circle cx="635.2" cy="1029.4" r="6.15" fill="#78AFBA" stroke="#111" stroke-width="1.9"/>
<circle cx="651.2" cy="961.7" r="6.15" fill="#78AFBA" stroke="#111" stroke-width="1.9"/>
<circle cx="659.9" cy="862.7" r="6.15" fill="#98AECB" stroke="#111" stroke-width="1.9"/>
<circle cx="681.8" cy="866.3" r="6.15" fill="#98AECB" stroke="#111" stroke-width="1.9"/>
<circle cx="676.0" cy="867.0" r="6.15" fill="#98AECB" stroke="#111" stroke-width="1.9"/>
<circle cx="694.9" cy="872.1" r="6.15" fill="#98AECB" stroke="#111" stroke-width="1.9"/>
<circle cx="670.1" cy="872.9" r="6.15" fill="#98AECB" stroke="#111" stroke-width="1.9"/>
<circle cx="651.2" cy="880.2" r="6.15" fill="#98AECB" stroke="#111" stroke-width="1.9"/>
<circle cx="662.8" cy="878.7" r="6.15" fill="#98AECB" stroke="#111" stroke-width="1.9"/>
<circle cx="687.6" cy="880.2" r="6.15" fill="#98AECB" stroke="#111" stroke-width="1.9"/>
<circle cx="693.4" cy="883.1" r="6.15" fill="#98AECB" stroke="#111" stroke-width="1.9"/>
<circle cx="678.9" cy="884.5" r="6.15" fill="#98AECB" stroke="#111" stroke-width="1.9"/>
<circle cx="655.6" cy="890.3" r="6.15" fill="#98AECB" stroke="#111" stroke-width="1.9"/>
<circle cx="667.2" cy="891.8" r="6.15" fill="#98AECB" stroke="#111" stroke-width="1.9"/>
<circle cx="681.8" cy="893.3" r="6.15" fill="#98AECB" stroke="#111" stroke-width="1.9"/>
<circle cx="690.5" cy="890.3" r="6.15" fill="#98AECB" stroke="#111" stroke-width="1.9"/>
<circle cx="674.5" cy="899.1" r="6.15" fill="#98AECB" stroke="#111" stroke-width="1.9"/>
<circle cx="649.7" cy="900.5" r="6.15" fill="#98AECB" stroke="#111" stroke-width="1.9"/>
<circle cx="661.4" cy="903.5" r="6.15" fill="#98AECB" stroke="#111" stroke-width="1.9"/>
<circle cx="677.4" cy="906.4" r="6.15" fill="#98AECB" stroke="#111" stroke-width="1.9"/>
<circle cx="684.7" cy="900.5" r="6.15" fill="#98AECB" stroke="#111" stroke-width="1.9"/>
<circle cx="667.2" cy="910.7" r="6.15" fill="#98AECB" stroke="#111" stroke-width="1.9"/>
<circle cx="674.5" cy="915.1" r="6.15" fill="#98AECB" stroke="#111" stroke-width="1.9"/>
<circle cx="657.0" cy="916.6" r="6.15" fill="#98AECB" stroke="#111" stroke-width="1.9"/>
<circle cx="678.9" cy="926.8" r="6.15" fill="#98AECB" stroke="#111" stroke-width="1.9"/>
<circle cx="658.5" cy="928.2" r="6.15" fill="#98AECB" stroke="#111" stroke-width="1.9"/>
<circle cx="670.1" cy="937.0" r="6.15" fill="#98AECB" stroke="#111" stroke-width="1.9"/>
<circle cx="667.2" cy="942.8" r="6.15" fill="#98AECB" stroke="#111" stroke-width="1.9"/>
<circle cx="657.0" cy="939.9" r="6.15" fill="#98AECB" stroke="#111" stroke-width="1.9"/>
<circle cx="667.9" cy="964.6" r="6.15" fill="#98AECB" stroke="#111" stroke-width="1.9"/>
<circle cx="661.4" cy="986.5" r="6.15" fill="#98AECB" stroke="#111" stroke-width="1.9"/>
<circle cx="657.0" cy="996.7" r="6.15" fill="#98AECB" stroke="#111" stroke-width="1.9"/>
<circle cx="655.6" cy="1004.7" r="6.15" fill="#98AECB" stroke="#111" stroke-width="1.9"/>
<circle cx="658.5" cy="1014.9" r="6.15" fill="#98AECB" stroke="#111" stroke-width="1.9"/>
<circle cx="655.6" cy="1022.9" r="6.15" fill="#98AECB" stroke="#111" stroke-width="1.9"/>
<circle cx="662.8" cy="1024.3" r="6.15" fill="#98AECB" stroke="#111" stroke-width="1.9"/>
<circle cx="661.4" cy="1031.6" r="6.15" fill="#98AECB" stroke="#111" stroke-width="1.9"/>
<circle cx="667.2" cy="980.7" r="6.15" fill="#98AECB" stroke="#111" stroke-width="1.9"/>
<polygon points="693.4,885.0 686.4,898.6 700.4,898.6" fill="#98AECB" stroke="#111" stroke-width="1.8" stroke-linejoin="miter"/>
<polygon points="673.0,920.0 666.0,933.6 680.0,933.6" fill="#98AECB" stroke="#111" stroke-width="1.8" stroke-linejoin="miter"/>
<polygon points="649.7,917.0 642.7,930.6 656.7,930.6" fill="#98AECB" stroke="#111" stroke-width="1.8" stroke-linejoin="miter"/>
<polygon points="664.3,946.2 657.3,959.8 671.3,959.8" fill="#98AECB" stroke="#111" stroke-width="1.8" stroke-linejoin="miter"/>
<polygon points="661.4,966.6 654.4,980.2 668.4,980.2" fill="#98AECB" stroke="#111" stroke-width="1.8" stroke-linejoin="miter"/>
<circle cx="623.2" cy="1102.3" r="6.15" fill="#78AFBA" stroke="#111" stroke-width="1.9"/>
<circle cx="640.7" cy="1173.2" r="6.15" fill="#78AFBA" stroke="#111" stroke-width="1.9"/>
<circle cx="662.1" cy="1033.1" r="6.15" fill="#78AFBA" stroke="#111" stroke-width="1.9"/>
<circle cx="654.1" cy="1041.1" r="6.15" fill="#98AECB" stroke="#111" stroke-width="1.9"/>
<circle cx="646.8" cy="1044.8" r="6.15" fill="#98AECB" stroke="#111" stroke-width="1.9"/>
<circle cx="649.7" cy="1053.5" r="6.15" fill="#98AECB" stroke="#111" stroke-width="1.9"/>
<circle cx="657.0" cy="1057.1" r="6.15" fill="#98AECB" stroke="#111" stroke-width="1.9"/>
<circle cx="665.0" cy="1061.9" r="6.15" fill="#98AECB" stroke="#111" stroke-width="1.9"/>
<circle cx="646.8" cy="1065.2" r="6.15" fill="#98AECB" stroke="#111" stroke-width="1.9"/>
<circle cx="654.1" cy="1071.0" r="6.15" fill="#98AECB" stroke="#111" stroke-width="1.9"/>
<circle cx="677.0" cy="1053.2" r="6.15" fill="#98AECB" stroke="#111" stroke-width="1.9"/>
<circle cx="643.9" cy="1102.6" r="6.15" fill="#98AECB" stroke="#111" stroke-width="1.9"/>
<circle cx="655.6" cy="1063.7" r="6.15" fill="#98AECB" stroke="#111" stroke-width="1.9"/>
<line x1="661.1" y1="662" x2="661.1" y2="1197" stroke="#1E9F5A" stroke-width="2.2" stroke-dasharray="8.6 9.8"/>
<path d="M189.9 693.7 L655.5 948.0" fill="none" stroke="#000" stroke-width="2.1"/>
<path d="M191.3 725.0 C200.7 729.9 228.3 744.3 247.4 754.1 C266.4 763.9 286.2 775.1 305.6 784.0 C325.0 792.9 344.5 799.5 363.9 807.3 C383.3 815.1 404.0 824.0 422.2 830.6 C440.4 837.2 460.4 843.0 473.1 846.6 C485.8 850.2 484.4 849.8 498.3 852.5 C512.2 855.2 542.0 859.3 556.5 862.7 C571.0 866.1 577.1 868.0 585.6 872.9 C594.1 877.8 601.4 885.0 607.5 891.8 C613.6 898.6 617.2 906.1 622.1 913.6 C627.0 921.1 632.5 930.4 636.6 937.0 C640.7 943.6 643.6 949.4 646.8 953.0 C650.0 956.6 653.2 960.0 655.6 958.8 C658.0 957.6 659.5 954.2 661.4 945.7 C663.3 937.2 664.8 917.0 667.2 907.8 C669.6 898.6 672.1 894.7 676.0 890.3 C679.9 885.9 688.1 883.0 690.5 881.6" fill="none" stroke="#F0602F" stroke-width="2.6" stroke-dasharray="4.5 7.5 15.5 7.5"/>
<text transform="translate(666.2 1136.9) scale(0.95 1)" font-size="33" text-anchor="start" fill="#CC0000">33.99</text>
</g>
<g id="panel-e">
<path d="M888.5 653V1198H1474.6" fill="none" stroke="#000" stroke-width="2.3" stroke-linejoin="miter"/>
<path d="M915.5 1198v6.2M1048.6 1198v6.2M1181.8 1198v6.2M1315.1 1198v6.2M1448.5 1198v6.2M888.5 694.5h-6.2M888.5 871h-6.2M888.5 1047.5h-6.2" fill="none" stroke="#000" stroke-width="1.6"/>
<text transform="translate(916.8 1233.6) scale(0.908 1)" font-size="34.5" text-anchor="middle" fill="#000">25.0</text>
<text transform="translate(1046.7 1233.6) scale(0.908 1)" font-size="34.5" text-anchor="middle" fill="#000">27.5</text>
<text transform="translate(1178.0 1233.6) scale(0.908 1)" font-size="34.5" text-anchor="middle" fill="#000">30.0</text>
<text transform="translate(1315.6 1233.6) scale(0.908 1)" font-size="34.5" text-anchor="middle" fill="#000">32.5</text>
<text transform="translate(1443.3 1233.6) scale(0.908 1)" font-size="34.5" text-anchor="middle" fill="#000">35.0</text>
<text transform="translate(873.7 703.4) scale(0.908 1)" font-size="34.5" text-anchor="end" fill="#000">1</text>
<text transform="translate(873.7 879.9) scale(0.908 1)" font-size="34.5" text-anchor="end" fill="#000">0</text>
<text transform="translate(878.9 1056.4) scale(0.908 1)" font-size="34.5" text-anchor="end" fill="#000">−1</text>
<text transform="translate(787.6 897.1) rotate(-90) scale(0.9288 1)" font-size="42" text-anchor="middle" fill="#000">Chl-a</text>
<text transform="translate(825.6 914.7) rotate(-90) scale(0.941 1)" font-size="33" text-anchor="middle" fill="#000">(log−transformed, μg L<tspan dy="-10">-1</tspan><tspan dy="10">)</tspan></text>
<text transform="translate(770.0 682.0) scale(0.98 1)" font-size="40" text-anchor="start" fill="#000">(e)</text>
<circle cx="1409.0" cy="742.1" r="6.15" fill="#98AECB" stroke="#111" stroke-width="1.9"/>
<circle cx="1360.5" cy="1013.0" r="6.15" fill="#78AFBA" stroke="#111" stroke-width="1.9"/>
<circle cx="1406.3" cy="1035.2" r="6.15" fill="#98AECB" stroke="#111" stroke-width="1.9"/>
<circle cx="1406.4" cy="938.9" r="6.15" fill="#98AECB" stroke="#111" stroke-width="1.9"/>
<circle cx="1410.2" cy="1086.0" r="6.15" fill="#98AECB" stroke="#111" stroke-width="1.9"/>
<circle cx="1354.5" cy="973.9" r="6.15" fill="#78AFBA" stroke="#111" stroke-width="1.9"/>
<circle cx="1397.6" cy="1088.1" r="6.15" fill="#98AECB" stroke="#111" stroke-width="1.9"/>
<circle cx="1404.3" cy="847.1" r="6.15" fill="#98AECB" stroke="#111" stroke-width="1.9"/>
<circle cx="1372.1" cy="948.5" r="6.15" fill="#78AFBA" stroke="#111" stroke-width="1.9"/>
<polygon points="1407.4,829.0 1400.4,842.6 1414.4,842.6" fill="#98AECB" stroke="#111" stroke-width="1.8" stroke-linejoin="miter"/>
<circle cx="1407.1" cy="1014.9" r="6.15" fill="#98AECB" stroke="#111" stroke-width="1.9"/>
<circle cx="1413.1" cy="743.5" r="6.15" fill="#98AECB" stroke="#111" stroke-width="1.9"/>
<circle cx="1409.2" cy="1029.2" r="6.15" fill="#98AECB" stroke="#111" stroke-width="1.9"/>
<circle cx="1387.3" cy="960.6" r="6.15" fill="#98AECB" stroke="#111" stroke-width="1.9"/>
<circle cx="1410.8" cy="1108.7" r="6.15" fill="#98AECB" stroke="#111" stroke-width="1.9"/>
<circle cx="1375.9" cy="1055.5" r="6.15" fill="#78AFBA" stroke="#111" stroke-width="1.9"/>
<circle cx="1400.1" cy="789.6" r="6.15" fill="#98AECB" stroke="#111" stroke-width="1.9"/>
<circle cx="1405.8" cy="1093.3" r="6.15" fill="#98AECB" stroke="#111" stroke-width="1.9"/>
<circle cx="1427.5" cy="1080.8" r="6.15" fill="#98AECB" stroke="#111" stroke-width="1.9"/>
<circle cx="1401.3" cy="985.4" r="6.15" fill="#98AECB" stroke="#111" stroke-width="1.9"/>
<circle cx="1404.1" cy="894.2" r="6.15" fill="#98AECB" stroke="#111" stroke-width="1.9"/>
<circle cx="1392.6" cy="822.1" r="6.15" fill="#98AECB" stroke="#111" stroke-width="1.9"/>
<circle cx="1403.6" cy="1108.4" r="6.15" fill="#98AECB" stroke="#111" stroke-width="1.9"/>
<circle cx="1413.4" cy="821.4" r="6.15" fill="#98AECB" stroke="#111" stroke-width="1.9"/>
<circle cx="1359.5" cy="1021.6" r="6.15" fill="#78AFBA" stroke="#111" stroke-width="1.9"/>
<circle cx="1397.0" cy="850.8" r="6.15" fill="#98AECB" stroke="#111" stroke-width="1.9"/>
<circle cx="1387.9" cy="887.9" r="6.15" fill="#98AECB" stroke="#111" stroke-width="1.9"/>
<circle cx="1354.7" cy="1047.1" r="6.15" fill="#78AFBA" stroke="#111" stroke-width="1.9"/>
<circle cx="1405.6" cy="997.8" r="6.15" fill="#98AECB" stroke="#111" stroke-width="1.9"/>
<circle cx="1349.1" cy="920.9" r="6.15" fill="#78AFBA" stroke="#111" stroke-width="1.9"/>
<circle cx="1416.2" cy="1025.5" r="6.15" fill="#98AECB" stroke="#111" stroke-width="1.9"/>
<circle cx="1407.5" cy="891.6" r="6.15" fill="#98AECB" stroke="#111" stroke-width="1.9"/>
<circle cx="1416.7" cy="821.4" r="6.15" fill="#98AECB" stroke="#111" stroke-width="1.9"/>
<circle cx="1372.8" cy="1008.8" r="6.15" fill="#78AFBA" stroke="#111" stroke-width="1.9"/>
<circle cx="1407.8" cy="1075.9" r="6.15" fill="#98AECB" stroke="#111" stroke-width="1.9"/>
<circle cx="1422.5" cy="1114.6" r="6.15" fill="#98AECB" stroke="#111" stroke-width="1.9"/>
<circle cx="1378.8" cy="919.0" r="6.15" fill="#78AFBA" stroke="#111" stroke-width="1.9"/>
<circle cx="1411.9" cy="898.3" r="6.15" fill="#98AECB" stroke="#111" stroke-width="1.9"/>
<circle cx="1371.1" cy="852.8" r="6.15" fill="#78AFBA" stroke="#111" stroke-width="1.9"/>
<circle cx="1402.0" cy="754.8" r="6.15" fill="#98AECB" stroke="#111" stroke-width="1.9"/>
<circle cx="1392.9" cy="809.6" r="6.15" fill="#98AECB" stroke="#111" stroke-width="1.9"/>
<polygon points="1408.8,979.6 1401.8,993.2 1415.8,993.2" fill="#98AECB" stroke="#111" stroke-width="1.8" stroke-linejoin="miter"/>
<circle cx="1404.5" cy="963.6" r="6.15" fill="#98AECB" stroke="#111" stroke-width="1.9"/>
<circle cx="1398.3" cy="821.1" r="6.15" fill="#98AECB" stroke="#111" stroke-width="1.9"/>
<polygon points="1394.6,878.8 1387.6,892.4 1401.6,892.4" fill="#98AECB" stroke="#111" stroke-width="1.8" stroke-linejoin="miter"/>
<circle cx="1395.9" cy="745.8" r="6.15" fill="#98AECB" stroke="#111" stroke-width="1.9"/>
<circle cx="1382.7" cy="967.2" r="6.15" fill="#98AECB" stroke="#111" stroke-width="1.9"/>
<circle cx="1399.2" cy="746.3" r="6.15" fill="#98AECB" stroke="#111" stroke-width="1.9"/>
<circle cx="1400.2" cy="840.9" r="6.15" fill="#98AECB" stroke="#111" stroke-width="1.9"/>
<circle cx="1361.1" cy="1033.8" r="6.15" fill="#78AFBA" stroke="#111" stroke-width="1.9"/>
<circle cx="1410.3" cy="810.8" r="6.15" fill="#98AECB" stroke="#111" stroke-width="1.9"/>
<circle cx="1406.2" cy="1058.4" r="6.15" fill="#98AECB" stroke="#111" stroke-width="1.9"/>
<circle cx="1392.1" cy="765.6" r="6.15" fill="#98AECB" stroke="#111" stroke-width="1.9"/>
<circle cx="1365.2" cy="887.7" r="6.15" fill="#78AFBA" stroke="#111" stroke-width="1.9"/>
<circle cx="1399.2" cy="1006.6" r="6.15" fill="#98AECB" stroke="#111" stroke-width="1.9"/>
<circle cx="1387.0" cy="800.7" r="6.15" fill="#98AECB" stroke="#111" stroke-width="1.9"/>
<circle cx="1405.3" cy="957.5" r="6.15" fill="#98AECB" stroke="#111" stroke-width="1.9"/>
<circle cx="1410.6" cy="979.4" r="6.15" fill="#98AECB" stroke="#111" stroke-width="1.9"/>
<circle cx="1364.8" cy="996.5" r="6.15" fill="#78AFBA" stroke="#111" stroke-width="1.9"/>
<circle cx="1366.4" cy="852.3" r="6.15" fill="#78AFBA" stroke="#111" stroke-width="1.9"/>
<circle cx="1393.5" cy="929.7" r="6.15" fill="#98AECB" stroke="#111" stroke-width="1.9"/>
<circle cx="1414.2" cy="973.4" r="6.15" fill="#98AECB" stroke="#111" stroke-width="1.9"/>
<circle cx="1416.1" cy="1017.9" r="6.15" fill="#98AECB" stroke="#111" stroke-width="1.9"/>
<circle cx="1406.2" cy="1087.8" r="6.15" fill="#98AECB" stroke="#111" stroke-width="1.9"/>
<circle cx="1360.7" cy="939.6" r="6.15" fill="#78AFBA" stroke="#111" stroke-width="1.9"/>
<circle cx="1367.3" cy="994.7" r="6.15" fill="#78AFBA" stroke="#111" stroke-width="1.9"/>
<circle cx="1401.7" cy="1019.5" r="6.15" fill="#98AECB" stroke="#111" stroke-width="1.9"/>
<circle cx="1407.0" cy="1043.5" r="6.15" fill="#98AECB" stroke="#111" stroke-width="1.9"/>
<circle cx="1390.1" cy="843.0" r="6.15" fill="#98AECB" stroke="#111" stroke-width="1.9"/>
<circle cx="1410.1" cy="746.0" r="6.15" fill="#98AECB" stroke="#111" stroke-width="1.9"/>
<circle cx="1362.2" cy="928.1" r="6.15" fill="#78AFBA" stroke="#111" stroke-width="1.9"/>
<circle cx="1417.5" cy="1085.0" r="6.15" fill="#98AECB" stroke="#111" stroke-width="1.9"/>
<circle cx="1405.7" cy="903.4" r="6.15" fill="#98AECB" stroke="#111" stroke-width="1.9"/>
<circle cx="1361.6" cy="1056.4" r="6.15" fill="#78AFBA" stroke="#111" stroke-width="1.9"/>
<circle cx="1387.4" cy="753.8" r="6.15" fill="#98AECB" stroke="#111" stroke-width="1.9"/>
<polygon points="1399.0,930.0 1392.0,943.6 1406.0,943.6" fill="#98AECB" stroke="#111" stroke-width="1.8" stroke-linejoin="miter"/>
<circle cx="1414.8" cy="1100.2" r="6.15" fill="#98AECB" stroke="#111" stroke-width="1.9"/>
<circle cx="1407.6" cy="1020.1" r="6.15" fill="#98AECB" stroke="#111" stroke-width="1.9"/>
<circle cx="1363.8" cy="901.1" r="6.15" fill="#78AFBA" stroke="#111" stroke-width="1.9"/>
<circle cx="1358.1" cy="997.7" r="6.15" fill="#78AFBA" stroke="#111" stroke-width="1.9"/>
<circle cx="1361.6" cy="995.9" r="6.15" fill="#78AFBA" stroke="#111" stroke-width="1.9"/>
<circle cx="1411.8" cy="1026.8" r="6.15" fill="#98AECB" stroke="#111" stroke-width="1.9"/>
<circle cx="1355.1" cy="906.3" r="6.15" fill="#78AFBA" stroke="#111" stroke-width="1.9"/>
<circle cx="1388.2" cy="803.7" r="6.15" fill="#98AECB" stroke="#111" stroke-width="1.9"/>
<circle cx="1354.6" cy="900.2" r="6.15" fill="#78AFBA" stroke="#111" stroke-width="1.9"/>
<circle cx="1413.2" cy="1050.9" r="6.15" fill="#98AECB" stroke="#111" stroke-width="1.9"/>
<circle cx="1360.3" cy="955.2" r="6.15" fill="#78AFBA" stroke="#111" stroke-width="1.9"/>
<circle cx="1367.6" cy="951.7" r="6.15" fill="#78AFBA" stroke="#111" stroke-width="1.9"/>
<circle cx="1418.9" cy="1050.7" r="6.15" fill="#98AECB" stroke="#111" stroke-width="1.9"/>
<circle cx="1396.1" cy="831.7" r="6.15" fill="#98AECB" stroke="#111" stroke-width="1.9"/>
<circle cx="1418.4" cy="855.5" r="6.15" fill="#98AECB" stroke="#111" stroke-width="1.9"/>
<circle cx="1401.9" cy="780.2" r="6.15" fill="#98AECB" stroke="#111" stroke-width="1.9"/>
<circle cx="1369.0" cy="1008.2" r="6.15" fill="#78AFBA" stroke="#111" stroke-width="1.9"/>
<circle cx="1390.4" cy="825.7" r="6.15" fill="#98AECB" stroke="#111" stroke-width="1.9"/>
<circle cx="1390.6" cy="746.1" r="6.15" fill="#98AECB" stroke="#111" stroke-width="1.9"/>
<circle cx="1411.9" cy="1077.4" r="6.15" fill="#98AECB" stroke="#111" stroke-width="1.9"/>
<circle cx="1411.6" cy="952.8" r="6.15" fill="#98AECB" stroke="#111" stroke-width="1.9"/>
<circle cx="1344.5" cy="867.2" r="6.15" fill="#78AFBA" stroke="#111" stroke-width="1.9"/>
<circle cx="1406.3" cy="878.2" r="6.15" fill="#98AECB" stroke="#111" stroke-width="1.9"/>
<circle cx="1364.9" cy="1052.8" r="6.15" fill="#78AFBA" stroke="#111" stroke-width="1.9"/>
<circle cx="1413.3" cy="1046.6" r="6.15" fill="#98AECB" stroke="#111" stroke-width="1.9"/>
<circle cx="1349.4" cy="993.7" r="6.15" fill="#78AFBA" stroke="#111" stroke-width="1.9"/>
<circle cx="1359.4" cy="1018.9" r="6.15" fill="#78AFBA" stroke="#111" stroke-width="1.9"/>
<circle cx="1410.2" cy="1042.6" r="6.15" fill="#98AECB" stroke="#111" stroke-width="1.9"/>
<circle cx="1409.1" cy="805.8" r="6.15" fill="#98AECB" stroke="#111" stroke-width="1.9"/>
<circle cx="1418.9" cy="1108.5" r="6.15" fill="#98AECB" stroke="#111" stroke-width="1.9"/>
<circle cx="1394.6" cy="971.0" r="6.15" fill="#98AECB" stroke="#111" stroke-width="1.9"/>
<circle cx="1419.0" cy="1070.7" r="6.15" fill="#98AECB" stroke="#111" stroke-width="1.9"/>
<circle cx="1393.0" cy="953.7" r="6.15" fill="#98AECB" stroke="#111" stroke-width="1.9"/>
<circle cx="1416.3" cy="1070.0" r="6.15" fill="#98AECB" stroke="#111" stroke-width="1.9"/>
<circle cx="1410.0" cy="1015.2" r="6.15" fill="#98AECB" stroke="#111" stroke-width="1.9"/>
<circle cx="1408.6" cy="1112.2" r="6.15" fill="#98AECB" stroke="#111" stroke-width="1.9"/>
<circle cx="1402.2" cy="909.6" r="6.15" fill="#98AECB" stroke="#111" stroke-width="1.9"/>
<circle cx="1400.8" cy="886.3" r="6.15" fill="#98AECB" stroke="#111" stroke-width="1.9"/>
<circle cx="1404.5" cy="953.6" r="6.15" fill="#98AECB" stroke="#111" stroke-width="1.9"/>
<circle cx="1399.8" cy="1048.5" r="6.15" fill="#98AECB" stroke="#111" stroke-width="1.9"/>
<circle cx="1397.9" cy="750.7" r="6.15" fill="#98AECB" stroke="#111" stroke-width="1.9"/>
<circle cx="1409.5" cy="825.7" r="6.15" fill="#98AECB" stroke="#111" stroke-width="1.9"/>
<circle cx="1421.1" cy="1056.2" r="6.15" fill="#98AECB" stroke="#111" stroke-width="1.9"/>
<circle cx="1408.7" cy="913.7" r="6.15" fill="#98AECB" stroke="#111" stroke-width="1.9"/>
<circle cx="1388.1" cy="839.9" r="6.15" fill="#98AECB" stroke="#111" stroke-width="1.9"/>
<circle cx="1398.4" cy="800.5" r="6.15" fill="#98AECB" stroke="#111" stroke-width="1.9"/>
<circle cx="1410.0" cy="853.0" r="6.15" fill="#98AECB" stroke="#111" stroke-width="1.9"/>
<circle cx="1366.7" cy="972.0" r="6.15" fill="#78AFBA" stroke="#111" stroke-width="1.9"/>
<circle cx="1411.1" cy="1039.6" r="6.15" fill="#98AECB" stroke="#111" stroke-width="1.9"/>
<circle cx="1404.7" cy="920.4" r="6.15" fill="#98AECB" stroke="#111" stroke-width="1.9"/>
<circle cx="1366.6" cy="1045.5" r="6.15" fill="#78AFBA" stroke="#111" stroke-width="1.9"/>
<circle cx="1405.1" cy="1009.9" r="6.15" fill="#98AECB" stroke="#111" stroke-width="1.9"/>
<circle cx="1401.7" cy="826.1" r="6.15" fill="#98AECB" stroke="#111" stroke-width="1.9"/>
<circle cx="1367.7" cy="982.5" r="6.15" fill="#78AFBA" stroke="#111" stroke-width="1.9"/>
<polygon points="1387.8,829.4 1380.8,843.0 1394.8,843.0" fill="#98AECB" stroke="#111" stroke-width="1.8" stroke-linejoin="miter"/>
<circle cx="1409.8" cy="1049.0" r="6.15" fill="#98AECB" stroke="#111" stroke-width="1.9"/>
<circle cx="1388.2" cy="747.9" r="6.15" fill="#98AECB" stroke="#111" stroke-width="1.9"/>
<circle cx="1386.5" cy="809.9" r="6.15" fill="#98AECB" stroke="#111" stroke-width="1.9"/>
<circle cx="1361.2" cy="965.0" r="6.15" fill="#78AFBA" stroke="#111" stroke-width="1.9"/>
<circle cx="1419.0" cy="1103.5" r="6.15" fill="#98AECB" stroke="#111" stroke-width="1.9"/>
<circle cx="1395.6" cy="1015.3" r="6.15" fill="#98AECB" stroke="#111" stroke-width="1.9"/>
<circle cx="1396.8" cy="754.2" r="6.15" fill="#98AECB" stroke="#111" stroke-width="1.9"/>
<circle cx="1401.0" cy="759.6" r="6.15" fill="#98AECB" stroke="#111" stroke-width="1.9"/>
<circle cx="1367.3" cy="958.6" r="6.15" fill="#78AFBA" stroke="#111" stroke-width="1.9"/>
<circle cx="1389.8" cy="922.2" r="6.15" fill="#98AECB" stroke="#111" stroke-width="1.9"/>
<circle cx="1409.8" cy="1052.5" r="6.15" fill="#98AECB" stroke="#111" stroke-width="1.9"/>
<circle cx="1358.5" cy="898.4" r="6.15" fill="#78AFBA" stroke="#111" stroke-width="1.9"/>
<circle cx="1413.0" cy="1095.8" r="6.15" fill="#98AECB" stroke="#111" stroke-width="1.9"/>
<circle cx="1401.2" cy="744.1" r="6.15" fill="#98AECB" stroke="#111" stroke-width="1.9"/>
<circle cx="1408.5" cy="833.2" r="6.15" fill="#98AECB" stroke="#111" stroke-width="1.9"/>
<circle cx="1399.5" cy="925.0" r="6.15" fill="#98AECB" stroke="#111" stroke-width="1.9"/>
<circle cx="1413.4" cy="1105.5" r="6.15" fill="#98AECB" stroke="#111" stroke-width="1.9"/>
<circle cx="1372.7" cy="1038.0" r="6.15" fill="#78AFBA" stroke="#111" stroke-width="1.9"/>
<circle cx="1398.9" cy="1000.8" r="6.15" fill="#98AECB" stroke="#111" stroke-width="1.9"/>
<circle cx="1375.8" cy="969.3" r="6.15" fill="#78AFBA" stroke="#111" stroke-width="1.9"/>
<circle cx="1399.6" cy="763.5" r="6.15" fill="#98AECB" stroke="#111" stroke-width="1.9"/>
<circle cx="1377.6" cy="959.3" r="6.15" fill="#78AFBA" stroke="#111" stroke-width="1.9"/>
<circle cx="1402.7" cy="822.8" r="6.15" fill="#98AECB" stroke="#111" stroke-width="1.9"/>
<circle cx="1407.5" cy="952.6" r="6.15" fill="#98AECB" stroke="#111" stroke-width="1.9"/>
<circle cx="1367.4" cy="991.0" r="6.15" fill="#78AFBA" stroke="#111" stroke-width="1.9"/>
<circle cx="1358.3" cy="880.7" r="6.15" fill="#78AFBA" stroke="#111" stroke-width="1.9"/>
<circle cx="1396.9" cy="916.8" r="6.15" fill="#98AECB" stroke="#111" stroke-width="1.9"/>
<circle cx="1393.6" cy="746.8" r="6.15" fill="#98AECB" stroke="#111" stroke-width="1.9"/>
<circle cx="1390.9" cy="818.9" r="6.15" fill="#98AECB" stroke="#111" stroke-width="1.9"/>
<circle cx="1360.5" cy="893.8" r="6.15" fill="#78AFBA" stroke="#111" stroke-width="1.9"/>
<circle cx="1404.2" cy="991.6" r="6.15" fill="#98AECB" stroke="#111" stroke-width="1.9"/>
<circle cx="1355.7" cy="877.0" r="6.15" fill="#78AFBA" stroke="#111" stroke-width="1.9"/>
<circle cx="1426.6" cy="1109.1" r="6.15" fill="#98AECB" stroke="#111" stroke-width="1.9"/>
<circle cx="1348.5" cy="905.7" r="6.15" fill="#78AFBA" stroke="#111" stroke-width="1.9"/>
<circle cx="1374.0" cy="945.2" r="6.15" fill="#78AFBA" stroke="#111" stroke-width="1.9"/>
<polygon points="1395.8,912.6 1388.8,926.2 1402.8,926.2" fill="#98AECB" stroke="#111" stroke-width="1.8" stroke-linejoin="miter"/>
<circle cx="1416.1" cy="1048.6" r="6.15" fill="#98AECB" stroke="#111" stroke-width="1.9"/>
<circle cx="1413.4" cy="843.1" r="6.15" fill="#98AECB" stroke="#111" stroke-width="1.9"/>
<circle cx="1398.2" cy="775.6" r="6.15" fill="#98AECB" stroke="#111" stroke-width="1.9"/>
<circle cx="1401.8" cy="859.1" r="6.15" fill="#98AECB" stroke="#111" stroke-width="1.9"/>
<circle cx="1418.2" cy="892.0" r="6.15" fill="#98AECB" stroke="#111" stroke-width="1.9"/>
<circle cx="1397.6" cy="990.3" r="6.15" fill="#98AECB" stroke="#111" stroke-width="1.9"/>
<polygon points="1402.6,917.7 1395.6,931.3 1409.6,931.3" fill="#98AECB" stroke="#111" stroke-width="1.8" stroke-linejoin="miter"/>
<circle cx="1398.2" cy="845.9" r="6.15" fill="#98AECB" stroke="#111" stroke-width="1.9"/>
<circle cx="1412.7" cy="923.2" r="6.15" fill="#98AECB" stroke="#111" stroke-width="1.9"/>
<circle cx="1350.9" cy="966.6" r="6.15" fill="#78AFBA" stroke="#111" stroke-width="1.9"/>
<circle cx="1369.6" cy="1043.8" r="6.15" fill="#78AFBA" stroke="#111" stroke-width="1.9"/>
<polygon points="1411.5,925.5 1404.5,939.1 1418.5,939.1" fill="#98AECB" stroke="#111" stroke-width="1.8" stroke-linejoin="miter"/>
<polygon points="1396.8,830.2 1389.8,843.8 1403.8,843.8" fill="#98AECB" stroke="#111" stroke-width="1.8" stroke-linejoin="miter"/>
<circle cx="1407.7" cy="1023.2" r="6.15" fill="#98AECB" stroke="#111" stroke-width="1.9"/>
<circle cx="1396.1" cy="840.6" r="6.15" fill="#98AECB" stroke="#111" stroke-width="1.9"/>
<circle cx="1359.3" cy="874.5" r="6.15" fill="#78AFBA" stroke="#111" stroke-width="1.9"/>
<circle cx="1363.6" cy="960.8" r="6.15" fill="#78AFBA" stroke="#111" stroke-width="1.9"/>
<circle cx="1414.7" cy="1085.6" r="6.15" fill="#98AECB" stroke="#111" stroke-width="1.9"/>
<circle cx="1348.1" cy="978.1" r="6.15" fill="#78AFBA" stroke="#111" stroke-width="1.9"/>
<circle cx="1393.5" cy="826.7" r="6.15" fill="#98AECB" stroke="#111" stroke-width="1.9"/>
<circle cx="1402.8" cy="950.0" r="6.15" fill="#98AECB" stroke="#111" stroke-width="1.9"/>
<circle cx="1360.4" cy="1016.5" r="6.15" fill="#78AFBA" stroke="#111" stroke-width="1.9"/>
<circle cx="1398.3" cy="874.9" r="6.15" fill="#98AECB" stroke="#111" stroke-width="1.9"/>
<circle cx="1354.2" cy="890.4" r="6.15" fill="#78AFBA" stroke="#111" stroke-width="1.9"/>
<circle cx="1351.8" cy="935.3" r="6.15" fill="#78AFBA" stroke="#111" stroke-width="1.9"/>
<circle cx="1360.7" cy="1039.0" r="6.15" fill="#78AFBA" stroke="#111" stroke-width="1.9"/>
<circle cx="1429.0" cy="1100.6" r="6.15" fill="#98AECB" stroke="#111" stroke-width="1.9"/>
<circle cx="1400.1" cy="804.3" r="6.15" fill="#98AECB" stroke="#111" stroke-width="1.9"/>
<circle cx="1393.0" cy="752.6" r="6.15" fill="#98AECB" stroke="#111" stroke-width="1.9"/>
<circle cx="1370.7" cy="937.4" r="6.15" fill="#78AFBA" stroke="#111" stroke-width="1.9"/>
<circle cx="1362.2" cy="1046.4" r="6.15" fill="#78AFBA" stroke="#111" stroke-width="1.9"/>
<circle cx="1367.3" cy="919.2" r="6.15" fill="#78AFBA" stroke="#111" stroke-width="1.9"/>
<circle cx="1410.4" cy="1034.5" r="6.15" fill="#98AECB" stroke="#111" stroke-width="1.9"/>
<circle cx="1394.1" cy="882.6" r="6.15" fill="#98AECB" stroke="#111" stroke-width="1.9"/>
<polygon points="1415.0,790.6 1408.0,804.2 1422.0,804.2" fill="#98AECB" stroke="#111" stroke-width="1.8" stroke-linejoin="miter"/>
<circle cx="1405.0" cy="985.8" r="6.15" fill="#98AECB" stroke="#111" stroke-width="1.9"/>
<circle cx="1407.7" cy="904.9" r="6.15" fill="#98AECB" stroke="#111" stroke-width="1.9"/>
<circle cx="1351.4" cy="879.9" r="6.15" fill="#78AFBA" stroke="#111" stroke-width="1.9"/>
<circle cx="1413.1" cy="966.5" r="6.15" fill="#98AECB" stroke="#111" stroke-width="1.9"/>
<circle cx="1397.9" cy="998.2" r="6.15" fill="#98AECB" stroke="#111" stroke-width="1.9"/>
<circle cx="1372.5" cy="1051.6" r="6.15" fill="#78AFBA" stroke="#111" stroke-width="1.9"/>
<circle cx="1415.2" cy="975.8" r="6.15" fill="#98AECB" stroke="#111" stroke-width="1.9"/>
<circle cx="1406.0" cy="1028.0" r="6.15" fill="#98AECB" stroke="#111" stroke-width="1.9"/>
<circle cx="1413.6" cy="1109.6" r="6.15" fill="#98AECB" stroke="#111" stroke-width="1.9"/>
<circle cx="1426.3" cy="1094.3" r="6.15" fill="#98AECB" stroke="#111" stroke-width="1.9"/>
<circle cx="1366.7" cy="883.0" r="6.15" fill="#78AFBA" stroke="#111" stroke-width="1.9"/>
<circle cx="1394.0" cy="1027.2" r="6.15" fill="#98AECB" stroke="#111" stroke-width="1.9"/>
<circle cx="1403.8" cy="1004.3" r="6.15" fill="#98AECB" stroke="#111" stroke-width="1.9"/>
<circle cx="1346.6" cy="955.9" r="6.15" fill="#78AFBA" stroke="#111" stroke-width="1.9"/>
<circle cx="1365.8" cy="938.3" r="6.15" fill="#78AFBA" stroke="#111" stroke-width="1.9"/>
<circle cx="1399.2" cy="906.9" r="6.15" fill="#98AECB" stroke="#111" stroke-width="1.9"/>
<circle cx="1393.1" cy="814.4" r="6.15" fill="#98AECB" stroke="#111" stroke-width="1.9"/>
<circle cx="1418.4" cy="1044.0" r="6.15" fill="#98AECB" stroke="#111" stroke-width="1.9"/>
<circle cx="1399.6" cy="1037.9" r="6.15" fill="#98AECB" stroke="#111" stroke-width="1.9"/>
<circle cx="1362.5" cy="866.9" r="6.15" fill="#78AFBA" stroke="#111" stroke-width="1.9"/>
<circle cx="1411.3" cy="1071.0" r="6.15" fill="#98AECB" stroke="#111" stroke-width="1.9"/>
<circle cx="1411.0" cy="937.1" r="6.15" fill="#98AECB" stroke="#111" stroke-width="1.9"/>
<circle cx="1401.4" cy="800.4" r="6.15" fill="#98AECB" stroke="#111" stroke-width="1.9"/>
<circle cx="1394.3" cy="756.4" r="6.15" fill="#98AECB" stroke="#111" stroke-width="1.9"/>
<circle cx="1410.9" cy="927.2" r="6.15" fill="#98AECB" stroke="#111" stroke-width="1.9"/>
<circle cx="1353.0" cy="894.2" r="6.15" fill="#78AFBA" stroke="#111" stroke-width="1.9"/>
<circle cx="1353.4" cy="1043.7" r="6.15" fill="#78AFBA" stroke="#111" stroke-width="1.9"/>
<circle cx="1361.3" cy="912.9" r="6.15" fill="#78AFBA" stroke="#111" stroke-width="1.9"/>
<circle cx="1417.7" cy="1075.2" r="6.15" fill="#98AECB" stroke="#111" stroke-width="1.9"/>
<circle cx="1373.1" cy="952.2" r="6.15" fill="#78AFBA" stroke="#111" stroke-width="1.9"/>
<circle cx="1385.0" cy="819.2" r="6.15" fill="#98AECB" stroke="#111" stroke-width="1.9"/>
<circle cx="1399.5" cy="854.8" r="6.15" fill="#98AECB" stroke="#111" stroke-width="1.9"/>
<circle cx="1414.9" cy="936.9" r="6.15" fill="#98AECB" stroke="#111" stroke-width="1.9"/>
<circle cx="1394.3" cy="852.9" r="6.15" fill="#98AECB" stroke="#111" stroke-width="1.9"/>
<circle cx="1393.9" cy="845.8" r="6.15" fill="#98AECB" stroke="#111" stroke-width="1.9"/>
<polygon points="1400.5,932.6 1393.5,946.2 1407.5,946.2" fill="#98AECB" stroke="#111" stroke-width="1.8" stroke-linejoin="miter"/>
<circle cx="1424.2" cy="989.8" r="6.15" fill="#98AECB" stroke="#111" stroke-width="1.9"/>
<circle cx="1395.8" cy="894.4" r="6.15" fill="#98AECB" stroke="#111" stroke-width="1.9"/>
<circle cx="1403.7" cy="1088.2" r="6.15" fill="#98AECB" stroke="#111" stroke-width="1.9"/>
<circle cx="1406.7" cy="800.2" r="6.15" fill="#98AECB" stroke="#111" stroke-width="1.9"/>
<circle cx="1408.8" cy="756.3" r="6.15" fill="#98AECB" stroke="#111" stroke-width="1.9"/>
<circle cx="1404.2" cy="815.6" r="6.15" fill="#98AECB" stroke="#111" stroke-width="1.9"/>
<circle cx="1401.4" cy="918.3" r="6.15" fill="#98AECB" stroke="#111" stroke-width="1.9"/>
<circle cx="1407.7" cy="1079.9" r="6.15" fill="#98AECB" stroke="#111" stroke-width="1.9"/>
<circle cx="1382.1" cy="894.2" r="6.15" fill="#98AECB" stroke="#111" stroke-width="1.9"/>
<circle cx="1414.8" cy="1015.4" r="6.15" fill="#98AECB" stroke="#111" stroke-width="1.9"/>
<polygon points="1401.9,828.8 1394.9,842.4 1408.9,842.4" fill="#98AECB" stroke="#111" stroke-width="1.8" stroke-linejoin="miter"/>
<circle cx="1416.8" cy="947.2" r="6.15" fill="#98AECB" stroke="#111" stroke-width="1.9"/>
<polygon points="1396.1,801.3 1389.1,814.9 1403.1,814.9" fill="#98AECB" stroke="#111" stroke-width="1.8" stroke-linejoin="miter"/>
<circle cx="1413.2" cy="1059.6" r="6.15" fill="#98AECB" stroke="#111" stroke-width="1.9"/>
<circle cx="1403.9" cy="1064.9" r="6.15" fill="#98AECB" stroke="#111" stroke-width="1.9"/>
<circle cx="1358.2" cy="985.9" r="6.15" fill="#78AFBA" stroke="#111" stroke-width="1.9"/>
<circle cx="1392.8" cy="915.0" r="6.15" fill="#98AECB" stroke="#111" stroke-width="1.9"/>
<circle cx="1412.5" cy="1054.6" r="6.15" fill="#98AECB" stroke="#111" stroke-width="1.9"/>
<circle cx="1397.6" cy="817.2" r="6.15" fill="#98AECB" stroke="#111" stroke-width="1.9"/>
<circle cx="1404.2" cy="765.3" r="6.15" fill="#98AECB" stroke="#111" stroke-width="1.9"/>
<circle cx="1400.5" cy="904.5" r="6.15" fill="#98AECB" stroke="#111" stroke-width="1.9"/>
<polygon points="1385.6,935.0 1378.6,948.6 1392.6,948.6" fill="#98AECB" stroke="#111" stroke-width="1.8" stroke-linejoin="miter"/>
<circle cx="1392.6" cy="782.1" r="6.15" fill="#98AECB" stroke="#111" stroke-width="1.9"/>
<circle cx="1399.9" cy="771.2" r="6.15" fill="#98AECB" stroke="#111" stroke-width="1.9"/>
<circle cx="1389.9" cy="958.4" r="6.15" fill="#98AECB" stroke="#111" stroke-width="1.9"/>
<circle cx="1396.1" cy="863.2" r="6.15" fill="#98AECB" stroke="#111" stroke-width="1.9"/>
<circle cx="1403.2" cy="820.2" r="6.15" fill="#98AECB" stroke="#111" stroke-width="1.9"/>
<circle cx="1363.0" cy="936.8" r="6.15" fill="#78AFBA" stroke="#111" stroke-width="1.9"/>
<circle cx="1397.4" cy="1013.2" r="6.15" fill="#98AECB" stroke="#111" stroke-width="1.9"/>
<circle cx="1402.0" cy="879.5" r="6.15" fill="#98AECB" stroke="#111" stroke-width="1.9"/>
<circle cx="1406.9" cy="917.5" r="6.15" fill="#98AECB" stroke="#111" stroke-width="1.9"/>
<circle cx="1379.7" cy="782.3" r="6.15" fill="#98AECB" stroke="#111" stroke-width="1.9"/>
<circle cx="1361.8" cy="1006.4" r="6.15" fill="#78AFBA" stroke="#111" stroke-width="1.9"/>
<circle cx="1402.7" cy="793.2" r="6.15" fill="#98AECB" stroke="#111" stroke-width="1.9"/>
<circle cx="1405.4" cy="862.9" r="6.15" fill="#98AECB" stroke="#111" stroke-width="1.9"/>
<circle cx="1421.4" cy="1034.4" r="6.15" fill="#98AECB" stroke="#111" stroke-width="1.9"/>
<circle cx="1351.3" cy="987.6" r="6.15" fill="#78AFBA" stroke="#111" stroke-width="1.9"/>
<circle cx="1370.5" cy="991.0" r="6.15" fill="#78AFBA" stroke="#111" stroke-width="1.9"/>
<circle cx="1401.0" cy="741.2" r="6.15" fill="#98AECB" stroke="#111" stroke-width="1.9"/>
<circle cx="1408.8" cy="1090.1" r="6.15" fill="#98AECB" stroke="#111" stroke-width="1.9"/>
<circle cx="1404.5" cy="1021.2" r="6.15" fill="#98AECB" stroke="#111" stroke-width="1.9"/>
<circle cx="1372.4" cy="963.4" r="6.15" fill="#78AFBA" stroke="#111" stroke-width="1.9"/>
<circle cx="1392.8" cy="980.8" r="6.15" fill="#98AECB" stroke="#111" stroke-width="1.9"/>
<circle cx="1400.6" cy="751.9" r="6.15" fill="#98AECB" stroke="#111" stroke-width="1.9"/>
<circle cx="1393.8" cy="740.7" r="6.15" fill="#98AECB" stroke="#111" stroke-width="1.9"/>
<circle cx="1367.8" cy="969.2" r="6.15" fill="#78AFBA" stroke="#111" stroke-width="1.9"/>
<circle cx="1391.2" cy="860.4" r="6.15" fill="#98AECB" stroke="#111" stroke-width="1.9"/>
<circle cx="1399.3" cy="824.7" r="6.15" fill="#98AECB" stroke="#111" stroke-width="1.9"/>
<circle cx="1377.0" cy="1043.1" r="6.15" fill="#78AFBA" stroke="#111" stroke-width="1.9"/>
<circle cx="1390.5" cy="749.9" r="6.15" fill="#98AECB" stroke="#111" stroke-width="1.9"/>
<circle cx="1406.1" cy="928.2" r="6.15" fill="#98AECB" stroke="#111" stroke-width="1.9"/>
<circle cx="1176.9" cy="726.5" r="6.15" fill="#F5C296" stroke="#111" stroke-width="1.9"/>
<circle cx="1085.2" cy="763.3" r="6.15" fill="#F5C296" stroke="#111" stroke-width="1.9"/>
<circle cx="1078.2" cy="778.5" r="6.15" fill="#F5C296" stroke="#111" stroke-width="1.9"/>
<circle cx="1030.6" cy="794.2" r="6.15" fill="#F5C296" stroke="#111" stroke-width="1.9"/>
<circle cx="1033.5" cy="810.2" r="6.15" fill="#F5C296" stroke="#111" stroke-width="1.9"/>
<circle cx="1032.7" cy="829.9" r="6.15" fill="#F5C296" stroke="#111" stroke-width="1.9"/>
<circle cx="967.6" cy="808.8" r="6.15" fill="#F5C296" stroke="#111" stroke-width="1.9"/>
<circle cx="1082.3" cy="845.2" r="6.15" fill="#F5C296" stroke="#111" stroke-width="1.9"/>
<circle cx="1136.6" cy="818.2" r="6.15" fill="#F5C296" stroke="#111" stroke-width="1.9"/>
<circle cx="1166.3" cy="819.0" r="6.15" fill="#F5C296" stroke="#111" stroke-width="1.9"/>
<circle cx="1171.8" cy="811.4" r="6.15" fill="#F5C296" stroke="#111" stroke-width="1.9"/>
<circle cx="1182.8" cy="797.8" r="6.15" fill="#F5C296" stroke="#111" stroke-width="1.9"/>
<circle cx="1183.5" cy="804.7" r="6.15" fill="#F5C296" stroke="#111" stroke-width="1.9"/>
<circle cx="1191.8" cy="783.3" r="6.15" fill="#F5C296" stroke="#111" stroke-width="1.9"/>
<circle cx="1199.9" cy="806.6" r="6.15" fill="#F5C296" stroke="#111" stroke-width="1.9"/>
<circle cx="1209.0" cy="789.1" r="6.15" fill="#F5C296" stroke="#111" stroke-width="1.9"/>
<circle cx="1200.2" cy="838.6" r="6.15" fill="#F5C296" stroke="#111" stroke-width="1.9"/>
<circle cx="1190.0" cy="844.4" r="6.15" fill="#F5C296" stroke="#111" stroke-width="1.9"/>
<circle cx="1209.7" cy="810.9" r="6.15" fill="#F5C296" stroke="#111" stroke-width="1.9"/>
<circle cx="924.5" cy="868.2" r="6.15" fill="#F5C296" stroke="#111" stroke-width="1.9"/>
<circle cx="964.6" cy="857.6" r="6.15" fill="#F5C296" stroke="#111" stroke-width="1.9"/>
<circle cx="982.1" cy="862.7" r="6.15" fill="#F5C296" stroke="#111" stroke-width="1.9"/>
<circle cx="949.0" cy="886.4" r="6.15" fill="#F5C296" stroke="#111" stroke-width="1.9"/>
<circle cx="948.3" cy="901.6" r="6.15" fill="#F5C296" stroke="#111" stroke-width="1.9"/>
<circle cx="1007.7" cy="872.1" r="6.15" fill="#F5C296" stroke="#111" stroke-width="1.9"/>
<circle cx="1016.7" cy="878.4" r="6.15" fill="#F5C296" stroke="#111" stroke-width="1.9"/>
<circle cx="1031.0" cy="896.2" r="6.15" fill="#F5C296" stroke="#111" stroke-width="1.9"/>
<circle cx="1050.9" cy="861.9" r="6.15" fill="#F5C296" stroke="#111" stroke-width="1.9"/>
<circle cx="1080.1" cy="858.0" r="6.15" fill="#F5C296" stroke="#111" stroke-width="1.9"/>
<circle cx="1102.7" cy="861.2" r="6.15" fill="#F5C296" stroke="#111" stroke-width="1.9"/>
<circle cx="1090.7" cy="878.4" r="6.15" fill="#F5C296" stroke="#111" stroke-width="1.9"/>
<circle cx="1128.9" cy="861.5" r="6.15" fill="#F5C296" stroke="#111" stroke-width="1.9"/>
<circle cx="1150.4" cy="864.9" r="6.15" fill="#F5C296" stroke="#111" stroke-width="1.9"/>
<circle cx="1134.7" cy="881.2" r="6.15" fill="#F5C296" stroke="#111" stroke-width="1.9"/>
<circle cx="1102.4" cy="914.7" r="6.15" fill="#F5C296" stroke="#111" stroke-width="1.9"/>
<circle cx="1097.6" cy="934.5" r="6.15" fill="#F5C296" stroke="#111" stroke-width="1.9"/>
<circle cx="1180.6" cy="901.7" r="6.15" fill="#F5C296" stroke="#111" stroke-width="1.9"/>
<circle cx="1192.2" cy="895.4" r="6.15" fill="#F5C296" stroke="#111" stroke-width="1.9"/>
<circle cx="1204.6" cy="907.1" r="6.15" fill="#F5C296" stroke="#111" stroke-width="1.9"/>
<circle cx="1206.1" cy="919.8" r="6.15" fill="#F5C296" stroke="#111" stroke-width="1.9"/>
<circle cx="1194.4" cy="931.1" r="6.15" fill="#F5C296" stroke="#111" stroke-width="1.9"/>
<circle cx="1209.7" cy="936.2" r="6.15" fill="#F5C296" stroke="#111" stroke-width="1.9"/>
<circle cx="1193.0" cy="1002.5" r="6.15" fill="#F5C296" stroke="#111" stroke-width="1.9"/>
<circle cx="1031.3" cy="835.0" r="6.15" fill="#F5C296" stroke="#111" stroke-width="1.9"/>
<circle cx="1277.8" cy="742.1" r="6.15" fill="#F5C296" stroke="#111" stroke-width="1.9"/>
<circle cx="1310.6" cy="735.9" r="6.15" fill="#F5C296" stroke="#111" stroke-width="1.9"/>
<circle cx="1328.5" cy="736.2" r="6.15" fill="#F5C296" stroke="#111" stroke-width="1.9"/>
<circle cx="1306.2" cy="748.0" r="6.15" fill="#F5C296" stroke="#111" stroke-width="1.9"/>
<circle cx="1327.6" cy="750.9" r="6.15" fill="#F5C296" stroke="#111" stroke-width="1.9"/>
<circle cx="1259.1" cy="760.0" r="6.15" fill="#F5C296" stroke="#111" stroke-width="1.9"/>
<circle cx="1264.7" cy="770.6" r="6.15" fill="#F5C296" stroke="#111" stroke-width="1.9"/>
<circle cx="1255.9" cy="771.6" r="6.15" fill="#F5C296" stroke="#111" stroke-width="1.9"/>
<circle cx="1254.5" cy="778.9" r="6.15" fill="#F5C296" stroke="#111" stroke-width="1.9"/>
<circle cx="1262.5" cy="786.9" r="6.15" fill="#F5C296" stroke="#111" stroke-width="1.9"/>
<circle cx="1286.2" cy="765.8" r="6.15" fill="#F5C296" stroke="#111" stroke-width="1.9"/>
<circle cx="1314.2" cy="778.5" r="6.15" fill="#F5C296" stroke="#111" stroke-width="1.9"/>
<circle cx="1303.7" cy="782.5" r="6.15" fill="#F5C296" stroke="#111" stroke-width="1.9"/>
<circle cx="1333.4" cy="776.4" r="6.15" fill="#F5C296" stroke="#111" stroke-width="1.9"/>
<circle cx="1332.4" cy="789.8" r="6.15" fill="#F5C296" stroke="#111" stroke-width="1.9"/>
<circle cx="1340.1" cy="791.0" r="6.15" fill="#F5C296" stroke="#111" stroke-width="1.9"/>
<circle cx="1291.6" cy="793.5" r="6.15" fill="#F5C296" stroke="#111" stroke-width="1.9"/>
<circle cx="1270.2" cy="798.9" r="6.15" fill="#F5C296" stroke="#111" stroke-width="1.9"/>
<circle cx="1215.4" cy="810.9" r="6.15" fill="#F5C296" stroke="#111" stroke-width="1.9"/>
<circle cx="1232.3" cy="797.1" r="6.15" fill="#F5C296" stroke="#111" stroke-width="1.9"/>
<circle cx="1237.0" cy="800.0" r="6.15" fill="#F5C296" stroke="#111" stroke-width="1.9"/>
<circle cx="1241.4" cy="805.8" r="6.15" fill="#F5C296" stroke="#111" stroke-width="1.9"/>
<circle cx="1304.7" cy="805.6" r="6.15" fill="#F5C296" stroke="#111" stroke-width="1.9"/>
<circle cx="1295.3" cy="808.8" r="6.15" fill="#F5C296" stroke="#111" stroke-width="1.9"/>
<circle cx="1233.4" cy="817.5" r="6.15" fill="#F5C296" stroke="#111" stroke-width="1.9"/>
<circle cx="1242.1" cy="818.2" r="6.15" fill="#F5C296" stroke="#111" stroke-width="1.9"/>
<circle cx="1253.0" cy="821.1" r="6.15" fill="#F5C296" stroke="#111" stroke-width="1.9"/>
<circle cx="1263.9" cy="818.2" r="6.15" fill="#F5C296" stroke="#111" stroke-width="1.9"/>
<circle cx="1290.6" cy="819.2" r="6.15" fill="#F5C296" stroke="#111" stroke-width="1.9"/>
<circle cx="1320.8" cy="826.2" r="6.15" fill="#F5C296" stroke="#111" stroke-width="1.9"/>
<circle cx="1266.1" cy="829.9" r="6.15" fill="#F5C296" stroke="#111" stroke-width="1.9"/>
<circle cx="1258.8" cy="834.3" r="6.15" fill="#F5C296" stroke="#111" stroke-width="1.9"/>
<circle cx="1295.0" cy="835.0" r="6.15" fill="#F5C296" stroke="#111" stroke-width="1.9"/>
<circle cx="1324.4" cy="836.4" r="6.15" fill="#F5C296" stroke="#111" stroke-width="1.9"/>
<circle cx="1316.4" cy="839.3" r="6.15" fill="#F5C296" stroke="#111" stroke-width="1.9"/>
<circle cx="1220.7" cy="845.9" r="6.15" fill="#F5C296" stroke="#111" stroke-width="1.9"/>
<circle cx="1241.1" cy="843.7" r="6.15" fill="#F5C296" stroke="#111" stroke-width="1.9"/>
<circle cx="1322.9" cy="845.2" r="6.15" fill="#F5C296" stroke="#111" stroke-width="1.9"/>
<circle cx="1332.4" cy="845.2" r="6.15" fill="#F5C296" stroke="#111" stroke-width="1.9"/>
<circle cx="1314.2" cy="849.5" r="6.15" fill="#F5C296" stroke="#111" stroke-width="1.9"/>
<polygon points="1239.9,825.3 1232.9,838.9 1246.9,838.9" fill="#F5C296" stroke="#111" stroke-width="1.8" stroke-linejoin="miter"/>
<polygon points="1241.4,831.1 1234.4,844.7 1248.4,844.7" fill="#F5C296" stroke="#111" stroke-width="1.8" stroke-linejoin="miter"/>
<polygon points="1273.4,831.8 1266.4,845.4 1280.4,845.4" fill="#F5C296" stroke="#111" stroke-width="1.8" stroke-linejoin="miter"/>
<polygon points="1272.0,836.9 1265.0,850.5 1279.0,850.5" fill="#F5C296" stroke="#111" stroke-width="1.8" stroke-linejoin="miter"/>
<polygon points="1301.1,835.5 1294.1,849.1 1308.1,849.1" fill="#F5C296" stroke="#111" stroke-width="1.8" stroke-linejoin="miter"/>
<circle cx="1380.9" cy="672.6" r="6.15" fill="#78AFBA" stroke="#111" stroke-width="1.9"/>
<circle cx="1379.7" cy="726.5" r="6.15" fill="#78AFBA" stroke="#111" stroke-width="1.9"/>
<circle cx="1374.6" cy="728.7" r="6.15" fill="#78AFBA" stroke="#111" stroke-width="1.9"/>
<circle cx="1357.9" cy="763.6" r="6.15" fill="#78AFBA" stroke="#111" stroke-width="1.9"/>
<circle cx="1365.2" cy="764.3" r="6.15" fill="#78AFBA" stroke="#111" stroke-width="1.9"/>
<circle cx="1347.0" cy="774.5" r="6.15" fill="#78AFBA" stroke="#111" stroke-width="1.9"/>
<circle cx="1364.4" cy="774.5" r="6.15" fill="#78AFBA" stroke="#111" stroke-width="1.9"/>
<circle cx="1359.3" cy="775.3" r="6.15" fill="#78AFBA" stroke="#111" stroke-width="1.9"/>
<circle cx="1359.3" cy="786.2" r="6.15" fill="#78AFBA" stroke="#111" stroke-width="1.9"/>
<circle cx="1354.3" cy="789.1" r="6.15" fill="#78AFBA" stroke="#111" stroke-width="1.9"/>
<circle cx="1368.1" cy="791.7" r="6.15" fill="#78AFBA" stroke="#111" stroke-width="1.9"/>
<circle cx="1350.6" cy="817.5" r="6.15" fill="#78AFBA" stroke="#111" stroke-width="1.9"/>
<circle cx="1364.7" cy="820.7" r="6.15" fill="#78AFBA" stroke="#111" stroke-width="1.9"/>
<circle cx="1378.3" cy="819.0" r="6.15" fill="#78AFBA" stroke="#111" stroke-width="1.9"/>
<circle cx="1369.5" cy="832.8" r="6.15" fill="#78AFBA" stroke="#111" stroke-width="1.9"/>
<circle cx="1371.7" cy="837.2" r="6.15" fill="#78AFBA" stroke="#111" stroke-width="1.9"/>
<circle cx="1355.7" cy="845.9" r="6.15" fill="#78AFBA" stroke="#111" stroke-width="1.9"/>
<polygon points="1365.2,823.8 1358.2,837.4 1372.2,837.4" fill="#78AFBA" stroke="#111" stroke-width="1.8" stroke-linejoin="miter"/>
<polygon points="1370.3,842.7 1363.3,856.3 1377.3,856.3" fill="#78AFBA" stroke="#111" stroke-width="1.8" stroke-linejoin="miter"/>
<circle cx="1383.4" cy="707.2" r="6.15" fill="#98AECB" stroke="#111" stroke-width="1.9"/>
<circle cx="1391.4" cy="741.8" r="6.15" fill="#98AECB" stroke="#111" stroke-width="1.9"/>
<circle cx="1404.5" cy="741.0" r="6.15" fill="#98AECB" stroke="#111" stroke-width="1.9"/>
<circle cx="1412.5" cy="741.8" r="6.15" fill="#98AECB" stroke="#111" stroke-width="1.9"/>
<circle cx="1381.9" cy="746.1" r="6.15" fill="#98AECB" stroke="#111" stroke-width="1.9"/>
<circle cx="1395.0" cy="747.6" r="6.15" fill="#98AECB" stroke="#111" stroke-width="1.9"/>
<circle cx="1400.1" cy="752.7" r="6.15" fill="#98AECB" stroke="#111" stroke-width="1.9"/>
<circle cx="1411.8" cy="752.0" r="6.15" fill="#98AECB" stroke="#111" stroke-width="1.9"/>
<circle cx="1381.2" cy="753.4" r="6.15" fill="#98AECB" stroke="#111" stroke-width="1.9"/>
<circle cx="1391.4" cy="757.8" r="6.15" fill="#98AECB" stroke="#111" stroke-width="1.9"/>
<circle cx="1403.0" cy="760.7" r="6.15" fill="#98AECB" stroke="#111" stroke-width="1.9"/>
<circle cx="1411.8" cy="760.7" r="6.15" fill="#98AECB" stroke="#111" stroke-width="1.9"/>
<circle cx="1387.0" cy="765.1" r="6.15" fill="#98AECB" stroke="#111" stroke-width="1.9"/>
<circle cx="1397.2" cy="766.5" r="6.15" fill="#98AECB" stroke="#111" stroke-width="1.9"/>
<circle cx="1408.9" cy="769.4" r="6.15" fill="#98AECB" stroke="#111" stroke-width="1.9"/>
<circle cx="1414.7" cy="770.9" r="6.15" fill="#98AECB" stroke="#111" stroke-width="1.9"/>
<circle cx="1382.7" cy="772.3" r="6.15" fill="#98AECB" stroke="#111" stroke-width="1.9"/>
<circle cx="1391.4" cy="775.3" r="6.15" fill="#98AECB" stroke="#111" stroke-width="1.9"/>
<circle cx="1400.1" cy="773.8" r="6.15" fill="#98AECB" stroke="#111" stroke-width="1.9"/>
<circle cx="1406.0" cy="778.2" r="6.15" fill="#98AECB" stroke="#111" stroke-width="1.9"/>
<circle cx="1388.5" cy="779.6" r="6.15" fill="#98AECB" stroke="#111" stroke-width="1.9"/>
<circle cx="1397.2" cy="784.0" r="6.15" fill="#98AECB" stroke="#111" stroke-width="1.9"/>
<circle cx="1408.9" cy="786.9" r="6.15" fill="#98AECB" stroke="#111" stroke-width="1.9"/>
<circle cx="1408.9" cy="798.6" r="6.15" fill="#98AECB" stroke="#111" stroke-width="1.9"/>
<circle cx="1397.2" cy="795.7" r="6.15" fill="#98AECB" stroke="#111" stroke-width="1.9"/>
<circle cx="1381.2" cy="810.2" r="6.15" fill="#98AECB" stroke="#111" stroke-width="1.9"/>
<circle cx="1388.5" cy="811.7" r="6.15" fill="#98AECB" stroke="#111" stroke-width="1.9"/>
<circle cx="1398.7" cy="810.2" r="6.15" fill="#98AECB" stroke="#111" stroke-width="1.9"/>
<circle cx="1392.8" cy="804.4" r="6.15" fill="#98AECB" stroke="#111" stroke-width="1.9"/>
<circle cx="1416.2" cy="826.2" r="6.15" fill="#98AECB" stroke="#111" stroke-width="1.9"/>
<circle cx="1406.0" cy="830.6" r="6.15" fill="#98AECB" stroke="#111" stroke-width="1.9"/>
<circle cx="1388.5" cy="836.4" r="6.15" fill="#98AECB" stroke="#111" stroke-width="1.9"/>
<circle cx="1412.5" cy="843.7" r="6.15" fill="#98AECB" stroke="#111" stroke-width="1.9"/>
<circle cx="1391.4" cy="845.2" r="6.15" fill="#98AECB" stroke="#111" stroke-width="1.9"/>
<circle cx="1379.7" cy="819.0" r="6.15" fill="#98AECB" stroke="#111" stroke-width="1.9"/>
<polygon points="1414.0,802.0 1407.0,815.6 1421.0,815.6" fill="#98AECB" stroke="#111" stroke-width="1.8" stroke-linejoin="miter"/>
<polygon points="1391.4,816.5 1384.4,830.1 1398.4,830.1" fill="#98AECB" stroke="#111" stroke-width="1.8" stroke-linejoin="miter"/>
<polygon points="1403.0,816.5 1396.0,830.1 1410.0,830.1" fill="#98AECB" stroke="#111" stroke-width="1.8" stroke-linejoin="miter"/>
<polygon points="1397.2,829.6 1390.2,843.2 1404.2,843.2" fill="#98AECB" stroke="#111" stroke-width="1.8" stroke-linejoin="miter"/>
<polygon points="1410.3,828.2 1403.3,841.8 1417.3,841.8" fill="#98AECB" stroke="#111" stroke-width="1.8" stroke-linejoin="miter"/>
<polygon points="1385.6,796.1 1378.6,809.7 1392.6,809.7" fill="#98AECB" stroke="#111" stroke-width="1.8" stroke-linejoin="miter"/>
<polygon points="1394.3,838.4 1387.3,852.0 1401.3,852.0" fill="#98AECB" stroke="#111" stroke-width="1.8" stroke-linejoin="miter"/>
<circle cx="1259.1" cy="866.3" r="6.15" fill="#F5C296" stroke="#111" stroke-width="1.9"/>
<circle cx="1227.8" cy="885.3" r="6.15" fill="#F5C296" stroke="#111" stroke-width="1.9"/>
<circle cx="1223.9" cy="899.1" r="6.15" fill="#F5C296" stroke="#111" stroke-width="1.9"/>
<circle cx="1229.3" cy="913.7" r="6.15" fill="#F5C296" stroke="#111" stroke-width="1.9"/>
<circle cx="1222.4" cy="914.4" r="6.15" fill="#F5C296" stroke="#111" stroke-width="1.9"/>
<circle cx="1218.1" cy="920.9" r="6.15" fill="#F5C296" stroke="#111" stroke-width="1.9"/>
<circle cx="1232.6" cy="923.8" r="6.15" fill="#F5C296" stroke="#111" stroke-width="1.9"/>
<circle cx="1214.1" cy="936.2" r="6.15" fill="#F5C296" stroke="#111" stroke-width="1.9"/>
<circle cx="1252.7" cy="904.9" r="6.15" fill="#F5C296" stroke="#111" stroke-width="1.9"/>
<circle cx="1263.2" cy="916.1" r="6.15" fill="#F5C296" stroke="#111" stroke-width="1.9"/>
<circle cx="1277.1" cy="912.5" r="6.15" fill="#F5C296" stroke="#111" stroke-width="1.9"/>
<circle cx="1283.6" cy="902.7" r="6.15" fill="#F5C296" stroke="#111" stroke-width="1.9"/>
<circle cx="1296.3" cy="900.8" r="6.15" fill="#F5C296" stroke="#111" stroke-width="1.9"/>
<circle cx="1304.0" cy="900.3" r="6.15" fill="#F5C296" stroke="#111" stroke-width="1.9"/>
<circle cx="1230.0" cy="949.8" r="6.15" fill="#F5C296" stroke="#111" stroke-width="1.9"/>
<circle cx="1246.9" cy="948.6" r="6.15" fill="#F5C296" stroke="#111" stroke-width="1.9"/>
<circle cx="1250.4" cy="954.4" r="6.15" fill="#F5C296" stroke="#111" stroke-width="1.9"/>
<circle cx="1292.3" cy="955.2" r="6.15" fill="#F5C296" stroke="#111" stroke-width="1.9"/>
<circle cx="1288.7" cy="961.7" r="6.15" fill="#F5C296" stroke="#111" stroke-width="1.9"/>
<circle cx="1280.7" cy="974.8" r="6.15" fill="#F5C296" stroke="#111" stroke-width="1.9"/>
<circle cx="1284.3" cy="979.2" r="6.15" fill="#F5C296" stroke="#111" stroke-width="1.9"/>
<circle cx="1233.4" cy="1004.2" r="6.15" fill="#F5C296" stroke="#111" stroke-width="1.9"/>
<circle cx="1308.4" cy="922.4" r="6.15" fill="#F5C296" stroke="#111" stroke-width="1.9"/>
<circle cx="1319.7" cy="917.3" r="6.15" fill="#F5C296" stroke="#111" stroke-width="1.9"/>
<circle cx="1326.6" cy="899.1" r="6.15" fill="#F5C296" stroke="#111" stroke-width="1.9"/>
<circle cx="1339.0" cy="892.5" r="6.15" fill="#F5C296" stroke="#111" stroke-width="1.9"/>
<circle cx="1336.8" cy="910.7" r="6.15" fill="#F5C296" stroke="#111" stroke-width="1.9"/>
<circle cx="1336.0" cy="925.3" r="6.15" fill="#F5C296" stroke="#111" stroke-width="1.9"/>
<circle cx="1337.2" cy="932.6" r="6.15" fill="#F5C296" stroke="#111" stroke-width="1.9"/>
<circle cx="1319.3" cy="940.6" r="6.15" fill="#F5C296" stroke="#111" stroke-width="1.9"/>
<circle cx="1327.3" cy="939.6" r="6.15" fill="#F5C296" stroke="#111" stroke-width="1.9"/>
<circle cx="1336.8" cy="948.6" r="6.15" fill="#F5C296" stroke="#111" stroke-width="1.9"/>
<circle cx="1312.0" cy="973.4" r="6.15" fill="#F5C296" stroke="#111" stroke-width="1.9"/>
<circle cx="1319.7" cy="977.0" r="6.15" fill="#F5C296" stroke="#111" stroke-width="1.9"/>
<circle cx="1307.6" cy="980.7" r="6.15" fill="#F5C296" stroke="#111" stroke-width="1.9"/>
<circle cx="1331.4" cy="986.9" r="6.15" fill="#F5C296" stroke="#111" stroke-width="1.9"/>
<circle cx="1343.3" cy="1004.2" r="6.15" fill="#F5C296" stroke="#111" stroke-width="1.9"/>
<circle cx="1338.7" cy="1025.1" r="6.15" fill="#F5C296" stroke="#111" stroke-width="1.9"/>
<circle cx="1334.6" cy="1035.3" r="6.15" fill="#F5C296" stroke="#111" stroke-width="1.9"/>
<circle cx="1296.7" cy="856.1" r="6.15" fill="#F5C296" stroke="#111" stroke-width="1.9"/>
<circle cx="1292.3" cy="856.1" r="6.15" fill="#F5C296" stroke="#111" stroke-width="1.9"/>
<circle cx="1316.4" cy="856.1" r="6.15" fill="#F5C296" stroke="#111" stroke-width="1.9"/>
<circle cx="1328.8" cy="864.1" r="6.15" fill="#F5C296" stroke="#111" stroke-width="1.9"/>
<polygon points="1280.7,862.4 1273.7,876.0 1287.7,876.0" fill="#F5C296" stroke="#111" stroke-width="1.8" stroke-linejoin="miter"/>
<polygon points="1337.5,873.4 1330.5,887.0 1344.5,887.0" fill="#F5C296" stroke="#111" stroke-width="1.8" stroke-linejoin="miter"/>
<circle cx="1347.7" cy="857.6" r="6.15" fill="#78AFBA" stroke="#111" stroke-width="1.9"/>
<circle cx="1360.8" cy="871.4" r="6.15" fill="#78AFBA" stroke="#111" stroke-width="1.9"/>
<circle cx="1349.2" cy="880.2" r="6.15" fill="#78AFBA" stroke="#111" stroke-width="1.9"/>
<circle cx="1365.2" cy="881.6" r="6.15" fill="#78AFBA" stroke="#111" stroke-width="1.9"/>
<circle cx="1355.0" cy="891.8" r="6.15" fill="#78AFBA" stroke="#111" stroke-width="1.9"/>
<circle cx="1346.2" cy="912.9" r="6.15" fill="#78AFBA" stroke="#111" stroke-width="1.9"/>
<circle cx="1355.0" cy="902.0" r="6.15" fill="#78AFBA" stroke="#111" stroke-width="1.9"/>
<circle cx="1350.6" cy="929.7" r="6.15" fill="#78AFBA" stroke="#111" stroke-width="1.9"/>
<circle cx="1360.8" cy="937.0" r="6.15" fill="#78AFBA" stroke="#111" stroke-width="1.9"/>
<circle cx="1346.2" cy="948.6" r="6.15" fill="#78AFBA" stroke="#111" stroke-width="1.9"/>
<circle cx="1355.0" cy="945.7" r="6.15" fill="#78AFBA" stroke="#111" stroke-width="1.9"/>
<circle cx="1363.7" cy="953.0" r="6.15" fill="#78AFBA" stroke="#111" stroke-width="1.9"/>
<circle cx="1344.8" cy="963.2" r="6.15" fill="#78AFBA" stroke="#111" stroke-width="1.9"/>
<circle cx="1355.0" cy="966.1" r="6.15" fill="#78AFBA" stroke="#111" stroke-width="1.9"/>
<circle cx="1365.2" cy="963.2" r="6.15" fill="#78AFBA" stroke="#111" stroke-width="1.9"/>
<circle cx="1349.2" cy="977.7" r="6.15" fill="#78AFBA" stroke="#111" stroke-width="1.9"/>
<circle cx="1359.3" cy="983.6" r="6.15" fill="#78AFBA" stroke="#111" stroke-width="1.9"/>
<circle cx="1368.1" cy="974.8" r="6.15" fill="#78AFBA" stroke="#111" stroke-width="1.9"/>
<circle cx="1350.6" cy="993.8" r="6.15" fill="#78AFBA" stroke="#111" stroke-width="1.9"/>
<circle cx="1362.3" cy="996.7" r="6.15" fill="#78AFBA" stroke="#111" stroke-width="1.9"/>
<circle cx="1372.5" cy="992.3" r="6.15" fill="#78AFBA" stroke="#111" stroke-width="1.9"/>
<circle cx="1371.0" cy="1002.5" r="6.15" fill="#78AFBA" stroke="#111" stroke-width="1.9"/>
<circle cx="1365.2" cy="1009.8" r="6.15" fill="#78AFBA" stroke="#111" stroke-width="1.9"/>
<circle cx="1355.0" cy="1019.3" r="6.15" fill="#78AFBA" stroke="#111" stroke-width="1.9"/>
<circle cx="1363.7" cy="1022.9" r="6.15" fill="#78AFBA" stroke="#111" stroke-width="1.9"/>
<circle cx="1373.9" cy="1014.2" r="6.15" fill="#78AFBA" stroke="#111" stroke-width="1.9"/>
<circle cx="1379.7" cy="1024.3" r="6.15" fill="#78AFBA" stroke="#111" stroke-width="1.9"/>
<circle cx="1353.5" cy="1034.5" r="6.15" fill="#78AFBA" stroke="#111" stroke-width="1.9"/>
<circle cx="1371.0" cy="1030.2" r="6.15" fill="#78AFBA" stroke="#111" stroke-width="1.9"/>
<circle cx="1373.9" cy="916.6" r="6.15" fill="#78AFBA" stroke="#111" stroke-width="1.9"/>
<circle cx="1371.0" cy="931.1" r="6.15" fill="#78AFBA" stroke="#111" stroke-width="1.9"/>
<circle cx="1376.8" cy="941.3" r="6.15" fill="#78AFBA" stroke="#111" stroke-width="1.9"/>
<circle cx="1378.3" cy="963.2" r="6.15" fill="#78AFBA" stroke="#111" stroke-width="1.9"/>
<circle cx="1378.3" cy="977.7" r="6.15" fill="#78AFBA" stroke="#111" stroke-width="1.9"/>
<circle cx="1381.2" cy="989.4" r="6.15" fill="#78AFBA" stroke="#111" stroke-width="1.9"/>
<circle cx="1382.7" cy="1006.9" r="6.15" fill="#78AFBA" stroke="#111" stroke-width="1.9"/>
<circle cx="1371.0" cy="904.9" r="6.15" fill="#78AFBA" stroke="#111" stroke-width="1.9"/>
<polygon points="1339.0,858.8 1332.0,872.4 1346.0,872.4" fill="#78AFBA" stroke="#111" stroke-width="1.8" stroke-linejoin="miter"/>
<polygon points="1350.6,863.2 1343.6,876.8 1357.6,876.8" fill="#78AFBA" stroke="#111" stroke-width="1.8" stroke-linejoin="miter"/>
<polygon points="1363.7,854.4 1356.7,868.0 1370.7,868.0" fill="#78AFBA" stroke="#111" stroke-width="1.8" stroke-linejoin="miter"/>
<polygon points="1372.5,885.0 1365.5,898.6 1379.5,898.6" fill="#78AFBA" stroke="#111" stroke-width="1.8" stroke-linejoin="miter"/>
<polygon points="1357.9,885.0 1350.9,898.6 1364.9,898.6" fill="#78AFBA" stroke="#111" stroke-width="1.8" stroke-linejoin="miter"/>
<circle cx="1388.5" cy="840.8" r="6.15" fill="#98AECB" stroke="#111" stroke-width="1.9"/>
<circle cx="1397.2" cy="855.4" r="6.15" fill="#98AECB" stroke="#111" stroke-width="1.9"/>
<circle cx="1411.8" cy="853.9" r="6.15" fill="#98AECB" stroke="#111" stroke-width="1.9"/>
<circle cx="1379.7" cy="862.7" r="6.15" fill="#98AECB" stroke="#111" stroke-width="1.9"/>
<circle cx="1391.4" cy="871.4" r="6.15" fill="#98AECB" stroke="#111" stroke-width="1.9"/>
<circle cx="1379.7" cy="880.2" r="6.15" fill="#98AECB" stroke="#111" stroke-width="1.9"/>
<circle cx="1408.9" cy="875.8" r="6.15" fill="#98AECB" stroke="#111" stroke-width="1.9"/>
<circle cx="1417.6" cy="906.4" r="6.15" fill="#98AECB" stroke="#111" stroke-width="1.9"/>
<circle cx="1406.0" cy="910.7" r="6.15" fill="#98AECB" stroke="#111" stroke-width="1.9"/>
<circle cx="1417.6" cy="916.6" r="6.15" fill="#98AECB" stroke="#111" stroke-width="1.9"/>
<circle cx="1394.3" cy="916.6" r="6.15" fill="#98AECB" stroke="#111" stroke-width="1.9"/>
<circle cx="1403.0" cy="922.4" r="6.15" fill="#98AECB" stroke="#111" stroke-width="1.9"/>
<circle cx="1420.5" cy="929.7" r="6.15" fill="#98AECB" stroke="#111" stroke-width="1.9"/>
<circle cx="1408.9" cy="931.1" r="6.15" fill="#98AECB" stroke="#111" stroke-width="1.9"/>
<circle cx="1388.5" cy="929.7" r="6.15" fill="#98AECB" stroke="#111" stroke-width="1.9"/>
<circle cx="1397.2" cy="937.0" r="6.15" fill="#98AECB" stroke="#111" stroke-width="1.9"/>
<circle cx="1420.5" cy="941.3" r="6.15" fill="#98AECB" stroke="#111" stroke-width="1.9"/>
<circle cx="1411.8" cy="945.7" r="6.15" fill="#98AECB" stroke="#111" stroke-width="1.9"/>
<circle cx="1388.5" cy="945.7" r="6.15" fill="#98AECB" stroke="#111" stroke-width="1.9"/>
<circle cx="1400.1" cy="951.5" r="6.15" fill="#98AECB" stroke="#111" stroke-width="1.9"/>
<circle cx="1408.9" cy="955.9" r="6.15" fill="#98AECB" stroke="#111" stroke-width="1.9"/>
<circle cx="1417.6" cy="960.3" r="6.15" fill="#98AECB" stroke="#111" stroke-width="1.9"/>
<circle cx="1388.5" cy="960.3" r="6.15" fill="#98AECB" stroke="#111" stroke-width="1.9"/>
<circle cx="1397.2" cy="966.1" r="6.15" fill="#98AECB" stroke="#111" stroke-width="1.9"/>
<circle cx="1406.0" cy="969.0" r="6.15" fill="#98AECB" stroke="#111" stroke-width="1.9"/>
<circle cx="1424.2" cy="972.6" r="6.15" fill="#98AECB" stroke="#111" stroke-width="1.9"/>
<circle cx="1414.7" cy="974.8" r="6.15" fill="#98AECB" stroke="#111" stroke-width="1.9"/>
<circle cx="1388.5" cy="974.8" r="6.15" fill="#98AECB" stroke="#111" stroke-width="1.9"/>
<circle cx="1397.2" cy="980.7" r="6.15" fill="#98AECB" stroke="#111" stroke-width="1.9"/>
<circle cx="1406.0" cy="983.6" r="6.15" fill="#98AECB" stroke="#111" stroke-width="1.9"/>
<circle cx="1417.6" cy="986.5" r="6.15" fill="#98AECB" stroke="#111" stroke-width="1.9"/>
<circle cx="1388.5" cy="989.4" r="6.15" fill="#98AECB" stroke="#111" stroke-width="1.9"/>
<circle cx="1398.7" cy="993.8" r="6.15" fill="#98AECB" stroke="#111" stroke-width="1.9"/>
<circle cx="1408.9" cy="996.7" r="6.15" fill="#98AECB" stroke="#111" stroke-width="1.9"/>
<circle cx="1417.6" cy="999.6" r="6.15" fill="#98AECB" stroke="#111" stroke-width="1.9"/>
<circle cx="1391.4" cy="1002.5" r="6.15" fill="#98AECB" stroke="#111" stroke-width="1.9"/>
<circle cx="1401.6" cy="1006.9" r="6.15" fill="#98AECB" stroke="#111" stroke-width="1.9"/>
<circle cx="1411.8" cy="1009.8" r="6.15" fill="#98AECB" stroke="#111" stroke-width="1.9"/>
<circle cx="1420.5" cy="1012.7" r="6.15" fill="#98AECB" stroke="#111" stroke-width="1.9"/>
<circle cx="1388.5" cy="1014.2" r="6.15" fill="#98AECB" stroke="#111" stroke-width="1.9"/>
<circle cx="1397.2" cy="1018.5" r="6.15" fill="#98AECB" stroke="#111" stroke-width="1.9"/>
<circle cx="1407.4" cy="1021.4" r="6.15" fill="#98AECB" stroke="#111" stroke-width="1.9"/>
<circle cx="1423.4" cy="1018.5" r="6.15" fill="#98AECB" stroke="#111" stroke-width="1.9"/>
<circle cx="1417.6" cy="1027.3" r="6.15" fill="#98AECB" stroke="#111" stroke-width="1.9"/>
<circle cx="1401.6" cy="1030.2" r="6.15" fill="#98AECB" stroke="#111" stroke-width="1.9"/>
<circle cx="1391.4" cy="1028.7" r="6.15" fill="#98AECB" stroke="#111" stroke-width="1.9"/>
<circle cx="1411.8" cy="1033.1" r="6.15" fill="#98AECB" stroke="#111" stroke-width="1.9"/>
<polygon points="1417.6,851.5 1410.6,865.1 1424.6,865.1" fill="#98AECB" stroke="#111" stroke-width="1.8" stroke-linejoin="miter"/>
<polygon points="1414.7,880.6 1407.7,894.2 1421.7,894.2" fill="#98AECB" stroke="#111" stroke-width="1.8" stroke-linejoin="miter"/>
<polygon points="1403.0,876.3 1396.0,889.9 1410.0,889.9" fill="#98AECB" stroke="#111" stroke-width="1.8" stroke-linejoin="miter"/>
<polygon points="1422.0,898.1 1415.0,911.7 1429.0,911.7" fill="#98AECB" stroke="#111" stroke-width="1.8" stroke-linejoin="miter"/>
<polygon points="1397.2,892.3 1390.2,905.9 1404.2,905.9" fill="#98AECB" stroke="#111" stroke-width="1.8" stroke-linejoin="miter"/>
<polygon points="1382.7,965.1 1375.7,978.7 1389.7,978.7" fill="#98AECB" stroke="#111" stroke-width="1.8" stroke-linejoin="miter"/>
<polygon points="1387.0,1013.2 1380.0,1026.8 1394.0,1026.8" fill="#98AECB" stroke="#111" stroke-width="1.8" stroke-linejoin="miter"/>
<polygon points="1420.5,936.0 1413.5,949.6 1427.5,949.6" fill="#98AECB" stroke="#111" stroke-width="1.8" stroke-linejoin="miter"/>
<polygon points="1385.6,889.4 1378.6,903.0 1392.6,903.0" fill="#98AECB" stroke="#111" stroke-width="1.8" stroke-linejoin="miter"/>
<polygon points="1406.0,889.4 1399.0,903.0 1413.0,903.0" fill="#98AECB" stroke="#111" stroke-width="1.8" stroke-linejoin="miter"/>
<circle cx="1308.4" cy="1123.0" r="6.15" fill="#F5C296" stroke="#111" stroke-width="1.9"/>
<circle cx="1332.4" cy="1133.6" r="6.15" fill="#F5C296" stroke="#111" stroke-width="1.9"/>
<circle cx="1336.8" cy="1139.1" r="6.15" fill="#F5C296" stroke="#111" stroke-width="1.9"/>
<circle cx="1367.4" cy="1038.2" r="6.15" fill="#78AFBA" stroke="#111" stroke-width="1.9"/>
<circle cx="1350.6" cy="1038.9" r="6.15" fill="#78AFBA" stroke="#111" stroke-width="1.9"/>
<circle cx="1357.9" cy="1043.3" r="6.15" fill="#78AFBA" stroke="#111" stroke-width="1.9"/>
<circle cx="1359.3" cy="1049.1" r="6.15" fill="#78AFBA" stroke="#111" stroke-width="1.9"/>
<circle cx="1364.4" cy="1060.8" r="6.15" fill="#78AFBA" stroke="#111" stroke-width="1.9"/>
<circle cx="1361.5" cy="1065.9" r="6.15" fill="#78AFBA" stroke="#111" stroke-width="1.9"/>
<circle cx="1378.3" cy="1076.8" r="6.15" fill="#78AFBA" stroke="#111" stroke-width="1.9"/>
<circle cx="1379.7" cy="1087.0" r="6.15" fill="#78AFBA" stroke="#111" stroke-width="1.9"/>
<circle cx="1361.1" cy="1106.7" r="6.15" fill="#78AFBA" stroke="#111" stroke-width="1.9"/>
<circle cx="1344.1" cy="1147.4" r="6.15" fill="#78AFBA" stroke="#111" stroke-width="1.9"/>
<circle cx="1350.3" cy="1147.4" r="6.15" fill="#78AFBA" stroke="#111" stroke-width="1.9"/>
<circle cx="1365.2" cy="1025.8" r="6.15" fill="#78AFBA" stroke="#111" stroke-width="1.9"/>
<circle cx="1379.7" cy="1027.3" r="6.15" fill="#98AECB" stroke="#111" stroke-width="1.9"/>
<circle cx="1385.6" cy="1041.8" r="6.15" fill="#98AECB" stroke="#111" stroke-width="1.9"/>
<circle cx="1400.1" cy="1037.5" r="6.15" fill="#98AECB" stroke="#111" stroke-width="1.9"/>
<circle cx="1391.4" cy="1049.1" r="6.15" fill="#98AECB" stroke="#111" stroke-width="1.9"/>
<circle cx="1379.7" cy="1060.8" r="6.15" fill="#98AECB" stroke="#111" stroke-width="1.9"/>
<circle cx="1388.5" cy="1068.1" r="6.15" fill="#98AECB" stroke="#111" stroke-width="1.9"/>
<circle cx="1401.6" cy="1067.3" r="6.15" fill="#98AECB" stroke="#111" stroke-width="1.9"/>
<circle cx="1388.5" cy="1078.3" r="6.15" fill="#98AECB" stroke="#111" stroke-width="1.9"/>
<circle cx="1408.9" cy="1050.6" r="6.15" fill="#98AECB" stroke="#111" stroke-width="1.9"/>
<circle cx="1417.6" cy="1034.6" r="6.15" fill="#98AECB" stroke="#111" stroke-width="1.9"/>
<circle cx="1426.3" cy="1046.2" r="6.15" fill="#98AECB" stroke="#111" stroke-width="1.9"/>
<circle cx="1423.4" cy="1062.2" r="6.15" fill="#98AECB" stroke="#111" stroke-width="1.9"/>
<circle cx="1420.5" cy="1072.4" r="6.15" fill="#98AECB" stroke="#111" stroke-width="1.9"/>
<circle cx="1426.3" cy="1081.2" r="6.15" fill="#98AECB" stroke="#111" stroke-width="1.9"/>
<circle cx="1425.6" cy="1092.8" r="6.15" fill="#98AECB" stroke="#111" stroke-width="1.9"/>
<circle cx="1420.5" cy="1098.7" r="6.15" fill="#98AECB" stroke="#111" stroke-width="1.9"/>
<circle cx="1423.4" cy="1107.4" r="6.15" fill="#98AECB" stroke="#111" stroke-width="1.9"/>
<circle cx="1422.0" cy="1113.2" r="6.15" fill="#98AECB" stroke="#111" stroke-width="1.9"/>
<circle cx="1407.0" cy="1141.6" r="6.15" fill="#98AECB" stroke="#111" stroke-width="1.9"/>
<circle cx="1379.3" cy="1166.4" r="6.15" fill="#98AECB" stroke="#111" stroke-width="1.9"/>
<circle cx="1410.3" cy="1025.8" r="6.15" fill="#98AECB" stroke="#111" stroke-width="1.9"/>
<circle cx="1397.2" cy="1025.8" r="6.15" fill="#98AECB" stroke="#111" stroke-width="1.9"/>
<polygon points="1408.9,1099.9 1401.9,1113.5 1415.9,1113.5" fill="#98AECB" stroke="#111" stroke-width="1.8" stroke-linejoin="miter"/>
<polygon points="1404.5,1112.2 1397.5,1125.8 1411.5,1125.8" fill="#98AECB" stroke="#111" stroke-width="1.8" stroke-linejoin="miter"/>
<polygon points="1398.7,1131.2 1391.7,1144.8 1405.7,1144.8" fill="#98AECB" stroke="#111" stroke-width="1.8" stroke-linejoin="miter"/>
<polygon points="1381.2,1040.9 1374.2,1054.5 1388.2,1054.5" fill="#98AECB" stroke="#111" stroke-width="1.8" stroke-linejoin="miter"/>
<line x1="1408.6" y1="662" x2="1408.6" y2="1197" stroke="#1E9F5A" stroke-width="2.2" stroke-dasharray="8.6 9.8"/>
<path d="M924.5 815.3 L1400.0 912.0" fill="none" stroke="#000" stroke-width="2.1"/>
<path d="M1407.0 903.0 L1427.1 1167.0" fill="none" stroke="#000" stroke-width="2.1"/>
<path d="M924.5 861.9 C933.3 861.4 958.9 860.0 977.4 859.0 C995.9 858.0 1013.7 857.0 1035.6 856.1 C1057.4 855.2 1085.7 854.3 1108.5 853.9 C1131.3 853.5 1152.2 853.6 1172.2 853.9 C1192.2 854.1 1211.7 854.7 1228.3 855.4 C1244.9 856.1 1261.1 856.6 1272.0 858.3 C1282.9 860.0 1286.5 862.2 1293.8 865.6 C1301.1 869.0 1309.5 874.1 1315.6 878.7 C1321.7 883.3 1325.8 887.5 1330.2 893.3 C1334.6 899.1 1338.2 907.0 1341.9 913.6 C1345.6 920.2 1348.7 927.5 1352.1 932.6 C1355.5 937.7 1358.7 941.8 1362.3 944.2 C1365.9 946.6 1371.0 948.3 1373.9 947.1 C1376.8 945.9 1377.8 942.1 1379.7 937.0 C1381.7 931.9 1383.2 923.4 1385.6 916.6 C1388.0 909.8 1391.6 900.8 1394.3 896.2 C1397.0 891.6 1399.4 888.4 1401.6 888.9 C1403.8 889.4 1406.0 893.5 1407.4 899.1 C1408.9 904.7 1409.1 912.5 1410.3 922.4 C1411.5 932.3 1413.5 946.7 1414.7 958.8 C1415.9 970.9 1416.6 982.6 1417.6 995.2 C1418.6 1007.8 1418.9 1010.7 1420.5 1034.5 C1422.1 1058.3 1426.0 1120.8 1427.1 1138.0" fill="none" stroke="#F0602F" stroke-width="2.6" stroke-dasharray="4.5 7.5 15.5 7.5"/>
<text transform="translate(1413.2 1189.0) scale(0.95 1)" font-size="33" text-anchor="start" fill="#CC0000">34.26</text>
</g>
<g id="panel-f">
<path d="M1606.2 656V1198.1H2182" fill="none" stroke="#000" stroke-width="2.3" stroke-linejoin="miter"/>
<path d="M1632 1198.1v6.2M1762.6 1198.1v6.2M1893.9 1198.1v6.2M2025 1198.1v6.2M2156 1198.1v6.2M1606.2 693h-6.2M1606.2 831h-6.2M1606.2 968.5h-6.2M1606.2 1106h-6.2" fill="none" stroke="#000" stroke-width="1.6"/>
<text transform="translate(1637.4 1233.7) scale(0.908 1)" font-size="34.5" text-anchor="middle" fill="#000">25.0</text>
<text transform="translate(1767.2 1233.7) scale(0.908 1)" font-size="34.5" text-anchor="middle" fill="#000">27.5</text>
<text transform="translate(1895.5 1233.7) scale(0.908 1)" font-size="34.5" text-anchor="middle" fill="#000">30.0</text>
<text transform="translate(2029.7 1233.7) scale(0.908 1)" font-size="34.5" text-anchor="middle" fill="#000">32.5</text>
<text transform="translate(2157.6 1233.7) scale(0.908 1)" font-size="34.5" text-anchor="middle" fill="#000">35.0</text>
<text transform="translate(1591.6 700.1) scale(0.908 1)" font-size="34.5" text-anchor="end" fill="#000">3</text>
<text transform="translate(1591.6 838.1) scale(0.908 1)" font-size="34.5" text-anchor="end" fill="#000">2</text>
<text transform="translate(1591.6 975.6) scale(0.908 1)" font-size="34.5" text-anchor="end" fill="#000">1</text>
<text transform="translate(1591.6 1113.1) scale(0.908 1)" font-size="34.5" text-anchor="end" fill="#000">0</text>
<text transform="translate(1517.3 940.5) rotate(-90) scale(1.0039 1)" font-size="39" text-anchor="middle" fill="#000">APA</text>
<text transform="translate(1556.5 937.5) rotate(-90) scale(0.9739 1)" font-size="32" text-anchor="middle" fill="#000">(log−transformed, nmol L<tspan font-size="21.1" dy="-10">-1</tspan><tspan dy="10"> h</tspan><tspan font-size="21.1" dy="-10">-1</tspan><tspan dy="10">)</tspan></text>
<text transform="translate(1490.0 676.0) scale(0.98 1)" font-size="40" text-anchor="start" fill="#000">(f)</text>
<circle cx="2102.2" cy="906.8" r="6.15" fill="#98AECB" stroke="#111" stroke-width="1.9"/>
<circle cx="2113.8" cy="1011.9" r="6.15" fill="#98AECB" stroke="#111" stroke-width="1.9"/>
<circle cx="2103.6" cy="789.9" r="6.15" fill="#98AECB" stroke="#111" stroke-width="1.9"/>
<circle cx="2106.7" cy="977.4" r="6.15" fill="#98AECB" stroke="#111" stroke-width="1.9"/>
<polygon points="2121.9,988.9 2114.9,1002.5 2128.9,1002.5" fill="#98AECB" stroke="#111" stroke-width="1.8" stroke-linejoin="miter"/>
<circle cx="2095.6" cy="901.0" r="6.15" fill="#98AECB" stroke="#111" stroke-width="1.9"/>
<polygon points="2110.7,940.4 2103.7,954.0 2117.7,954.0" fill="#98AECB" stroke="#111" stroke-width="1.8" stroke-linejoin="miter"/>
<circle cx="2102.3" cy="990.5" r="6.15" fill="#98AECB" stroke="#111" stroke-width="1.9"/>
<circle cx="2109.2" cy="904.7" r="6.15" fill="#98AECB" stroke="#111" stroke-width="1.9"/>
<circle cx="2111.5" cy="875.4" r="6.15" fill="#98AECB" stroke="#111" stroke-width="1.9"/>
<circle cx="2101.4" cy="793.9" r="6.15" fill="#98AECB" stroke="#111" stroke-width="1.9"/>
<circle cx="2108.3" cy="927.0" r="6.15" fill="#98AECB" stroke="#111" stroke-width="1.9"/>
<circle cx="2108.0" cy="788.0" r="6.15" fill="#98AECB" stroke="#111" stroke-width="1.9"/>
<polygon points="2108.1,818.7 2101.1,832.3 2115.1,832.3" fill="#98AECB" stroke="#111" stroke-width="1.8" stroke-linejoin="miter"/>
<circle cx="2101.7" cy="855.0" r="6.15" fill="#98AECB" stroke="#111" stroke-width="1.9"/>
<circle cx="2101.8" cy="947.9" r="6.15" fill="#98AECB" stroke="#111" stroke-width="1.9"/>
<circle cx="2102.9" cy="859.5" r="6.15" fill="#98AECB" stroke="#111" stroke-width="1.9"/>
<circle cx="2103.9" cy="1020.1" r="6.15" fill="#98AECB" stroke="#111" stroke-width="1.9"/>
<circle cx="2106.4" cy="841.4" r="6.15" fill="#98AECB" stroke="#111" stroke-width="1.9"/>
<circle cx="2106.4" cy="894.6" r="6.15" fill="#98AECB" stroke="#111" stroke-width="1.9"/>
<circle cx="2114.9" cy="889.3" r="6.15" fill="#98AECB" stroke="#111" stroke-width="1.9"/>
<circle cx="2061.8" cy="909.0" r="6.15" fill="#78AFBA" stroke="#111" stroke-width="1.9"/>
<circle cx="2064.4" cy="890.9" r="6.15" fill="#78AFBA" stroke="#111" stroke-width="1.9"/>
<circle cx="2108.6" cy="878.0" r="6.15" fill="#98AECB" stroke="#111" stroke-width="1.9"/>
<circle cx="2108.4" cy="965.7" r="6.15" fill="#98AECB" stroke="#111" stroke-width="1.9"/>
<circle cx="2103.4" cy="798.6" r="6.15" fill="#98AECB" stroke="#111" stroke-width="1.9"/>
<circle cx="2100.8" cy="797.1" r="6.15" fill="#98AECB" stroke="#111" stroke-width="1.9"/>
<circle cx="2111.6" cy="1018.6" r="6.15" fill="#98AECB" stroke="#111" stroke-width="1.9"/>
<circle cx="2096.9" cy="778.3" r="6.15" fill="#98AECB" stroke="#111" stroke-width="1.9"/>
<circle cx="2099.0" cy="906.8" r="6.15" fill="#98AECB" stroke="#111" stroke-width="1.9"/>
<polygon points="2100.7,915.1 2093.7,928.7 2107.7,928.7" fill="#98AECB" stroke="#111" stroke-width="1.8" stroke-linejoin="miter"/>
<polygon points="2095.4,852.0 2088.4,865.6 2102.4,865.6" fill="#98AECB" stroke="#111" stroke-width="1.8" stroke-linejoin="miter"/>
<polygon points="2120.4,831.4 2113.4,845.0 2127.4,845.0" fill="#98AECB" stroke="#111" stroke-width="1.8" stroke-linejoin="miter"/>
<circle cx="2066.8" cy="851.7" r="6.15" fill="#78AFBA" stroke="#111" stroke-width="1.9"/>
<circle cx="2112.2" cy="983.8" r="6.15" fill="#98AECB" stroke="#111" stroke-width="1.9"/>
<circle cx="2076.0" cy="915.1" r="6.15" fill="#78AFBA" stroke="#111" stroke-width="1.9"/>
<circle cx="2068.2" cy="951.0" r="6.15" fill="#78AFBA" stroke="#111" stroke-width="1.9"/>
<circle cx="2074.0" cy="874.5" r="6.15" fill="#78AFBA" stroke="#111" stroke-width="1.9"/>
<polygon points="2107.8,806.5 2100.8,820.1 2114.8,820.1" fill="#98AECB" stroke="#111" stroke-width="1.8" stroke-linejoin="miter"/>
<circle cx="2108.8" cy="782.0" r="6.15" fill="#98AECB" stroke="#111" stroke-width="1.9"/>
<circle cx="2080.1" cy="990.8" r="6.15" fill="#78AFBA" stroke="#111" stroke-width="1.9"/>
<polygon points="2122.1,866.5 2115.1,880.1 2129.1,880.1" fill="#98AECB" stroke="#111" stroke-width="1.8" stroke-linejoin="miter"/>
<polygon points="2100.4,862.7 2093.4,876.3 2107.4,876.3" fill="#98AECB" stroke="#111" stroke-width="1.8" stroke-linejoin="miter"/>
<circle cx="2112.3" cy="822.9" r="6.15" fill="#98AECB" stroke="#111" stroke-width="1.9"/>
<circle cx="2071.7" cy="937.4" r="6.15" fill="#78AFBA" stroke="#111" stroke-width="1.9"/>
<circle cx="2107.2" cy="898.8" r="6.15" fill="#98AECB" stroke="#111" stroke-width="1.9"/>
<circle cx="2093.3" cy="936.6" r="6.15" fill="#98AECB" stroke="#111" stroke-width="1.9"/>
<polygon points="2126.4,1006.4 2119.4,1020.0 2133.4,1020.0" fill="#98AECB" stroke="#111" stroke-width="1.8" stroke-linejoin="miter"/>
<circle cx="2114.1" cy="930.8" r="6.15" fill="#98AECB" stroke="#111" stroke-width="1.9"/>
<circle cx="2102.9" cy="898.8" r="6.15" fill="#98AECB" stroke="#111" stroke-width="1.9"/>
<polygon points="2115.6,898.1 2108.6,911.7 2122.6,911.7" fill="#98AECB" stroke="#111" stroke-width="1.8" stroke-linejoin="miter"/>
<polygon points="2113.0,992.9 2106.0,1006.5 2120.0,1006.5" fill="#98AECB" stroke="#111" stroke-width="1.8" stroke-linejoin="miter"/>
<circle cx="2101.5" cy="993.0" r="6.15" fill="#98AECB" stroke="#111" stroke-width="1.9"/>
<polygon points="2110.7,836.1 2103.7,849.7 2117.7,849.7" fill="#98AECB" stroke="#111" stroke-width="1.8" stroke-linejoin="miter"/>
<polygon points="2115.4,854.3 2108.4,867.9 2122.4,867.9" fill="#98AECB" stroke="#111" stroke-width="1.8" stroke-linejoin="miter"/>
<circle cx="2111.3" cy="857.4" r="6.15" fill="#98AECB" stroke="#111" stroke-width="1.9"/>
<circle cx="2091.8" cy="1001.5" r="6.15" fill="#98AECB" stroke="#111" stroke-width="1.9"/>
<polygon points="2106.0,995.0 2099.0,1008.6 2113.0,1008.6" fill="#98AECB" stroke="#111" stroke-width="1.8" stroke-linejoin="miter"/>
<circle cx="2102.3" cy="1029.2" r="6.15" fill="#98AECB" stroke="#111" stroke-width="1.9"/>
<circle cx="2098.6" cy="827.6" r="6.15" fill="#98AECB" stroke="#111" stroke-width="1.9"/>
<polygon points="2096.3,879.0 2089.3,892.6 2103.3,892.6" fill="#98AECB" stroke="#111" stroke-width="1.8" stroke-linejoin="miter"/>
<circle cx="2112.6" cy="887.8" r="6.15" fill="#98AECB" stroke="#111" stroke-width="1.9"/>
<polygon points="2105.9,876.1 2098.9,889.7 2112.9,889.7" fill="#98AECB" stroke="#111" stroke-width="1.8" stroke-linejoin="miter"/>
<polygon points="2118.0,902.6 2111.0,916.2 2125.0,916.2" fill="#98AECB" stroke="#111" stroke-width="1.8" stroke-linejoin="miter"/>
<polygon points="2101.7,828.4 2094.7,842.0 2108.7,842.0" fill="#98AECB" stroke="#111" stroke-width="1.8" stroke-linejoin="miter"/>
<polygon points="2111.6,885.9 2104.6,899.5 2118.6,899.5" fill="#98AECB" stroke="#111" stroke-width="1.8" stroke-linejoin="miter"/>
<circle cx="2115.7" cy="893.5" r="6.15" fill="#98AECB" stroke="#111" stroke-width="1.9"/>
<circle cx="2108.7" cy="933.8" r="6.15" fill="#98AECB" stroke="#111" stroke-width="1.9"/>
<polygon points="2112.4,1000.2 2105.4,1013.8 2119.4,1013.8" fill="#98AECB" stroke="#111" stroke-width="1.8" stroke-linejoin="miter"/>
<polygon points="2103.7,962.1 2096.7,975.7 2110.7,975.7" fill="#98AECB" stroke="#111" stroke-width="1.8" stroke-linejoin="miter"/>
<circle cx="2113.6" cy="867.4" r="6.15" fill="#98AECB" stroke="#111" stroke-width="1.9"/>
<circle cx="2103.9" cy="1006.9" r="6.15" fill="#98AECB" stroke="#111" stroke-width="1.9"/>
<circle cx="2116.6" cy="1007.7" r="6.15" fill="#98AECB" stroke="#111" stroke-width="1.9"/>
<polygon points="2101.1,873.6 2094.1,887.2 2108.1,887.2" fill="#98AECB" stroke="#111" stroke-width="1.8" stroke-linejoin="miter"/>
<circle cx="2095.8" cy="1029.9" r="6.15" fill="#98AECB" stroke="#111" stroke-width="1.9"/>
<polygon points="2106.5,951.4 2099.5,965.0 2113.5,965.0" fill="#98AECB" stroke="#111" stroke-width="1.8" stroke-linejoin="miter"/>
<circle cx="2102.5" cy="987.5" r="6.15" fill="#98AECB" stroke="#111" stroke-width="1.9"/>
<circle cx="2115.3" cy="995.3" r="6.15" fill="#98AECB" stroke="#111" stroke-width="1.9"/>
<polygon points="2106.4,974.9 2099.4,988.5 2113.4,988.5" fill="#98AECB" stroke="#111" stroke-width="1.8" stroke-linejoin="miter"/>
<circle cx="2104.1" cy="817.4" r="6.15" fill="#98AECB" stroke="#111" stroke-width="1.9"/>
<circle cx="2106.3" cy="963.1" r="6.15" fill="#98AECB" stroke="#111" stroke-width="1.9"/>
<polygon points="2116.9,993.4 2109.9,1007.0 2123.9,1007.0" fill="#98AECB" stroke="#111" stroke-width="1.8" stroke-linejoin="miter"/>
<circle cx="2108.6" cy="867.7" r="6.15" fill="#98AECB" stroke="#111" stroke-width="1.9"/>
<circle cx="2111.9" cy="954.2" r="6.15" fill="#98AECB" stroke="#111" stroke-width="1.9"/>
<circle cx="1681.1" cy="738.6" r="6.15" fill="#F5C296" stroke="#111" stroke-width="1.9"/>
<circle cx="1726.7" cy="694.9" r="6.15" fill="#F5C296" stroke="#111" stroke-width="1.9"/>
<circle cx="1743.5" cy="710.4" r="6.15" fill="#F5C296" stroke="#111" stroke-width="1.9"/>
<circle cx="1912.7" cy="681.3" r="6.15" fill="#F5C296" stroke="#111" stroke-width="1.9"/>
<circle cx="1904.4" cy="716.7" r="6.15" fill="#F5C296" stroke="#111" stroke-width="1.9"/>
<circle cx="1903.4" cy="725.4" r="6.15" fill="#F5C296" stroke="#111" stroke-width="1.9"/>
<circle cx="1911.3" cy="738.1" r="6.15" fill="#F5C296" stroke="#111" stroke-width="1.9"/>
<circle cx="1906.2" cy="755.2" r="6.15" fill="#F5C296" stroke="#111" stroke-width="1.9"/>
<circle cx="1849.5" cy="772.6" r="6.15" fill="#F5C296" stroke="#111" stroke-width="1.9"/>
<circle cx="1898.2" cy="771.3" r="6.15" fill="#F5C296" stroke="#111" stroke-width="1.9"/>
<circle cx="1919.0" cy="778.9" r="6.15" fill="#F5C296" stroke="#111" stroke-width="1.9"/>
<circle cx="1853.7" cy="794.6" r="6.15" fill="#F5C296" stroke="#111" stroke-width="1.9"/>
<circle cx="1791.8" cy="804.1" r="6.15" fill="#F5C296" stroke="#111" stroke-width="1.9"/>
<circle cx="1681.1" cy="819.0" r="6.15" fill="#F5C296" stroke="#111" stroke-width="1.9"/>
<circle cx="1920.0" cy="724.3" r="6.15" fill="#F5C296" stroke="#111" stroke-width="1.9"/>
<circle cx="2009.3" cy="679.6" r="6.15" fill="#F5C296" stroke="#111" stroke-width="1.9"/>
<circle cx="1930.6" cy="719.6" r="6.15" fill="#F5C296" stroke="#111" stroke-width="1.9"/>
<circle cx="1924.3" cy="724.3" r="6.15" fill="#F5C296" stroke="#111" stroke-width="1.9"/>
<circle cx="1926.8" cy="761.4" r="6.15" fill="#F5C296" stroke="#111" stroke-width="1.9"/>
<circle cx="1938.9" cy="794.9" r="6.15" fill="#F5C296" stroke="#111" stroke-width="1.9"/>
<circle cx="1972.8" cy="733.0" r="6.15" fill="#F5C296" stroke="#111" stroke-width="1.9"/>
<circle cx="2001.8" cy="728.7" r="6.15" fill="#F5C296" stroke="#111" stroke-width="1.9"/>
<circle cx="2005.9" cy="742.2" r="6.15" fill="#F5C296" stroke="#111" stroke-width="1.9"/>
<circle cx="2020.0" cy="738.4" r="6.15" fill="#F5C296" stroke="#111" stroke-width="1.9"/>
<circle cx="1989.2" cy="753.1" r="6.15" fill="#F5C296" stroke="#111" stroke-width="1.9"/>
<circle cx="1973.6" cy="762.2" r="6.15" fill="#F5C296" stroke="#111" stroke-width="1.9"/>
<circle cx="1968.8" cy="768.0" r="6.15" fill="#F5C296" stroke="#111" stroke-width="1.9"/>
<circle cx="1979.0" cy="777.2" r="6.15" fill="#F5C296" stroke="#111" stroke-width="1.9"/>
<circle cx="2005.2" cy="766.5" r="6.15" fill="#F5C296" stroke="#111" stroke-width="1.9"/>
<circle cx="2016.5" cy="770.9" r="6.15" fill="#F5C296" stroke="#111" stroke-width="1.9"/>
<circle cx="1999.3" cy="775.3" r="6.15" fill="#F5C296" stroke="#111" stroke-width="1.9"/>
<circle cx="2008.8" cy="780.4" r="6.15" fill="#F5C296" stroke="#111" stroke-width="1.9"/>
<circle cx="2023.4" cy="786.2" r="6.15" fill="#F5C296" stroke="#111" stroke-width="1.9"/>
<circle cx="2015.4" cy="790.6" r="6.15" fill="#F5C296" stroke="#111" stroke-width="1.9"/>
<circle cx="1969.5" cy="787.6" r="6.15" fill="#F5C296" stroke="#111" stroke-width="1.9"/>
<circle cx="1976.0" cy="792.0" r="6.15" fill="#F5C296" stroke="#111" stroke-width="1.9"/>
<circle cx="2010.7" cy="800.8" r="6.15" fill="#F5C296" stroke="#111" stroke-width="1.9"/>
<circle cx="2029.9" cy="801.5" r="6.15" fill="#F5C296" stroke="#111" stroke-width="1.9"/>
<circle cx="2037.2" cy="809.5" r="6.15" fill="#F5C296" stroke="#111" stroke-width="1.9"/>
<circle cx="2011.7" cy="810.9" r="6.15" fill="#F5C296" stroke="#111" stroke-width="1.9"/>
<circle cx="2007.4" cy="816.0" r="6.15" fill="#F5C296" stroke="#111" stroke-width="1.9"/>
<circle cx="1990.6" cy="812.8" r="6.15" fill="#F5C296" stroke="#111" stroke-width="1.9"/>
<circle cx="2046.0" cy="766.5" r="6.15" fill="#F5C296" stroke="#111" stroke-width="1.9"/>
<circle cx="2020.5" cy="830.2" r="6.15" fill="#F5C296" stroke="#111" stroke-width="1.9"/>
<circle cx="2038.7" cy="830.6" r="6.15" fill="#F5C296" stroke="#111" stroke-width="1.9"/>
<circle cx="2041.6" cy="839.3" r="6.15" fill="#F5C296" stroke="#111" stroke-width="1.9"/>
<circle cx="2029.9" cy="845.2" r="6.15" fill="#F5C296" stroke="#111" stroke-width="1.9"/>
<circle cx="1941.5" cy="840.1" r="6.15" fill="#F5C296" stroke="#111" stroke-width="1.9"/>
<circle cx="1960.0" cy="844.4" r="6.15" fill="#F5C296" stroke="#111" stroke-width="1.9"/>
<circle cx="2047.4" cy="848.8" r="6.15" fill="#F5C296" stroke="#111" stroke-width="1.9"/>
<polygon points="1947.9,741.5 1940.9,755.1 1954.9,755.1" fill="#F5C296" stroke="#111" stroke-width="1.8" stroke-linejoin="miter"/>
<polygon points="1955.7,789.6 1948.7,803.2 1962.7,803.2" fill="#F5C296" stroke="#111" stroke-width="1.8" stroke-linejoin="miter"/>
<circle cx="2073.6" cy="747.9" r="6.15" fill="#78AFBA" stroke="#111" stroke-width="1.9"/>
<circle cx="2062.0" cy="795.2" r="6.15" fill="#78AFBA" stroke="#111" stroke-width="1.9"/>
<circle cx="2082.8" cy="797.8" r="6.15" fill="#78AFBA" stroke="#111" stroke-width="1.9"/>
<circle cx="2090.8" cy="797.8" r="6.15" fill="#78AFBA" stroke="#111" stroke-width="1.9"/>
<circle cx="2056.2" cy="810.2" r="6.15" fill="#78AFBA" stroke="#111" stroke-width="1.9"/>
<circle cx="2051.8" cy="821.9" r="6.15" fill="#78AFBA" stroke="#111" stroke-width="1.9"/>
<circle cx="2070.7" cy="830.6" r="6.15" fill="#78AFBA" stroke="#111" stroke-width="1.9"/>
<circle cx="2075.1" cy="829.2" r="6.15" fill="#78AFBA" stroke="#111" stroke-width="1.9"/>
<circle cx="2059.1" cy="839.3" r="6.15" fill="#78AFBA" stroke="#111" stroke-width="1.9"/>
<circle cx="2057.6" cy="845.2" r="6.15" fill="#78AFBA" stroke="#111" stroke-width="1.9"/>
<circle cx="2070.0" cy="846.6" r="6.15" fill="#78AFBA" stroke="#111" stroke-width="1.9"/>
<polygon points="2048.9,826.7 2041.9,840.3 2055.9,840.3" fill="#78AFBA" stroke="#111" stroke-width="1.8" stroke-linejoin="miter"/>
<circle cx="2104.2" cy="737.4" r="6.15" fill="#98AECB" stroke="#111" stroke-width="1.9"/>
<circle cx="2098.4" cy="742.1" r="6.15" fill="#98AECB" stroke="#111" stroke-width="1.9"/>
<circle cx="2104.2" cy="742.1" r="6.15" fill="#98AECB" stroke="#111" stroke-width="1.9"/>
<circle cx="2089.7" cy="765.8" r="6.15" fill="#98AECB" stroke="#111" stroke-width="1.9"/>
<circle cx="2097.7" cy="768.7" r="6.15" fill="#98AECB" stroke="#111" stroke-width="1.9"/>
<circle cx="2108.6" cy="774.5" r="6.15" fill="#98AECB" stroke="#111" stroke-width="1.9"/>
<circle cx="2104.2" cy="776.0" r="6.15" fill="#98AECB" stroke="#111" stroke-width="1.9"/>
<circle cx="2094.0" cy="778.2" r="6.15" fill="#98AECB" stroke="#111" stroke-width="1.9"/>
<circle cx="2126.1" cy="780.1" r="6.15" fill="#98AECB" stroke="#111" stroke-width="1.9"/>
<circle cx="2096.9" cy="786.2" r="6.15" fill="#98AECB" stroke="#111" stroke-width="1.9"/>
<circle cx="2104.2" cy="786.2" r="6.15" fill="#98AECB" stroke="#111" stroke-width="1.9"/>
<circle cx="2107.1" cy="798.6" r="6.15" fill="#98AECB" stroke="#111" stroke-width="1.9"/>
<circle cx="2104.2" cy="801.5" r="6.15" fill="#98AECB" stroke="#111" stroke-width="1.9"/>
<circle cx="2107.1" cy="808.8" r="6.15" fill="#98AECB" stroke="#111" stroke-width="1.9"/>
<circle cx="2101.3" cy="811.7" r="6.15" fill="#98AECB" stroke="#111" stroke-width="1.9"/>
<circle cx="2098.4" cy="820.4" r="6.15" fill="#98AECB" stroke="#111" stroke-width="1.9"/>
<circle cx="2096.9" cy="836.4" r="6.15" fill="#98AECB" stroke="#111" stroke-width="1.9"/>
<circle cx="2099.8" cy="837.9" r="6.15" fill="#98AECB" stroke="#111" stroke-width="1.9"/>
<circle cx="2088.9" cy="843.7" r="6.15" fill="#98AECB" stroke="#111" stroke-width="1.9"/>
<circle cx="2104.2" cy="842.3" r="6.15" fill="#98AECB" stroke="#111" stroke-width="1.9"/>
<circle cx="2108.6" cy="840.8" r="6.15" fill="#98AECB" stroke="#111" stroke-width="1.9"/>
<circle cx="2095.5" cy="849.5" r="6.15" fill="#98AECB" stroke="#111" stroke-width="1.9"/>
<polygon points="2122.4,793.2 2115.4,806.8 2129.4,806.8" fill="#98AECB" stroke="#111" stroke-width="1.8" stroke-linejoin="miter"/>
<polygon points="2118.1,800.5 2111.1,814.1 2125.1,814.1" fill="#98AECB" stroke="#111" stroke-width="1.8" stroke-linejoin="miter"/>
<polygon points="2090.4,807.8 2083.4,821.4 2097.4,821.4" fill="#98AECB" stroke="#111" stroke-width="1.8" stroke-linejoin="miter"/>
<polygon points="2124.6,806.3 2117.6,819.9 2131.6,819.9" fill="#98AECB" stroke="#111" stroke-width="1.8" stroke-linejoin="miter"/>
<polygon points="2116.6,812.9 2109.6,826.5 2123.6,826.5" fill="#98AECB" stroke="#111" stroke-width="1.8" stroke-linejoin="miter"/>
<polygon points="2105.7,813.6 2098.7,827.2 2112.7,827.2" fill="#98AECB" stroke="#111" stroke-width="1.8" stroke-linejoin="miter"/>
<polygon points="2114.4,828.2 2107.4,841.8 2121.4,841.8" fill="#98AECB" stroke="#111" stroke-width="1.8" stroke-linejoin="miter"/>
<polygon points="2121.7,829.6 2114.7,843.2 2128.7,843.2" fill="#98AECB" stroke="#111" stroke-width="1.8" stroke-linejoin="miter"/>
<polygon points="2118.8,838.4 2111.8,852.0 2125.8,852.0" fill="#98AECB" stroke="#111" stroke-width="1.8" stroke-linejoin="miter"/>
<polygon points="2110.0,839.8 2103.0,853.4 2117.0,853.4" fill="#98AECB" stroke="#111" stroke-width="1.8" stroke-linejoin="miter"/>
<circle cx="2001.5" cy="879.1" r="6.15" fill="#F5C296" stroke="#111" stroke-width="1.9"/>
<circle cx="2038.7" cy="880.2" r="6.15" fill="#F5C296" stroke="#111" stroke-width="1.9"/>
<circle cx="2053.2" cy="902.0" r="6.15" fill="#F5C296" stroke="#111" stroke-width="1.9"/>
<circle cx="2046.0" cy="911.5" r="6.15" fill="#F5C296" stroke="#111" stroke-width="1.9"/>
<circle cx="2044.5" cy="894.7" r="6.15" fill="#F5C296" stroke="#111" stroke-width="1.9"/>
<circle cx="1897.7" cy="917.6" r="6.15" fill="#F5C296" stroke="#111" stroke-width="1.9"/>
<polygon points="2013.2,869.7 2006.2,883.3 2020.2,883.3" fill="#F5C296" stroke="#111" stroke-width="1.8" stroke-linejoin="miter"/>
<polygon points="1972.8,900.7 1965.8,914.3 1979.8,914.3" fill="#F5C296" stroke="#111" stroke-width="1.8" stroke-linejoin="miter"/>
<polygon points="1980.1,920.7 1973.1,934.3 1987.1,934.3" fill="#F5C296" stroke="#111" stroke-width="1.8" stroke-linejoin="miter"/>
<polygon points="1994.0,922.1 1987.0,935.7 2001.0,935.7" fill="#F5C296" stroke="#111" stroke-width="1.8" stroke-linejoin="miter"/>
<polygon points="2043.0,879.9 2036.0,893.5 2050.0,893.5" fill="#F5C296" stroke="#111" stroke-width="1.8" stroke-linejoin="miter"/>
<circle cx="2075.1" cy="856.1" r="6.15" fill="#78AFBA" stroke="#111" stroke-width="1.9"/>
<circle cx="2051.8" cy="877.2" r="6.15" fill="#78AFBA" stroke="#111" stroke-width="1.9"/>
<circle cx="2063.4" cy="874.3" r="6.15" fill="#78AFBA" stroke="#111" stroke-width="1.9"/>
<circle cx="2060.5" cy="895.4" r="6.15" fill="#78AFBA" stroke="#111" stroke-width="1.9"/>
<circle cx="2078.0" cy="913.7" r="6.15" fill="#78AFBA" stroke="#111" stroke-width="1.9"/>
<circle cx="2073.6" cy="919.5" r="6.15" fill="#78AFBA" stroke="#111" stroke-width="1.9"/>
<circle cx="2051.8" cy="938.7" r="6.15" fill="#78AFBA" stroke="#111" stroke-width="1.9"/>
<circle cx="2058.8" cy="941.6" r="6.15" fill="#78AFBA" stroke="#111" stroke-width="1.9"/>
<circle cx="2075.1" cy="942.1" r="6.15" fill="#78AFBA" stroke="#111" stroke-width="1.9"/>
<circle cx="2080.9" cy="947.2" r="6.15" fill="#78AFBA" stroke="#111" stroke-width="1.9"/>
<circle cx="2074.4" cy="971.9" r="6.15" fill="#78AFBA" stroke="#111" stroke-width="1.9"/>
<circle cx="2083.8" cy="987.9" r="6.15" fill="#78AFBA" stroke="#111" stroke-width="1.9"/>
<circle cx="2077.3" cy="994.5" r="6.15" fill="#78AFBA" stroke="#111" stroke-width="1.9"/>
<circle cx="2065.6" cy="1024.8" r="6.15" fill="#78AFBA" stroke="#111" stroke-width="1.9"/>
<circle cx="2080.9" cy="894.7" r="6.15" fill="#78AFBA" stroke="#111" stroke-width="1.9"/>
<polygon points="2072.2,865.3 2065.2,878.9 2079.2,878.9" fill="#78AFBA" stroke="#111" stroke-width="1.8" stroke-linejoin="miter"/>
<polygon points="2081.6,873.4 2074.6,887.0 2088.6,887.0" fill="#78AFBA" stroke="#111" stroke-width="1.8" stroke-linejoin="miter"/>
<polygon points="2066.3,884.3 2059.3,897.9 2073.3,897.9" fill="#78AFBA" stroke="#111" stroke-width="1.8" stroke-linejoin="miter"/>
<polygon points="2080.9,907.6 2073.9,921.2 2087.9,921.2" fill="#78AFBA" stroke="#111" stroke-width="1.8" stroke-linejoin="miter"/>
<polygon points="2078.0,940.4 2071.0,954.0 2085.0,954.0" fill="#78AFBA" stroke="#111" stroke-width="1.8" stroke-linejoin="miter"/>
<polygon points="2080.9,947.6 2073.9,961.2 2087.9,961.2" fill="#78AFBA" stroke="#111" stroke-width="1.8" stroke-linejoin="miter"/>
<circle cx="2098.4" cy="851.0" r="6.15" fill="#98AECB" stroke="#111" stroke-width="1.9"/>
<circle cx="2123.2" cy="861.2" r="6.15" fill="#98AECB" stroke="#111" stroke-width="1.9"/>
<circle cx="2089.7" cy="864.1" r="6.15" fill="#98AECB" stroke="#111" stroke-width="1.9"/>
<circle cx="2101.3" cy="861.2" r="6.15" fill="#98AECB" stroke="#111" stroke-width="1.9"/>
<circle cx="2115.9" cy="864.1" r="6.15" fill="#98AECB" stroke="#111" stroke-width="1.9"/>
<circle cx="2130.4" cy="890.1" r="6.15" fill="#98AECB" stroke="#111" stroke-width="1.9"/>
<circle cx="2095.5" cy="880.2" r="6.15" fill="#98AECB" stroke="#111" stroke-width="1.9"/>
<circle cx="2104.2" cy="874.3" r="6.15" fill="#98AECB" stroke="#111" stroke-width="1.9"/>
<circle cx="2104.2" cy="893.3" r="6.15" fill="#98AECB" stroke="#111" stroke-width="1.9"/>
<circle cx="2092.6" cy="894.7" r="6.15" fill="#98AECB" stroke="#111" stroke-width="1.9"/>
<circle cx="2098.4" cy="916.6" r="6.15" fill="#98AECB" stroke="#111" stroke-width="1.9"/>
<circle cx="2107.1" cy="922.4" r="6.15" fill="#98AECB" stroke="#111" stroke-width="1.9"/>
<circle cx="2118.8" cy="929.7" r="6.15" fill="#98AECB" stroke="#111" stroke-width="1.9"/>
<circle cx="2124.6" cy="922.4" r="6.15" fill="#98AECB" stroke="#111" stroke-width="1.9"/>
<circle cx="2092.6" cy="928.2" r="6.15" fill="#98AECB" stroke="#111" stroke-width="1.9"/>
<circle cx="2101.3" cy="937.0" r="6.15" fill="#98AECB" stroke="#111" stroke-width="1.9"/>
<circle cx="2111.5" cy="945.7" r="6.15" fill="#98AECB" stroke="#111" stroke-width="1.9"/>
<circle cx="2126.1" cy="937.0" r="6.15" fill="#98AECB" stroke="#111" stroke-width="1.9"/>
<circle cx="2095.5" cy="939.9" r="6.15" fill="#98AECB" stroke="#111" stroke-width="1.9"/>
<circle cx="2115.9" cy="970.5" r="6.15" fill="#98AECB" stroke="#111" stroke-width="1.9"/>
<circle cx="2121.7" cy="985.0" r="6.15" fill="#98AECB" stroke="#111" stroke-width="1.9"/>
<circle cx="2130.4" cy="1000.3" r="6.15" fill="#98AECB" stroke="#111" stroke-width="1.9"/>
<circle cx="2092.6" cy="1006.9" r="6.15" fill="#98AECB" stroke="#111" stroke-width="1.9"/>
<circle cx="2117.3" cy="1001.0" r="6.15" fill="#98AECB" stroke="#111" stroke-width="1.9"/>
<circle cx="2107.1" cy="1029.4" r="6.15" fill="#98AECB" stroke="#111" stroke-width="1.9"/>
<circle cx="2130.4" cy="1036.7" r="6.15" fill="#98AECB" stroke="#111" stroke-width="1.9"/>
<circle cx="2095.5" cy="1036.7" r="6.15" fill="#98AECB" stroke="#111" stroke-width="1.9"/>
<circle cx="2089.7" cy="973.4" r="6.15" fill="#98AECB" stroke="#111" stroke-width="1.9"/>
<polygon points="2113.0,853.0 2106.0,866.6 2120.0,866.6" fill="#98AECB" stroke="#111" stroke-width="1.8" stroke-linejoin="miter"/>
<polygon points="2127.5,867.5 2120.5,881.1 2134.5,881.1" fill="#98AECB" stroke="#111" stroke-width="1.8" stroke-linejoin="miter"/>
<polygon points="2107.1,861.7 2100.1,875.3 2114.1,875.3" fill="#98AECB" stroke="#111" stroke-width="1.8" stroke-linejoin="miter"/>
<polygon points="2115.9,871.9 2108.9,885.5 2122.9,885.5" fill="#98AECB" stroke="#111" stroke-width="1.8" stroke-linejoin="miter"/>
<polygon points="2086.7,866.1 2079.7,879.7 2093.7,879.7" fill="#98AECB" stroke="#111" stroke-width="1.8" stroke-linejoin="miter"/>
<polygon points="2101.3,877.7 2094.3,891.3 2108.3,891.3" fill="#98AECB" stroke="#111" stroke-width="1.8" stroke-linejoin="miter"/>
<polygon points="2114.4,889.4 2107.4,903.0 2121.4,903.0" fill="#98AECB" stroke="#111" stroke-width="1.8" stroke-linejoin="miter"/>
<polygon points="2095.5,895.2 2088.5,908.8 2102.5,908.8" fill="#98AECB" stroke="#111" stroke-width="1.8" stroke-linejoin="miter"/>
<polygon points="2107.1,896.7 2100.1,910.3 2114.1,910.3" fill="#98AECB" stroke="#111" stroke-width="1.8" stroke-linejoin="miter"/>
<polygon points="2118.8,896.7 2111.8,910.3 2125.8,910.3" fill="#98AECB" stroke="#111" stroke-width="1.8" stroke-linejoin="miter"/>
<polygon points="2101.3,905.4 2094.3,919.0 2108.3,919.0" fill="#98AECB" stroke="#111" stroke-width="1.8" stroke-linejoin="miter"/>
<polygon points="2113.0,909.8 2106.0,923.4 2120.0,923.4" fill="#98AECB" stroke="#111" stroke-width="1.8" stroke-linejoin="miter"/>
<polygon points="2127.5,918.5 2120.5,932.1 2134.5,932.1" fill="#98AECB" stroke="#111" stroke-width="1.8" stroke-linejoin="miter"/>
<polygon points="2104.2,922.9 2097.2,936.5 2111.2,936.5" fill="#98AECB" stroke="#111" stroke-width="1.8" stroke-linejoin="miter"/>
<polygon points="2092.6,912.7 2085.6,926.3 2099.6,926.3" fill="#98AECB" stroke="#111" stroke-width="1.8" stroke-linejoin="miter"/>
<polygon points="2110.0,930.2 2103.0,943.8 2117.0,943.8" fill="#98AECB" stroke="#111" stroke-width="1.8" stroke-linejoin="miter"/>
<polygon points="2130.4,940.4 2123.4,954.0 2137.4,954.0" fill="#98AECB" stroke="#111" stroke-width="1.8" stroke-linejoin="miter"/>
<polygon points="2124.6,947.6 2117.6,961.2 2131.6,961.2" fill="#98AECB" stroke="#111" stroke-width="1.8" stroke-linejoin="miter"/>
<polygon points="2104.2,943.3 2097.2,956.9 2111.2,956.9" fill="#98AECB" stroke="#111" stroke-width="1.8" stroke-linejoin="miter"/>
<polygon points="2095.5,944.7 2088.5,958.3 2102.5,958.3" fill="#98AECB" stroke="#111" stroke-width="1.8" stroke-linejoin="miter"/>
<polygon points="2113.0,946.2 2106.0,959.8 2120.0,959.8" fill="#98AECB" stroke="#111" stroke-width="1.8" stroke-linejoin="miter"/>
<polygon points="2101.3,954.9 2094.3,968.5 2108.3,968.5" fill="#98AECB" stroke="#111" stroke-width="1.8" stroke-linejoin="miter"/>
<polygon points="2110.0,959.3 2103.0,972.9 2117.0,972.9" fill="#98AECB" stroke="#111" stroke-width="1.8" stroke-linejoin="miter"/>
<polygon points="2095.5,962.2 2088.5,975.8 2102.5,975.8" fill="#98AECB" stroke="#111" stroke-width="1.8" stroke-linejoin="miter"/>
<polygon points="2104.2,968.0 2097.2,981.6 2111.2,981.6" fill="#98AECB" stroke="#111" stroke-width="1.8" stroke-linejoin="miter"/>
<polygon points="2092.6,975.3 2085.6,988.9 2099.6,988.9" fill="#98AECB" stroke="#111" stroke-width="1.8" stroke-linejoin="miter"/>
<polygon points="2104.2,981.1 2097.2,994.7 2111.2,994.7" fill="#98AECB" stroke="#111" stroke-width="1.8" stroke-linejoin="miter"/>
<polygon points="2113.0,973.9 2106.0,987.5 2120.0,987.5" fill="#98AECB" stroke="#111" stroke-width="1.8" stroke-linejoin="miter"/>
<polygon points="2124.6,975.3 2117.6,988.9 2131.6,988.9" fill="#98AECB" stroke="#111" stroke-width="1.8" stroke-linejoin="miter"/>
<polygon points="2094.0,992.8 2087.0,1006.4 2101.0,1006.4" fill="#98AECB" stroke="#111" stroke-width="1.8" stroke-linejoin="miter"/>
<polygon points="2104.2,988.4 2097.2,1002.0 2111.2,1002.0" fill="#98AECB" stroke="#111" stroke-width="1.8" stroke-linejoin="miter"/>
<polygon points="2115.9,987.0 2108.9,1000.6 2122.9,1000.6" fill="#98AECB" stroke="#111" stroke-width="1.8" stroke-linejoin="miter"/>
<polygon points="2110.0,1000.1 2103.0,1013.7 2117.0,1013.7" fill="#98AECB" stroke="#111" stroke-width="1.8" stroke-linejoin="miter"/>
<polygon points="2098.4,1009.5 2091.4,1023.1 2105.4,1023.1" fill="#98AECB" stroke="#111" stroke-width="1.8" stroke-linejoin="miter"/>
<polygon points="2114.4,1010.3 2107.4,1023.9 2121.4,1023.9" fill="#98AECB" stroke="#111" stroke-width="1.8" stroke-linejoin="miter"/>
<polygon points="2107.1,1004.4 2100.1,1018.0 2114.1,1018.0" fill="#98AECB" stroke="#111" stroke-width="1.8" stroke-linejoin="miter"/>
<polygon points="2121.7,985.5 2114.7,999.1 2128.7,999.1" fill="#98AECB" stroke="#111" stroke-width="1.8" stroke-linejoin="miter"/>
<circle cx="2066.1" cy="1076.5" r="6.15" fill="#78AFBA" stroke="#111" stroke-width="1.9"/>
<circle cx="2072.5" cy="1173.2" r="6.15" fill="#78AFBA" stroke="#111" stroke-width="1.9"/>
<circle cx="2096.6" cy="1059.6" r="6.15" fill="#98AECB" stroke="#111" stroke-width="1.9"/>
<circle cx="2091.8" cy="1089.2" r="6.15" fill="#98AECB" stroke="#111" stroke-width="1.9"/>
<circle cx="2119.9" cy="1095.0" r="6.15" fill="#98AECB" stroke="#111" stroke-width="1.9"/>
<circle cx="2094.3" cy="1146.0" r="6.15" fill="#98AECB" stroke="#111" stroke-width="1.9"/>
<polygon points="2116.2,1051.1 2109.2,1064.7 2123.2,1064.7" fill="#98AECB" stroke="#111" stroke-width="1.8" stroke-linejoin="miter"/>
<polygon points="2095.5,1013.2 2088.5,1026.8 2102.5,1026.8" fill="#98AECB" stroke="#111" stroke-width="1.8" stroke-linejoin="miter"/>
<polygon points="2115.9,1013.2 2108.9,1026.8 2122.9,1026.8" fill="#98AECB" stroke="#111" stroke-width="1.8" stroke-linejoin="miter"/>
<line x1="2042.3" y1="664" x2="2042.3" y2="1197" stroke="#1E9F5A" stroke-width="2.2" stroke-dasharray="8.6 9.8"/>
<path d="M1682.3 737.4 L2042.0 807.5" fill="none" stroke="#000" stroke-width="2.1"/>
<path d="M2042.0 891.0 L2128.0 912.3" fill="none" stroke="#000" stroke-width="2.1"/>
<path d="M1683.0 760.0 C1691.0 758.7 1715.8 754.1 1731.1 752.0 C1746.4 749.9 1760.2 748.3 1774.8 747.6 C1789.4 746.9 1803.9 746.9 1818.5 747.6 C1833.1 748.3 1850.1 750.1 1862.2 752.0 C1874.3 753.9 1884.0 757.3 1891.3 759.2 C1898.6 761.1 1897.6 760.4 1906.1 763.6 C1914.6 766.8 1931.6 772.9 1942.5 778.2 C1953.4 783.5 1962.0 789.1 1971.7 795.6 C1981.4 802.1 1992.3 810.7 2000.8 817.5 C2009.3 824.3 2016.5 830.6 2022.6 836.4 C2028.7 842.2 2031.1 846.2 2037.2 852.5 C2043.3 858.8 2051.8 867.5 2059.1 874.3 C2066.4 881.1 2073.6 888.4 2080.9 893.3 C2088.2 898.2 2095.0 899.4 2102.8 903.5 C2110.6 907.6 2123.4 915.6 2127.5 918.0" fill="none" stroke="#F0602F" stroke-width="2.6" stroke-dasharray="4.5 7.5 15.5 7.5"/>
<text transform="translate(2038.9 1135.0) scale(0.95 1)" font-size="33" text-anchor="end" fill="#CC0000">32.83</text>
</g>
<text transform="translate(453.8 1280.1) scale(0.962 1)" font-size="38" text-anchor="middle" fill="#000">Salinity</text>
<text transform="translate(1186.5 1278.7) scale(0.9685 1)" font-size="39.6" text-anchor="middle" fill="#000">Salinity</text>
<text transform="translate(1902.4 1280.0) scale(0.914 1)" font-size="38" text-anchor="middle" fill="#000">Salinity</text>
<g id="legend">
<circle cx="575.4" cy="1341" r="17.6" fill="#F2B385" stroke="#000" stroke-width="2.7"/>
<text transform="translate(633.0 1353.0) scale(0.99 1)" font-size="32.5" text-anchor="start" fill="#000">ZP</text>
<circle cx="759.3" cy="1341" r="17.6" fill="#6FAAB6" stroke="#000" stroke-width="2.7"/>
<text transform="translate(819.7 1353.0) scale(0.99 1)" font-size="32.5" text-anchor="start" fill="#000">MW</text>
<circle cx="958.1" cy="1341" r="17.6" fill="#8EA6C6" stroke="#000" stroke-width="2.7"/>
<text transform="translate(1012.7 1353.0) scale(0.99 1)" font-size="32.5" text-anchor="start" fill="#000">SCS</text>
<circle cx="1284.9" cy="1341" r="17.6" fill="#ECECEC" stroke="#000" stroke-width="2.7"/>
<text transform="translate(1345.0 1353.0) scale(0.99 1)" font-size="32.5" text-anchor="start" fill="#000">Summer</text>
<polygon points="1577.6,1322.5 1559.5,1355.5 1595.7,1355.5" fill="#ECECEC" stroke="#000" stroke-width="2.7" stroke-linejoin="miter"/>
<text transform="translate(1641.7 1353.0) scale(0.99 1)" font-size="32.5" text-anchor="start" fill="#000">Winter</text>
</g>
</svg>
</body></html>
